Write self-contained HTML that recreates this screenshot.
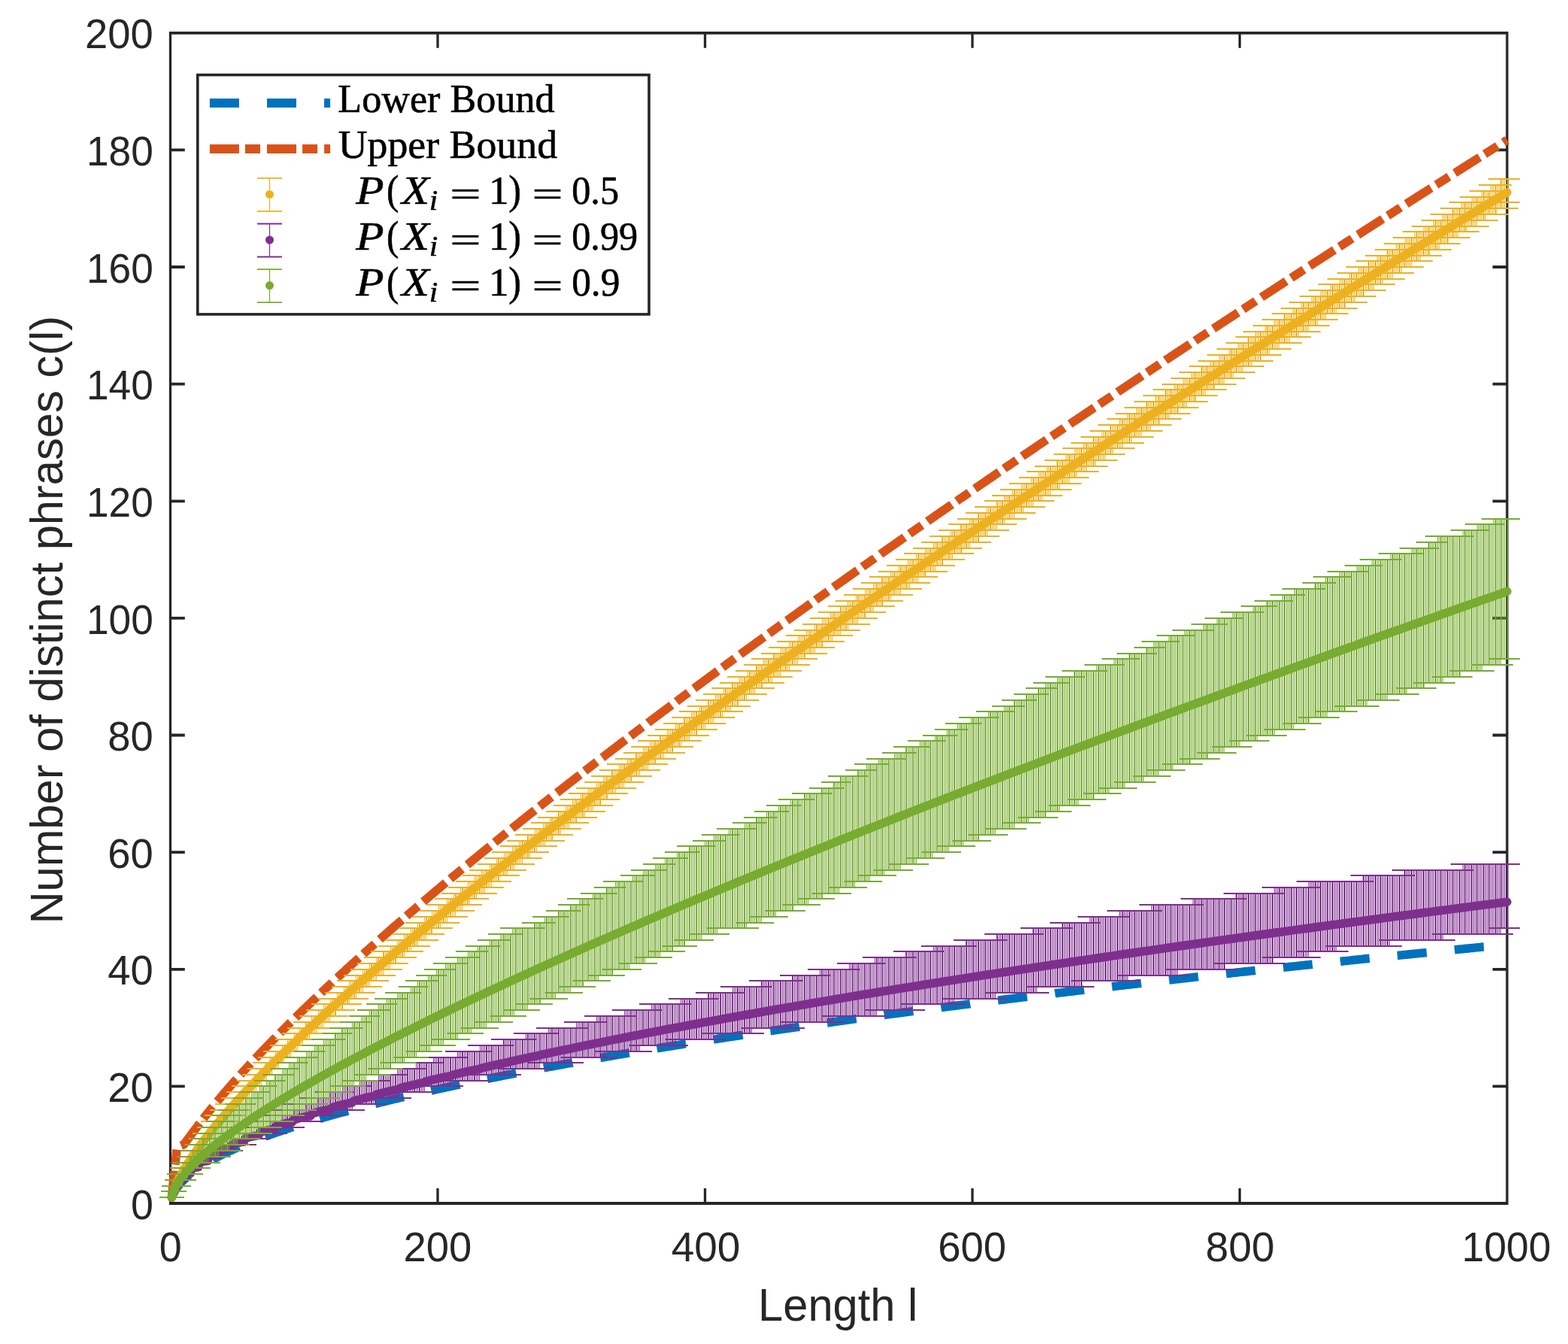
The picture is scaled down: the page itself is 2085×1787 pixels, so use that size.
<!DOCTYPE html><html><head><meta charset="utf-8"><title>Number of distinct phrases c(l) vs length l</title><style>html,body{margin:0;padding:0;background:#fff;overflow:hidden}svg{display:block}</style></head><body>
<svg width="2085" height="1787" viewBox="0 0 2085 1787">
<rect x="0" y="0" width="2085" height="1787" fill="#fff"/>
<path d="M582,1600V1580M582,43.8V63.8M937.5,1600V1580M937.5,43.8V63.8M1293,1600V1580M1293,43.8V63.8M1648.5,1600V1580M1648.5,43.8V63.8M226.5,41.9V1601.9M2004,41.9V1601.9" stroke="#262626" stroke-width="3.3" fill="none"/>
<path d="M226.5,1444.4H245.8M2004,1444.4H1984.7M226.5,1288.8H245.8M2004,1288.8H1984.7M226.5,1133.1H245.8M2004,1133.1H1984.7M226.5,977.5H245.8M2004,977.5H1984.7M226.5,821.9H245.8M2004,821.9H1984.7M226.5,666.3H245.8M2004,666.3H1984.7M226.5,510.7H245.8M2004,510.7H1984.7M226.5,355H245.8M2004,355H1984.7M226.5,199.4H245.8M2004,199.4H1984.7M226.5,43.8H2004M226.5,1600H2004" stroke="#262626" stroke-width="3.8" fill="none"/>
<text transform="translate(211.75,1676.9) scale(0.97,1)" font-family="Liberation Sans, Arial, Helvetica, sans-serif" font-size="55.5" fill="#262626">0</text>
<text transform="translate(536.39,1676.9) scale(0.98,1)" font-family="Liberation Sans, Arial, Helvetica, sans-serif" font-size="55.5" fill="#262626">200</text>
<text transform="translate(892.64,1676.9) scale(0.99,1)" font-family="Liberation Sans, Arial, Helvetica, sans-serif" font-size="55.5" fill="#262626">400</text>
<text transform="translate(1247.37,1676.9) scale(0.98,1)" font-family="Liberation Sans, Arial, Helvetica, sans-serif" font-size="55.5" fill="#262626">600</text>
<text transform="translate(1603.07,1676.9) scale(0.99,1)" font-family="Liberation Sans, Arial, Helvetica, sans-serif" font-size="55.5" fill="#262626">800</text>
<text transform="translate(1943.86,1676.9) scale(0.96,1)" font-family="Liberation Sans, Arial, Helvetica, sans-serif" font-size="55.5" fill="#262626">1000</text>
<text transform="translate(174.02,1620.6) scale(0.97,1)" font-family="Liberation Sans, Arial, Helvetica, sans-serif" font-size="55.5" fill="#262626">0</text>
<text transform="translate(143.33,1464.98) scale(0.98,1)" font-family="Liberation Sans, Arial, Helvetica, sans-serif" font-size="55.5" fill="#262626">20</text>
<text transform="translate(143.33,1309.36) scale(0.98,1)" font-family="Liberation Sans, Arial, Helvetica, sans-serif" font-size="55.5" fill="#262626">40</text>
<text transform="translate(143.33,1153.74) scale(0.98,1)" font-family="Liberation Sans, Arial, Helvetica, sans-serif" font-size="55.5" fill="#262626">60</text>
<text transform="translate(143.33,998.12) scale(0.98,1)" font-family="Liberation Sans, Arial, Helvetica, sans-serif" font-size="55.5" fill="#262626">80</text>
<text transform="translate(114.91,842.5) scale(0.96,1)" font-family="Liberation Sans, Arial, Helvetica, sans-serif" font-size="55.5" fill="#262626">100</text>
<text transform="translate(114.91,686.88) scale(0.96,1)" font-family="Liberation Sans, Arial, Helvetica, sans-serif" font-size="55.5" fill="#262626">120</text>
<text transform="translate(114.91,531.26) scale(0.96,1)" font-family="Liberation Sans, Arial, Helvetica, sans-serif" font-size="55.5" fill="#262626">140</text>
<text transform="translate(114.91,375.64) scale(0.96,1)" font-family="Liberation Sans, Arial, Helvetica, sans-serif" font-size="55.5" fill="#262626">160</text>
<text transform="translate(114.91,220.02) scale(0.96,1)" font-family="Liberation Sans, Arial, Helvetica, sans-serif" font-size="55.5" fill="#262626">180</text>
<text transform="translate(112.93,64.4) scale(0.98,1)" font-family="Liberation Sans, Arial, Helvetica, sans-serif" font-size="55.5" fill="#262626">200</text>
<text transform="translate(1008.09,1755.9) scale(0.97,1)" font-family="Liberation Sans, Arial, Helvetica, sans-serif" font-size="61.5" fill="#262626">Length l</text>
<text transform="translate(82.8,1228.61) rotate(-90) scale(0.97,1)" font-family="Liberation Sans, Arial, Helvetica, sans-serif" font-size="61.5" fill="#262626">Number of distinct phrases c(l)</text>
<polyline points="228.3,1592.2 230.1,1587.8 231.8,1584.4 233.6,1581.5 235.4,1579 237.2,1576.7 238.9,1574.5 240.7,1572.5 242.5,1570.7 244.3,1568.9 246.1,1567.2 247.8,1565.6 249.6,1564 251.4,1562.5 253.2,1561.1 254.9,1559.7 256.7,1558.4 258.5,1557 260.3,1555.8 262.1,1554.5 263.8,1553.3 265.6,1552.1 267.4,1551 269.2,1549.8 270.9,1548.7 272.7,1547.6 274.5,1546.6 276.3,1545.5 278,1544.5 279.8,1543.5 281.6,1542.5 283.4,1541.5 285.2,1540.6 286.9,1539.6 288.7,1538.7 290.5,1537.8 292.3,1536.8 294,1535.9 295.8,1535.1 297.6,1534.2 299.4,1533.3 301.2,1532.5 302.9,1531.6 304.7,1530.8 306.5,1530 308.3,1529.2 310,1528.4 311.8,1527.6 313.6,1526.8 315.4,1526 317.2,1525.2 318.9,1524.4 320.7,1523.7 322.5,1522.9 324.3,1522.2 326,1521.5 327.8,1520.7 329.6,1520 331.4,1519.3 333.1,1518.6 334.9,1517.9 336.7,1517.2 338.5,1516.5 340.3,1515.8 342,1515.1 343.8,1514.4 345.6,1513.7 347.4,1513.1 349.1,1512.4 350.9,1511.7 352.7,1511.1 354.5,1510.4 356.3,1509.8 358,1509.2 359.8,1508.5 361.6,1507.9 363.4,1507.3 365.1,1506.6 366.9,1506 368.7,1505.4 370.5,1504.8 372.3,1504.2 374,1503.6 375.8,1503 377.6,1502.4 379.4,1501.8 381.1,1501.2 382.9,1500.6 384.7,1500 386.5,1499.4 388.3,1498.8 390,1498.3 391.8,1497.7 393.6,1497.1 395.4,1496.6 397.1,1496 398.9,1495.4 400.7,1494.9 402.5,1494.3 404.2,1493.8 406,1493.2 407.8,1492.7 409.6,1492.1 411.4,1491.6 413.1,1491.1 414.9,1490.5 416.7,1490 418.5,1489.5 420.2,1488.9 422,1488.4 423.8,1487.9 425.6,1487.4 427.4,1486.9 429.1,1486.3 430.9,1485.8 432.7,1485.3 434.5,1484.8 436.2,1484.3 438,1483.8 439.8,1483.3 441.6,1482.8 443.4,1482.3 445.1,1481.8 446.9,1481.3 448.7,1480.8 450.5,1480.3 452.2,1479.8 454,1479.3 455.8,1478.8 457.6,1478.4 459.4,1477.9 461.1,1477.4 462.9,1476.9 464.7,1476.5 466.5,1476 468.2,1475.5 470,1475 471.8,1474.6 473.6,1474.1 475.4,1473.6 477.1,1473.2 478.9,1472.7 480.7,1472.2 482.5,1471.8 484.2,1471.3 486,1470.9 487.8,1470.4 489.6,1470 491.3,1469.5 493.1,1469.1 494.9,1468.6 496.7,1468.2 498.5,1467.7 500.2,1467.3 502,1466.8 503.8,1466.4 505.6,1466 507.3,1465.5 509.1,1465.1 510.9,1464.6 512.7,1464.2 514.5,1463.8 516.2,1463.3 518,1462.9 519.8,1462.5 521.6,1462.1 523.3,1461.6 525.1,1461.2 526.9,1460.8 528.7,1460.4 530.5,1459.9 532.2,1459.5 534,1459.1 535.8,1458.7 537.6,1458.3 539.3,1457.9 541.1,1457.4 542.9,1457 544.7,1456.6 546.5,1456.2 548.2,1455.8 550,1455.4 551.8,1455 553.6,1454.6 555.3,1454.2 557.1,1453.8 558.9,1453.4 560.7,1453 562.4,1452.6 564.2,1452.2 566,1451.8 567.8,1451.4 569.6,1451 571.3,1450.6 573.1,1450.2 574.9,1449.8 576.7,1449.4 578.4,1449 580.2,1448.6 582,1448.2 583.8,1447.8 585.6,1447.4 587.3,1447.1 589.1,1446.7 590.9,1446.3 592.7,1445.9 594.4,1445.5 596.2,1445.1 598,1444.8 599.8,1444.4 601.6,1444 603.3,1443.6 605.1,1443.2 606.9,1442.9 608.7,1442.5 610.4,1442.1 612.2,1441.7 614,1441.4 615.8,1441 617.5,1440.6 619.3,1440.3 621.1,1439.9 622.9,1439.5 624.7,1439.2 626.4,1438.8 628.2,1438.4 630,1438.1 631.8,1437.7 633.5,1437.3 635.3,1437 637.1,1436.6 638.9,1436.2 640.7,1435.9 642.4,1435.5 644.2,1435.2 646,1434.8 647.8,1434.4 649.5,1434.1 651.3,1433.7 653.1,1433.4 654.9,1433 656.7,1432.7 658.4,1432.3 660.2,1432 662,1431.6 663.8,1431.3 665.5,1430.9 667.3,1430.6 669.1,1430.2 670.9,1429.9 672.7,1429.5 674.4,1429.2 676.2,1428.8 678,1428.5 679.8,1428.1 681.5,1427.8 683.3,1427.4 685.1,1427.1 686.9,1426.8 688.7,1426.4 690.4,1426.1 692.2,1425.7 694,1425.4 695.8,1425.1 697.5,1424.7 699.3,1424.4 701.1,1424 702.9,1423.7 704.6,1423.4 706.4,1423 708.2,1422.7 710,1422.4 711.8,1422 713.5,1421.7 715.3,1421.4 717.1,1421 718.9,1420.7 720.6,1420.4 722.4,1420 724.2,1419.7 726,1419.4 727.8,1419.1 729.5,1418.7 731.3,1418.4 733.1,1418.1 734.9,1417.8 736.6,1417.4 738.4,1417.1 740.2,1416.8 742,1416.5 743.8,1416.1 745.5,1415.8 747.3,1415.5 749.1,1415.2 750.9,1414.9 752.6,1414.5 754.4,1414.2 756.2,1413.9 758,1413.6 759.8,1413.3 761.5,1412.9 763.3,1412.6 765.1,1412.3 766.9,1412 768.6,1411.7 770.4,1411.4 772.2,1411 774,1410.7 775.7,1410.4 777.5,1410.1 779.3,1409.8 781.1,1409.5 782.9,1409.2 784.6,1408.9 786.4,1408.6 788.2,1408.2 790,1407.9 791.7,1407.6 793.5,1407.3 795.3,1407 797.1,1406.7 798.9,1406.4 800.6,1406.1 802.4,1405.8 804.2,1405.5 806,1405.2 807.7,1404.9 809.5,1404.6 811.3,1404.3 813.1,1404 814.9,1403.7 816.6,1403.4 818.4,1403 820.2,1402.7 822,1402.4 823.7,1402.1 825.5,1401.8 827.3,1401.5 829.1,1401.2 830.9,1400.9 832.6,1400.7 834.4,1400.4 836.2,1400.1 838,1399.8 839.7,1399.5 841.5,1399.2 843.3,1398.9 845.1,1398.6 846.8,1398.3 848.6,1398 850.4,1397.7 852.2,1397.4 854,1397.1 855.7,1396.8 857.5,1396.5 859.3,1396.2 861.1,1395.9 862.8,1395.6 864.6,1395.4 866.4,1395.1 868.2,1394.8 870,1394.5 871.7,1394.2 873.5,1393.9 875.3,1393.6 877.1,1393.3 878.8,1393 880.6,1392.8 882.4,1392.5 884.2,1392.2 886,1391.9 887.7,1391.6 889.5,1391.3 891.3,1391 893.1,1390.8 894.8,1390.5 896.6,1390.2 898.4,1389.9 900.2,1389.6 902,1389.3 903.7,1389.1 905.5,1388.8 907.3,1388.5 909.1,1388.2 910.8,1387.9 912.6,1387.7 914.4,1387.4 916.2,1387.1 917.9,1386.8 919.7,1386.5 921.5,1386.3 923.3,1386 925.1,1385.7 926.8,1385.4 928.6,1385.2 930.4,1384.9 932.2,1384.6 933.9,1384.3 935.7,1384.1 937.5,1383.8 939.3,1383.5 941.1,1383.2 942.8,1383 944.6,1382.7 946.4,1382.4 948.2,1382.1 949.9,1381.9 951.7,1381.6 953.5,1381.3 955.3,1381 957.1,1380.8 958.8,1380.5 960.6,1380.2 962.4,1380 964.2,1379.7 965.9,1379.4 967.7,1379.1 969.5,1378.9 971.3,1378.6 973.1,1378.3 974.8,1378.1 976.6,1377.8 978.4,1377.5 980.2,1377.3 981.9,1377 983.7,1376.7 985.5,1376.5 987.3,1376.2 989,1375.9 990.8,1375.7 992.6,1375.4 994.4,1375.1 996.2,1374.9 997.9,1374.6 999.7,1374.4 1001.5,1374.1 1003.3,1373.8 1005,1373.6 1006.8,1373.3 1008.6,1373 1010.4,1372.8 1012.2,1372.5 1013.9,1372.3 1015.7,1372 1017.5,1371.7 1019.3,1371.5 1021,1371.2 1022.8,1370.9 1024.6,1370.7 1026.4,1370.4 1028.2,1370.2 1029.9,1369.9 1031.7,1369.7 1033.5,1369.4 1035.3,1369.1 1037,1368.9 1038.8,1368.6 1040.6,1368.4 1042.4,1368.1 1044.2,1367.8 1045.9,1367.6 1047.7,1367.3 1049.5,1367.1 1051.3,1366.8 1053,1366.6 1054.8,1366.3 1056.6,1366.1 1058.4,1365.8 1060.1,1365.6 1061.9,1365.3 1063.7,1365 1065.5,1364.8 1067.3,1364.5 1069,1364.3 1070.8,1364 1072.6,1363.8 1074.4,1363.5 1076.1,1363.3 1077.9,1363 1079.7,1362.8 1081.5,1362.5 1083.3,1362.3 1085,1362 1086.8,1361.8 1088.6,1361.5 1090.4,1361.3 1092.1,1361 1093.9,1360.8 1095.7,1360.5 1097.5,1360.3 1099.3,1360 1101,1359.8 1102.8,1359.5 1104.6,1359.3 1106.4,1359 1108.1,1358.8 1109.9,1358.5 1111.7,1358.3 1113.5,1358 1115.2,1357.8 1117,1357.6 1118.8,1357.3 1120.6,1357.1 1122.4,1356.8 1124.1,1356.6 1125.9,1356.3 1127.7,1356.1 1129.5,1355.8 1131.2,1355.6 1133,1355.4 1134.8,1355.1 1136.6,1354.9 1138.4,1354.6 1140.1,1354.4 1141.9,1354.1 1143.7,1353.9 1145.5,1353.7 1147.2,1353.4 1149,1353.2 1150.8,1352.9 1152.6,1352.7 1154.4,1352.4 1156.1,1352.2 1157.9,1352 1159.7,1351.7 1161.5,1351.5 1163.2,1351.2 1165,1351 1166.8,1350.8 1168.6,1350.5 1170.4,1350.3 1172.1,1350.1 1173.9,1349.8 1175.7,1349.6 1177.5,1349.3 1179.2,1349.1 1181,1348.9 1182.8,1348.6 1184.6,1348.4 1186.3,1348.2 1188.1,1347.9 1189.9,1347.7 1191.7,1347.4 1193.5,1347.2 1195.2,1347 1197,1346.7 1198.8,1346.5 1200.6,1346.3 1202.3,1346 1204.1,1345.8 1205.9,1345.6 1207.7,1345.3 1209.5,1345.1 1211.2,1344.9 1213,1344.6 1214.8,1344.4 1216.6,1344.2 1218.3,1343.9 1220.1,1343.7 1221.9,1343.5 1223.7,1343.2 1225.5,1343 1227.2,1342.8 1229,1342.5 1230.8,1342.3 1232.6,1342.1 1234.3,1341.8 1236.1,1341.6 1237.9,1341.4 1239.7,1341.1 1241.5,1340.9 1243.2,1340.7 1245,1340.5 1246.8,1340.2 1248.6,1340 1250.3,1339.8 1252.1,1339.5 1253.9,1339.3 1255.7,1339.1 1257.5,1338.9 1259.2,1338.6 1261,1338.4 1262.8,1338.2 1264.6,1337.9 1266.3,1337.7 1268.1,1337.5 1269.9,1337.3 1271.7,1337 1273.4,1336.8 1275.2,1336.6 1277,1336.3 1278.8,1336.1 1280.6,1335.9 1282.3,1335.7 1284.1,1335.4 1285.9,1335.2 1287.7,1335 1289.4,1334.8 1291.2,1334.5 1293,1334.3 1294.8,1334.1 1296.6,1333.9 1298.3,1333.6 1300.1,1333.4 1301.9,1333.2 1303.7,1333 1305.4,1332.8 1307.2,1332.5 1309,1332.3 1310.8,1332.1 1312.6,1331.9 1314.3,1331.6 1316.1,1331.4 1317.9,1331.2 1319.7,1331 1321.4,1330.8 1323.2,1330.5 1325,1330.3 1326.8,1330.1 1328.5,1329.9 1330.3,1329.6 1332.1,1329.4 1333.9,1329.2 1335.7,1329 1337.4,1328.8 1339.2,1328.5 1341,1328.3 1342.8,1328.1 1344.5,1327.9 1346.3,1327.7 1348.1,1327.4 1349.9,1327.2 1351.7,1327 1353.4,1326.8 1355.2,1326.6 1357,1326.4 1358.8,1326.1 1360.5,1325.9 1362.3,1325.7 1364.1,1325.5 1365.9,1325.3 1367.7,1325 1369.4,1324.8 1371.2,1324.6 1373,1324.4 1374.8,1324.2 1376.5,1324 1378.3,1323.7 1380.1,1323.5 1381.9,1323.3 1383.7,1323.1 1385.4,1322.9 1387.2,1322.7 1389,1322.5 1390.8,1322.2 1392.5,1322 1394.3,1321.8 1396.1,1321.6 1397.9,1321.4 1399.7,1321.2 1401.4,1321 1403.2,1320.7 1405,1320.5 1406.8,1320.3 1408.5,1320.1 1410.3,1319.9 1412.1,1319.7 1413.9,1319.5 1415.6,1319.2 1417.4,1319 1419.2,1318.8 1421,1318.6 1422.8,1318.4 1424.5,1318.2 1426.3,1318 1428.1,1317.8 1429.9,1317.5 1431.6,1317.3 1433.4,1317.1 1435.2,1316.9 1437,1316.7 1438.8,1316.5 1440.5,1316.3 1442.3,1316.1 1444.1,1315.9 1445.9,1315.7 1447.6,1315.4 1449.4,1315.2 1451.2,1315 1453,1314.8 1454.8,1314.6 1456.5,1314.4 1458.3,1314.2 1460.1,1314 1461.9,1313.8 1463.6,1313.6 1465.4,1313.4 1467.2,1313.1 1469,1312.9 1470.8,1312.7 1472.5,1312.5 1474.3,1312.3 1476.1,1312.1 1477.9,1311.9 1479.6,1311.7 1481.4,1311.5 1483.2,1311.3 1485,1311.1 1486.7,1310.9 1488.5,1310.7 1490.3,1310.4 1492.1,1310.2 1493.9,1310 1495.6,1309.8 1497.4,1309.6 1499.2,1309.4 1501,1309.2 1502.7,1309 1504.5,1308.8 1506.3,1308.6 1508.1,1308.4 1509.9,1308.2 1511.6,1308 1513.4,1307.8 1515.2,1307.6 1517,1307.4 1518.7,1307.2 1520.5,1307 1522.3,1306.8 1524.1,1306.6 1525.9,1306.3 1527.6,1306.1 1529.4,1305.9 1531.2,1305.7 1533,1305.5 1534.7,1305.3 1536.5,1305.1 1538.3,1304.9 1540.1,1304.7 1541.9,1304.5 1543.6,1304.3 1545.4,1304.1 1547.2,1303.9 1549,1303.7 1550.7,1303.5 1552.5,1303.3 1554.3,1303.1 1556.1,1302.9 1557.8,1302.7 1559.6,1302.5 1561.4,1302.3 1563.2,1302.1 1565,1301.9 1566.7,1301.7 1568.5,1301.5 1570.3,1301.3 1572.1,1301.1 1573.8,1300.9 1575.6,1300.7 1577.4,1300.5 1579.2,1300.3 1581,1300.1 1582.7,1299.9 1584.5,1299.7 1586.3,1299.5 1588.1,1299.3 1589.8,1299.1 1591.6,1298.9 1593.4,1298.7 1595.2,1298.5 1597,1298.3 1598.7,1298.1 1600.5,1297.9 1602.3,1297.7 1604.1,1297.5 1605.8,1297.3 1607.6,1297.1 1609.4,1296.9 1611.2,1296.7 1613,1296.5 1614.7,1296.3 1616.5,1296.1 1618.3,1296 1620.1,1295.8 1621.8,1295.6 1623.6,1295.4 1625.4,1295.2 1627.2,1295 1628.9,1294.8 1630.7,1294.6 1632.5,1294.4 1634.3,1294.2 1636.1,1294 1637.8,1293.8 1639.6,1293.6 1641.4,1293.4 1643.2,1293.2 1644.9,1293 1646.7,1292.8 1648.5,1292.6 1650.3,1292.4 1652.1,1292.2 1653.8,1292 1655.6,1291.8 1657.4,1291.7 1659.2,1291.5 1660.9,1291.3 1662.7,1291.1 1664.5,1290.9 1666.3,1290.7 1668.1,1290.5 1669.8,1290.3 1671.6,1290.1 1673.4,1289.9 1675.2,1289.7 1676.9,1289.5 1678.7,1289.3 1680.5,1289.1 1682.3,1289 1684,1288.8 1685.8,1288.6 1687.6,1288.4 1689.4,1288.2 1691.2,1288 1692.9,1287.8 1694.7,1287.6 1696.5,1287.4 1698.3,1287.2 1700,1287 1701.8,1286.8 1703.6,1286.7 1705.4,1286.5 1707.2,1286.3 1708.9,1286.1 1710.7,1285.9 1712.5,1285.7 1714.3,1285.5 1716,1285.3 1717.8,1285.1 1719.6,1284.9 1721.4,1284.8 1723.2,1284.6 1724.9,1284.4 1726.7,1284.2 1728.5,1284 1730.3,1283.8 1732,1283.6 1733.8,1283.4 1735.6,1283.2 1737.4,1283 1739.2,1282.9 1740.9,1282.7 1742.7,1282.5 1744.5,1282.3 1746.3,1282.1 1748,1281.9 1749.8,1281.7 1751.6,1281.5 1753.4,1281.4 1755.2,1281.2 1756.9,1281 1758.7,1280.8 1760.5,1280.6 1762.3,1280.4 1764,1280.2 1765.8,1280 1767.6,1279.9 1769.4,1279.7 1771.1,1279.5 1772.9,1279.3 1774.7,1279.1 1776.5,1278.9 1778.3,1278.7 1780,1278.6 1781.8,1278.4 1783.6,1278.2 1785.4,1278 1787.1,1277.8 1788.9,1277.6 1790.7,1277.4 1792.5,1277.3 1794.3,1277.1 1796,1276.9 1797.8,1276.7 1799.6,1276.5 1801.4,1276.3 1803.1,1276.1 1804.9,1276 1806.7,1275.8 1808.5,1275.6 1810.3,1275.4 1812,1275.2 1813.8,1275 1815.6,1274.8 1817.4,1274.7 1819.1,1274.5 1820.9,1274.3 1822.7,1274.1 1824.5,1273.9 1826.2,1273.7 1828,1273.6 1829.8,1273.4 1831.6,1273.2 1833.4,1273 1835.1,1272.8 1836.9,1272.6 1838.7,1272.5 1840.5,1272.3 1842.2,1272.1 1844,1271.9 1845.8,1271.7 1847.6,1271.6 1849.4,1271.4 1851.1,1271.2 1852.9,1271 1854.7,1270.8 1856.5,1270.6 1858.2,1270.5 1860,1270.3 1861.8,1270.1 1863.6,1269.9 1865.4,1269.7 1867.1,1269.6 1868.9,1269.4 1870.7,1269.2 1872.5,1269 1874.2,1268.8 1876,1268.7 1877.8,1268.5 1879.6,1268.3 1881.4,1268.1 1883.1,1267.9 1884.9,1267.8 1886.7,1267.6 1888.5,1267.4 1890.2,1267.2 1892,1267 1893.8,1266.9 1895.6,1266.7 1897.4,1266.5 1899.1,1266.3 1900.9,1266.1 1902.7,1266 1904.5,1265.8 1906.2,1265.6 1908,1265.4 1909.8,1265.2 1911.6,1265.1 1913.3,1264.9 1915.1,1264.7 1916.9,1264.5 1918.7,1264.3 1920.5,1264.2 1922.2,1264 1924,1263.8 1925.8,1263.6 1927.6,1263.5 1929.3,1263.3 1931.1,1263.1 1932.9,1262.9 1934.7,1262.7 1936.5,1262.6 1938.2,1262.4 1940,1262.2 1941.8,1262 1943.6,1261.9 1945.3,1261.7 1947.1,1261.5 1948.9,1261.3 1950.7,1261.2 1952.5,1261 1954.2,1260.8 1956,1260.6 1957.8,1260.4 1959.6,1260.3 1961.3,1260.1 1963.1,1259.9 1964.9,1259.7 1966.7,1259.6 1968.5,1259.4 1970.2,1259.2 1972,1259 1973.8,1258.9 1975.6,1258.7 1977.3,1258.5 1979.1,1258.3 1980.9,1258.2 1982.7,1258 1984.4,1257.8 1986.2,1257.6 1988,1257.5 1989.8,1257.3 1991.6,1257.1 1993.3,1256.9 1995.1,1256.8 1996.9,1256.6 1998.7,1256.4 2000.4,1256.2 2002.2,1256.1 2004,1255.9" fill="none" stroke="#0072BD" stroke-width="11.5" stroke-dasharray="39.1 37.27" stroke-dashoffset="0.58" stroke-linejoin="round"/>
<polyline points="228.3,1592.2 235.4,1525.3 244.3,1521.8 246.1,1519.8 247.8,1517.4 249.6,1514.9 251.4,1512.5 253.2,1510.1 254.9,1507.7 256.7,1505.3 258.5,1502.9 260.3,1500.5 262.1,1498.2 263.8,1495.8 265.6,1493.5 267.4,1491.2 269.2,1488.9 270.9,1486.6 272.7,1484.4 274.5,1482.1 276.3,1479.9 278,1477.7 279.8,1475.5 281.6,1473.3 283.4,1471.1 285.2,1468.9 286.9,1466.8 288.7,1464.6 290.5,1462.5 292.3,1460.4 294,1458.3 295.8,1456.2 297.6,1454.1 299.4,1452 301.2,1450 302.9,1447.9 304.7,1445.9 306.5,1443.8 308.3,1441.8 310,1439.8 311.8,1437.8 313.6,1435.8 315.4,1433.8 317.2,1431.8 318.9,1429.8 320.7,1427.8 322.5,1425.9 324.3,1423.9 326,1422 327.8,1420 329.6,1418.1 331.4,1416.2 333.1,1414.3 334.9,1412.4 336.7,1410.5 338.5,1408.6 340.3,1406.7 342,1404.8 343.8,1402.9 345.6,1401 347.4,1399.1 349.1,1397.3 350.9,1395.4 352.7,1393.6 354.5,1391.7 356.3,1389.9 358,1388.1 359.8,1386.2 361.6,1384.4 363.4,1382.6 365.1,1380.8 366.9,1378.9 368.7,1377.1 370.5,1375.3 372.3,1373.5 374,1371.8 375.8,1370 377.6,1368.2 379.4,1366.4 381.1,1364.6 382.9,1362.9 384.7,1361.1 386.5,1359.3 388.3,1357.6 390,1355.8 391.8,1354.1 393.6,1352.3 395.4,1350.6 397.1,1348.8 398.9,1347.1 400.7,1345.4 402.5,1343.6 404.2,1341.9 406,1340.2 407.8,1338.5 409.6,1336.8 411.4,1335.1 413.1,1333.4 414.9,1331.6 416.7,1329.9 418.5,1328.3 420.2,1326.6 422,1324.9 423.8,1323.2 425.6,1321.5 427.4,1319.8 429.1,1318.1 430.9,1316.5 432.7,1314.8 434.5,1313.1 436.2,1311.5 438,1309.8 439.8,1308.1 441.6,1306.5 443.4,1304.8 445.1,1303.2 446.9,1301.5 448.7,1299.9 450.5,1298.2 452.2,1296.6 454,1295 455.8,1293.3 457.6,1291.7 459.4,1290.1 461.1,1288.4 462.9,1286.8 464.7,1285.2 466.5,1283.6 468.2,1281.9 470,1280.3 471.8,1278.7 473.6,1277.1 475.4,1275.5 477.1,1273.9 478.9,1272.3 480.7,1270.7 482.5,1269.1 484.2,1267.5 486,1265.9 487.8,1264.3 489.6,1262.7 491.3,1261.1 493.1,1259.5 494.9,1257.9 496.7,1256.4 498.5,1254.8 500.2,1253.2 502,1251.6 503.8,1250.1 505.6,1248.5 507.3,1246.9 509.1,1245.3 510.9,1243.8 512.7,1242.2 514.5,1240.7 516.2,1239.1 518,1237.5 519.8,1236 521.6,1234.4 523.3,1232.9 525.1,1231.3 526.9,1229.8 528.7,1228.2 530.5,1226.7 532.2,1225.1 534,1223.6 535.8,1222.1 537.6,1220.5 539.3,1219 541.1,1217.5 542.9,1215.9 544.7,1214.4 546.5,1212.9 548.2,1211.3 550,1209.8 551.8,1208.3 553.6,1206.8 555.3,1205.2 557.1,1203.7 558.9,1202.2 560.7,1200.7 562.4,1199.2 564.2,1197.7 566,1196.1 567.8,1194.6 569.6,1193.1 571.3,1191.6 573.1,1190.1 574.9,1188.6 576.7,1187.1 578.4,1185.6 580.2,1184.1 582,1182.6 583.8,1181.1 585.6,1179.6 587.3,1178.1 589.1,1176.6 590.9,1175.2 592.7,1173.7 594.4,1172.2 596.2,1170.7 598,1169.2 599.8,1167.7 601.6,1166.2 603.3,1164.8 605.1,1163.3 606.9,1161.8 608.7,1160.3 610.4,1158.9 612.2,1157.4 614,1155.9 615.8,1154.4 617.5,1153 619.3,1151.5 621.1,1150 622.9,1148.6 624.7,1147.1 626.4,1145.6 628.2,1144.2 630,1142.7 631.8,1141.3 633.5,1139.8 635.3,1138.3 637.1,1136.9 638.9,1135.4 640.7,1134 642.4,1132.5 644.2,1131.1 646,1129.6 647.8,1128.2 649.5,1126.7 651.3,1125.3 653.1,1123.8 654.9,1122.4 656.7,1120.9 658.4,1119.5 660.2,1118.1 662,1116.6 663.8,1115.2 665.5,1113.7 667.3,1112.3 669.1,1110.9 670.9,1109.4 672.7,1108 674.4,1106.6 676.2,1105.1 678,1103.7 679.8,1102.3 681.5,1100.9 683.3,1099.4 685.1,1098 686.9,1096.6 688.7,1095.2 690.4,1093.7 692.2,1092.3 694,1090.9 695.8,1089.5 697.5,1088.1 699.3,1086.6 701.1,1085.2 702.9,1083.8 704.6,1082.4 706.4,1081 708.2,1079.6 710,1078.2 711.8,1076.8 713.5,1075.3 715.3,1073.9 717.1,1072.5 718.9,1071.1 720.6,1069.7 722.4,1068.3 724.2,1066.9 726,1065.5 727.8,1064.1 729.5,1062.7 731.3,1061.3 733.1,1059.9 734.9,1058.5 736.6,1057.1 738.4,1055.7 740.2,1054.3 742,1052.9 743.8,1051.5 745.5,1050.2 747.3,1048.8 749.1,1047.4 750.9,1046 752.6,1044.6 754.4,1043.2 756.2,1041.8 758,1040.4 759.8,1039.1 761.5,1037.7 763.3,1036.3 765.1,1034.9 766.9,1033.5 768.6,1032.1 770.4,1030.8 772.2,1029.4 774,1028 775.7,1026.6 777.5,1025.3 779.3,1023.9 781.1,1022.5 782.9,1021.1 784.6,1019.8 786.4,1018.4 788.2,1017 790,1015.6 791.7,1014.3 793.5,1012.9 795.3,1011.5 797.1,1010.2 798.9,1008.8 800.6,1007.4 802.4,1006.1 804.2,1004.7 806,1003.3 807.7,1002 809.5,1000.6 811.3,999.3 813.1,997.9 814.9,996.5 816.6,995.2 818.4,993.8 820.2,992.5 822,991.1 823.7,989.8 825.5,988.4 827.3,987 829.1,985.7 830.9,984.3 832.6,983 834.4,981.6 836.2,980.3 838,978.9 839.7,977.6 841.5,976.2 843.3,974.9 845.1,973.5 846.8,972.2 848.6,970.9 850.4,969.5 852.2,968.2 854,966.8 855.7,965.5 857.5,964.1 859.3,962.8 861.1,961.5 862.8,960.1 864.6,958.8 866.4,957.4 868.2,956.1 870,954.8 871.7,953.4 873.5,952.1 875.3,950.8 877.1,949.4 878.8,948.1 880.6,946.8 882.4,945.4 884.2,944.1 886,942.8 887.7,941.4 889.5,940.1 891.3,938.8 893.1,937.4 894.8,936.1 896.6,934.8 898.4,933.5 900.2,932.1 902,930.8 903.7,929.5 905.5,928.2 907.3,926.8 909.1,925.5 910.8,924.2 912.6,922.9 914.4,921.6 916.2,920.2 917.9,918.9 919.7,917.6 921.5,916.3 923.3,915 925.1,913.6 926.8,912.3 928.6,911 930.4,909.7 932.2,908.4 933.9,907.1 935.7,905.8 937.5,904.4 939.3,903.1 941.1,901.8 942.8,900.5 944.6,899.2 946.4,897.9 948.2,896.6 949.9,895.3 951.7,894 953.5,892.7 955.3,891.4 957.1,890 958.8,888.7 960.6,887.4 962.4,886.1 964.2,884.8 965.9,883.5 967.7,882.2 969.5,880.9 971.3,879.6 973.1,878.3 974.8,877 976.6,875.7 978.4,874.4 980.2,873.1 981.9,871.8 983.7,870.5 985.5,869.2 987.3,867.9 989,866.6 990.8,865.3 992.6,864 994.4,862.7 996.2,861.5 997.9,860.2 999.7,858.9 1001.5,857.6 1003.3,856.3 1005,855 1006.8,853.7 1008.6,852.4 1010.4,851.1 1012.2,849.8 1013.9,848.5 1015.7,847.3 1017.5,846 1019.3,844.7 1021,843.4 1022.8,842.1 1024.6,840.8 1026.4,839.5 1028.2,838.3 1029.9,837 1031.7,835.7 1033.5,834.4 1035.3,833.1 1037,831.8 1038.8,830.6 1040.6,829.3 1042.4,828 1044.2,826.7 1045.9,825.4 1047.7,824.2 1049.5,822.9 1051.3,821.6 1053,820.3 1054.8,819.1 1056.6,817.8 1058.4,816.5 1060.1,815.2 1061.9,814 1063.7,812.7 1065.5,811.4 1067.3,810.1 1069,808.9 1070.8,807.6 1072.6,806.3 1074.4,805 1076.1,803.8 1077.9,802.5 1079.7,801.2 1081.5,800 1083.3,798.7 1085,797.4 1086.8,796.2 1088.6,794.9 1090.4,793.6 1092.1,792.4 1093.9,791.1 1095.7,789.8 1097.5,788.6 1099.3,787.3 1101,786 1102.8,784.8 1104.6,783.5 1106.4,782.2 1108.1,781 1109.9,779.7 1111.7,778.4 1113.5,777.2 1115.2,775.9 1117,774.7 1118.8,773.4 1120.6,772.1 1122.4,770.9 1124.1,769.6 1125.9,768.4 1127.7,767.1 1129.5,765.9 1131.2,764.6 1133,763.3 1134.8,762.1 1136.6,760.8 1138.4,759.6 1140.1,758.3 1141.9,757.1 1143.7,755.8 1145.5,754.6 1147.2,753.3 1149,752.1 1150.8,750.8 1152.6,749.6 1154.4,748.3 1156.1,747.1 1157.9,745.8 1159.7,744.6 1161.5,743.3 1163.2,742.1 1165,740.8 1166.8,739.6 1168.6,738.3 1170.4,737.1 1172.1,735.8 1173.9,734.6 1175.7,733.3 1177.5,732.1 1179.2,730.8 1181,729.6 1182.8,728.3 1184.6,727.1 1186.3,725.9 1188.1,724.6 1189.9,723.4 1191.7,722.1 1193.5,720.9 1195.2,719.6 1197,718.4 1198.8,717.2 1200.6,715.9 1202.3,714.7 1204.1,713.4 1205.9,712.2 1207.7,711 1209.5,709.7 1211.2,708.5 1213,707.2 1214.8,706 1216.6,704.8 1218.3,703.5 1220.1,702.3 1221.9,701.1 1223.7,699.8 1225.5,698.6 1227.2,697.4 1229,696.1 1230.8,694.9 1232.6,693.7 1234.3,692.4 1236.1,691.2 1237.9,690 1239.7,688.7 1241.5,687.5 1243.2,686.3 1245,685 1246.8,683.8 1248.6,682.6 1250.3,681.3 1252.1,680.1 1253.9,678.9 1255.7,677.7 1257.5,676.4 1259.2,675.2 1261,674 1262.8,672.7 1264.6,671.5 1266.3,670.3 1268.1,669.1 1269.9,667.8 1271.7,666.6 1273.4,665.4 1275.2,664.2 1277,662.9 1278.8,661.7 1280.6,660.5 1282.3,659.3 1284.1,658.1 1285.9,656.8 1287.7,655.6 1289.4,654.4 1291.2,653.2 1293,651.9 1294.8,650.7 1296.6,649.5 1298.3,648.3 1300.1,647.1 1301.9,645.8 1303.7,644.6 1305.4,643.4 1307.2,642.2 1309,641 1310.8,639.8 1312.6,638.5 1314.3,637.3 1316.1,636.1 1317.9,634.9 1319.7,633.7 1321.4,632.5 1323.2,631.2 1325,630 1326.8,628.8 1328.5,627.6 1330.3,626.4 1332.1,625.2 1333.9,624 1335.7,622.7 1337.4,621.5 1339.2,620.3 1341,619.1 1342.8,617.9 1344.5,616.7 1346.3,615.5 1348.1,614.3 1349.9,613.1 1351.7,611.9 1353.4,610.6 1355.2,609.4 1357,608.2 1358.8,607 1360.5,605.8 1362.3,604.6 1364.1,603.4 1365.9,602.2 1367.7,601 1369.4,599.8 1371.2,598.6 1373,597.4 1374.8,596.2 1376.5,595 1378.3,593.7 1380.1,592.5 1381.9,591.3 1383.7,590.1 1385.4,588.9 1387.2,587.7 1389,586.5 1390.8,585.3 1392.5,584.1 1394.3,582.9 1396.1,581.7 1397.9,580.5 1399.7,579.3 1401.4,578.1 1403.2,576.9 1405,575.7 1406.8,574.5 1408.5,573.3 1410.3,572.1 1412.1,570.9 1413.9,569.7 1415.6,568.5 1417.4,567.3 1419.2,566.1 1421,564.9 1422.8,563.7 1424.5,562.5 1426.3,561.3 1428.1,560.1 1429.9,558.9 1431.6,557.8 1433.4,556.6 1435.2,555.4 1437,554.2 1438.8,553 1440.5,551.8 1442.3,550.6 1444.1,549.4 1445.9,548.2 1447.6,547 1449.4,545.8 1451.2,544.6 1453,543.4 1454.8,542.2 1456.5,541.1 1458.3,539.9 1460.1,538.7 1461.9,537.5 1463.6,536.3 1465.4,535.1 1467.2,533.9 1469,532.7 1470.8,531.5 1472.5,530.3 1474.3,529.2 1476.1,528 1477.9,526.8 1479.6,525.6 1481.4,524.4 1483.2,523.2 1485,522 1486.7,520.8 1488.5,519.7 1490.3,518.5 1492.1,517.3 1493.9,516.1 1495.6,514.9 1497.4,513.7 1499.2,512.6 1501,511.4 1502.7,510.2 1504.5,509 1506.3,507.8 1508.1,506.6 1509.9,505.5 1511.6,504.3 1513.4,503.1 1515.2,501.9 1517,500.7 1518.7,499.5 1520.5,498.4 1522.3,497.2 1524.1,496 1525.9,494.8 1527.6,493.6 1529.4,492.5 1531.2,491.3 1533,490.1 1534.7,488.9 1536.5,487.7 1538.3,486.6 1540.1,485.4 1541.9,484.2 1543.6,483 1545.4,481.9 1547.2,480.7 1549,479.5 1550.7,478.3 1552.5,477.2 1554.3,476 1556.1,474.8 1557.8,473.6 1559.6,472.5 1561.4,471.3 1563.2,470.1 1565,468.9 1566.7,467.8 1568.5,466.6 1570.3,465.4 1572.1,464.2 1573.8,463.1 1575.6,461.9 1577.4,460.7 1579.2,459.5 1581,458.4 1582.7,457.2 1584.5,456 1586.3,454.9 1588.1,453.7 1589.8,452.5 1591.6,451.4 1593.4,450.2 1595.2,449 1597,447.8 1598.7,446.7 1600.5,445.5 1602.3,444.3 1604.1,443.2 1605.8,442 1607.6,440.8 1609.4,439.7 1611.2,438.5 1613,437.3 1614.7,436.2 1616.5,435 1618.3,433.8 1620.1,432.7 1621.8,431.5 1623.6,430.3 1625.4,429.2 1627.2,428 1628.9,426.8 1630.7,425.7 1632.5,424.5 1634.3,423.3 1636.1,422.2 1637.8,421 1639.6,419.9 1641.4,418.7 1643.2,417.5 1644.9,416.4 1646.7,415.2 1648.5,414 1650.3,412.9 1652.1,411.7 1653.8,410.6 1655.6,409.4 1657.4,408.2 1659.2,407.1 1660.9,405.9 1662.7,404.8 1664.5,403.6 1666.3,402.4 1668.1,401.3 1669.8,400.1 1671.6,399 1673.4,397.8 1675.2,396.6 1676.9,395.5 1678.7,394.3 1680.5,393.2 1682.3,392 1684,390.9 1685.8,389.7 1687.6,388.5 1689.4,387.4 1691.2,386.2 1692.9,385.1 1694.7,383.9 1696.5,382.8 1698.3,381.6 1700,380.4 1701.8,379.3 1703.6,378.1 1705.4,377 1707.2,375.8 1708.9,374.7 1710.7,373.5 1712.5,372.4 1714.3,371.2 1716,370.1 1717.8,368.9 1719.6,367.8 1721.4,366.6 1723.2,365.5 1724.9,364.3 1726.7,363.1 1728.5,362 1730.3,360.8 1732,359.7 1733.8,358.5 1735.6,357.4 1737.4,356.2 1739.2,355.1 1740.9,353.9 1742.7,352.8 1744.5,351.6 1746.3,350.5 1748,349.3 1749.8,348.2 1751.6,347 1753.4,345.9 1755.2,344.8 1756.9,343.6 1758.7,342.5 1760.5,341.3 1762.3,340.2 1764,339 1765.8,337.9 1767.6,336.7 1769.4,335.6 1771.1,334.4 1772.9,333.3 1774.7,332.1 1776.5,331 1778.3,329.8 1780,328.7 1781.8,327.6 1783.6,326.4 1785.4,325.3 1787.1,324.1 1788.9,323 1790.7,321.8 1792.5,320.7 1794.3,319.6 1796,318.4 1797.8,317.3 1799.6,316.1 1801.4,315 1803.1,313.8 1804.9,312.7 1806.7,311.6 1808.5,310.4 1810.3,309.3 1812,308.1 1813.8,307 1815.6,305.8 1817.4,304.7 1819.1,303.6 1820.9,302.4 1822.7,301.3 1824.5,300.1 1826.2,299 1828,297.9 1829.8,296.7 1831.6,295.6 1833.4,294.5 1835.1,293.3 1836.9,292.2 1838.7,291 1840.5,289.9 1842.2,288.8 1844,287.6 1845.8,286.5 1847.6,285.4 1849.4,284.2 1851.1,283.1 1852.9,281.9 1854.7,280.8 1856.5,279.7 1858.2,278.5 1860,277.4 1861.8,276.3 1863.6,275.1 1865.4,274 1867.1,272.9 1868.9,271.7 1870.7,270.6 1872.5,269.5 1874.2,268.3 1876,267.2 1877.8,266.1 1879.6,264.9 1881.4,263.8 1883.1,262.7 1884.9,261.5 1886.7,260.4 1888.5,259.3 1890.2,258.1 1892,257 1893.8,255.9 1895.6,254.7 1897.4,253.6 1899.1,252.5 1900.9,251.3 1902.7,250.2 1904.5,249.1 1906.2,248 1908,246.8 1909.8,245.7 1911.6,244.6 1913.3,243.4 1915.1,242.3 1916.9,241.2 1918.7,240 1920.5,238.9 1922.2,237.8 1924,236.7 1925.8,235.5 1927.6,234.4 1929.3,233.3 1931.1,232.1 1932.9,231 1934.7,229.9 1936.5,228.8 1938.2,227.6 1940,226.5 1941.8,225.4 1943.6,224.3 1945.3,223.1 1947.1,222 1948.9,220.9 1950.7,219.8 1952.5,218.6 1954.2,217.5 1956,216.4 1957.8,215.3 1959.6,214.1 1961.3,213 1963.1,211.9 1964.9,210.8 1966.7,209.6 1968.5,208.5 1970.2,207.4 1972,206.3 1973.8,205.1 1975.6,204 1977.3,202.9 1979.1,201.8 1980.9,200.7 1982.7,199.5 1984.4,198.4 1986.2,197.3 1988,196.2 1989.8,195.1 1991.6,193.9 1993.3,192.8 1995.1,191.7 1996.9,190.6 1998.7,189.4 2000.4,188.3 2002.2,187.2 2004,186.1" fill="none" stroke="#D95319" stroke-width="11.5" stroke-dasharray="39.15 8.03 20.08 9.14" stroke-dashoffset="3.3" stroke-linejoin="round"/>
<path d="M228.3 1592.2V1592.2M230.1 1584.4V1584.4M231.8 1576.7V1584.4M233.6 1576.7V1576.7M235.4 1568.9V1576.7M237.2 1568.9V1576.7M238.9 1561.1V1568.9M240.7 1561.1V1568.9M242.5 1553.3V1568.9M244.3 1553.3V1568.9M246.1 1545.5V1561.1M247.8 1545.5V1561.1M249.6 1545.5V1553.3M251.4 1537.8V1553.3M253.2 1537.8V1553.3M254.9 1537.8V1545.5M256.7 1530V1545.5M258.5 1530V1545.5M260.3 1530V1537.8M262.1 1522.2V1537.8M263.8 1522.2V1537.8M265.6 1522.2V1530M267.4 1514.4V1530M269.2 1514.4V1530M270.9 1514.4V1530M272.7 1506.6V1522.2M274.5 1506.6V1522.2M276.3 1506.6V1522.2M278 1498.8V1514.4M279.8 1498.8V1514.4M281.6 1498.8V1514.4M283.4 1491.1V1514.4M285.2 1491.1V1506.6M286.9 1491.1V1506.6M288.7 1483.3V1506.6M290.5 1483.3V1498.8M292.3 1483.3V1498.8M294 1483.3V1498.8M295.8 1475.5V1498.8M297.6 1475.5V1491.1M299.4 1475.5V1491.1M301.2 1475.5V1491.1M302.9 1467.7V1491.1M304.7 1467.7V1483.3M306.5 1467.7V1483.3M308.3 1467.7V1483.3M310 1459.9V1483.3M311.8 1459.9V1475.5M313.6 1459.9V1475.5M315.4 1459.9V1475.5M317.2 1452.2V1475.5M318.9 1452.2V1467.7M320.7 1452.2V1467.7M322.5 1452.2V1467.7M324.3 1444.4V1467.7M326 1444.4V1459.9M327.8 1444.4V1459.9M329.6 1444.4V1459.9M331.4 1436.6V1459.9M333.1 1436.6V1452.2M334.9 1436.6V1452.2M336.7 1436.6V1452.2M338.5 1428.8V1452.2M340.3 1428.8V1452.2M342 1428.8V1444.4M343.8 1428.8V1444.4M345.6 1421V1444.4M347.4 1421V1444.4M349.1 1421V1436.6M350.9 1421V1436.6M352.7 1413.3V1436.6M354.5 1413.3V1436.6M356.3 1413.3V1428.8M358 1413.3V1428.8M359.8 1405.5V1428.8M361.6 1405.5V1428.8M363.4 1405.5V1421M365.1 1405.5V1421M366.9 1397.7V1421M368.7 1397.7V1421M370.5 1397.7V1421M372.3 1397.7V1413.3M374 1397.7V1413.3M375.8 1389.9V1413.3M377.6 1389.9V1413.3M379.4 1389.9V1405.5M381.1 1389.9V1405.5M382.9 1382.1V1405.5M384.7 1382.1V1405.5M386.5 1382.1V1405.5M388.3 1382.1V1397.7M390 1382.1V1397.7M391.8 1374.4V1397.7M393.6 1374.4V1397.7M395.4 1374.4V1397.7M397.1 1374.4V1389.9M398.9 1366.6V1389.9M400.7 1366.6V1389.9M402.5 1366.6V1389.9M404.2 1366.6V1382.1M406 1358.8V1382.1M407.8 1358.8V1382.1M409.6 1358.8V1382.1M411.4 1358.8V1382.1M413.1 1358.8V1374.4M414.9 1351V1374.4M416.7 1351V1374.4M418.5 1351V1374.4M420.2 1351V1374.4M422 1351V1366.6M423.8 1343.2V1366.6M425.6 1343.2V1366.6M427.4 1343.2V1366.6M429.1 1343.2V1366.6M430.9 1335.4V1358.8M432.7 1335.4V1358.8M434.5 1335.4V1358.8M436.2 1335.4V1358.8M438 1335.4V1358.8M439.8 1327.7V1351M441.6 1327.7V1351M443.4 1327.7V1351M445.1 1327.7V1351M446.9 1327.7V1351M448.7 1319.9V1343.2M450.5 1319.9V1343.2M452.2 1319.9V1343.2M454 1319.9V1343.2M455.8 1319.9V1343.2M457.6 1312.1V1335.4M459.4 1312.1V1335.4M461.1 1312.1V1335.4M462.9 1312.1V1335.4M464.7 1304.3V1335.4M466.5 1304.3V1327.7M468.2 1304.3V1327.7M470 1304.3V1327.7M471.8 1304.3V1327.7M473.6 1296.5V1327.7M475.4 1296.5V1319.9M477.1 1296.5V1319.9M478.9 1296.5V1319.9M480.7 1296.5V1319.9M482.5 1288.8V1319.9M484.2 1288.8V1312.1M486 1288.8V1312.1M487.8 1288.8V1312.1M489.6 1288.8V1312.1M491.3 1281V1312.1M493.1 1281V1304.3M494.9 1281V1304.3M496.7 1281V1304.3M498.5 1281V1304.3M500.2 1273.2V1304.3M502 1273.2V1296.5M503.8 1273.2V1296.5M505.6 1273.2V1296.5M507.3 1273.2V1296.5M509.1 1265.4V1296.5M510.9 1265.4V1288.8M512.7 1265.4V1288.8M514.5 1265.4V1288.8M516.2 1265.4V1288.8M518 1265.4V1288.8M519.8 1257.6V1281M521.6 1257.6V1281M523.3 1257.6V1281M525.1 1257.6V1281M526.9 1257.6V1281M528.7 1249.9V1273.2M530.5 1249.9V1273.2M532.2 1249.9V1273.2M534 1249.9V1273.2M535.8 1249.9V1273.2M537.6 1242.1V1273.2M539.3 1242.1V1265.4M541.1 1242.1V1265.4M542.9 1242.1V1265.4M544.7 1242.1V1265.4M546.5 1234.3V1265.4M548.2 1234.3V1257.6M550 1234.3V1257.6M551.8 1234.3V1257.6M553.6 1234.3V1257.6M555.3 1226.5V1257.6M557.1 1226.5V1249.9M558.9 1226.5V1249.9M560.7 1226.5V1249.9M562.4 1226.5V1249.9M564.2 1218.7V1249.9M566 1218.7V1249.9M567.8 1218.7V1242.1M569.6 1218.7V1242.1M571.3 1218.7V1242.1M573.1 1218.7V1242.1M574.9 1211V1242.1M576.7 1211V1234.3M578.4 1211V1234.3M580.2 1211V1234.3M582 1211V1234.3M583.8 1203.2V1234.3M585.6 1203.2V1234.3M587.3 1203.2V1226.5M589.1 1203.2V1226.5M590.9 1203.2V1226.5M592.7 1203.2V1226.5M594.4 1195.4V1226.5M596.2 1195.4V1218.7M598 1195.4V1218.7M599.8 1195.4V1218.7M601.6 1195.4V1218.7M603.3 1187.6V1218.7M605.1 1187.6V1218.7M606.9 1187.6V1211M608.7 1187.6V1211M610.4 1187.6V1211M612.2 1179.8V1211M614 1179.8V1211M615.8 1179.8V1203.2M617.5 1179.8V1203.2M619.3 1179.8V1203.2M621.1 1179.8V1203.2M622.9 1172V1203.2M624.7 1172V1203.2M626.4 1172V1195.4M628.2 1172V1195.4M630 1172V1195.4M631.8 1164.3V1195.4M633.5 1164.3V1195.4M635.3 1164.3V1187.6M637.1 1164.3V1187.6M638.9 1164.3V1187.6M640.7 1156.5V1187.6M642.4 1156.5V1187.6M644.2 1156.5V1187.6M646 1156.5V1179.8M647.8 1156.5V1179.8M649.5 1156.5V1179.8M651.3 1148.7V1179.8M653.1 1148.7V1179.8M654.9 1148.7V1172M656.7 1148.7V1172M658.4 1148.7V1172M660.2 1140.9V1172M662 1140.9V1172M663.8 1140.9V1172M665.5 1140.9V1164.3M667.3 1140.9V1164.3M669.1 1140.9V1164.3M670.9 1133.1V1164.3M672.7 1133.1V1164.3M674.4 1133.1V1164.3M676.2 1133.1V1156.5M678 1133.1V1156.5M679.8 1133.1V1156.5M681.5 1125.4V1156.5M683.3 1125.4V1156.5M685.1 1125.4V1148.7M686.9 1125.4V1148.7M688.7 1125.4V1148.7M690.4 1117.6V1148.7M692.2 1117.6V1148.7M694 1117.6V1148.7M695.8 1117.6V1140.9M697.5 1117.6V1140.9M699.3 1117.6V1140.9M701.1 1109.8V1140.9M702.9 1109.8V1140.9M704.6 1109.8V1140.9M706.4 1109.8V1133.1M708.2 1109.8V1133.1M710 1109.8V1133.1M711.8 1102V1133.1M713.5 1102V1133.1M715.3 1102V1125.4M717.1 1102V1125.4M718.9 1102V1125.4M720.6 1102V1125.4M722.4 1094.2V1125.4M724.2 1094.2V1125.4M726 1094.2V1117.6M727.8 1094.2V1117.6M729.5 1094.2V1117.6M731.3 1086.5V1117.6M733.1 1086.5V1117.6M734.9 1086.5V1117.6M736.6 1086.5V1109.8M738.4 1086.5V1109.8M740.2 1086.5V1109.8M742 1078.7V1109.8M743.8 1078.7V1109.8M745.5 1078.7V1109.8M747.3 1078.7V1102M749.1 1078.7V1102M750.9 1078.7V1102M752.6 1070.9V1102M754.4 1070.9V1102M756.2 1070.9V1102M758 1070.9V1094.2M759.8 1070.9V1094.2M761.5 1063.1V1094.2M763.3 1063.1V1094.2M765.1 1063.1V1094.2M766.9 1063.1V1094.2M768.6 1063.1V1086.5M770.4 1063.1V1086.5M772.2 1055.3V1086.5M774 1055.3V1086.5M775.7 1055.3V1086.5M777.5 1055.3V1086.5M779.3 1055.3V1078.7M781.1 1055.3V1078.7M782.9 1047.5V1078.7M784.6 1047.5V1078.7M786.4 1047.5V1078.7M788.2 1047.5V1078.7M790 1047.5V1070.9M791.7 1047.5V1070.9M793.5 1039.8V1070.9M795.3 1039.8V1070.9M797.1 1039.8V1070.9M798.9 1039.8V1070.9M800.6 1039.8V1063.1M802.4 1032V1063.1M804.2 1032V1063.1M806 1032V1063.1M807.7 1032V1063.1M809.5 1032V1055.3M811.3 1032V1055.3M813.1 1024.2V1055.3M814.9 1024.2V1055.3M816.6 1024.2V1055.3M818.4 1024.2V1055.3M820.2 1024.2V1047.5M822 1024.2V1047.5M823.7 1016.4V1047.5M825.5 1016.4V1047.5M827.3 1016.4V1047.5M829.1 1016.4V1047.5M830.9 1016.4V1039.8M832.6 1016.4V1039.8M834.4 1008.6V1039.8M836.2 1008.6V1039.8M838 1008.6V1039.8M839.7 1008.6V1039.8M841.5 1008.6V1032M843.3 1008.6V1032M845.1 1000.9V1032M846.8 1000.9V1032M848.6 1000.9V1032M850.4 1000.9V1032M852.2 1000.9V1024.2M854 1000.9V1024.2M855.7 993.1V1024.2M857.5 993.1V1024.2M859.3 993.1V1024.2M861.1 993.1V1024.2M862.8 993.1V1016.4M864.6 985.3V1016.4M866.4 985.3V1016.4M868.2 985.3V1016.4M870 985.3V1016.4M871.7 985.3V1016.4M873.5 985.3V1008.6M875.3 985.3V1008.6M877.1 977.5V1008.6M878.8 977.5V1008.6M880.6 977.5V1008.6M882.4 977.5V1008.6M884.2 977.5V1000.9M886 977.5V1000.9M887.7 969.7V1000.9M889.5 969.7V1000.9M891.3 969.7V1000.9M893.1 969.7V1000.9M894.8 969.7V1000.9M896.6 969.7V993.1M898.4 962V993.1M900.2 962V993.1M902 962V993.1M903.7 962V993.1M905.5 962V993.1M907.3 962V985.3M909.1 954.2V985.3M910.8 954.2V985.3M912.6 954.2V985.3M914.4 954.2V985.3M916.2 954.2V985.3M917.9 954.2V977.5M919.7 946.4V977.5M921.5 946.4V977.5M923.3 946.4V977.5M925.1 946.4V977.5M926.8 946.4V977.5M928.6 946.4V969.7M930.4 938.6V969.7M932.2 938.6V969.7M933.9 938.6V969.7M935.7 938.6V969.7M937.5 938.6V969.7M939.3 938.6V962M941.1 930.8V962M942.8 930.8V962M944.6 930.8V962M946.4 930.8V962M948.2 930.8V962M949.9 930.8V954.2M951.7 923.1V954.2M953.5 923.1V954.2M955.3 923.1V954.2M957.1 923.1V954.2M958.8 923.1V954.2M960.6 923.1V954.2M962.4 915.3V946.4M964.2 915.3V946.4M965.9 915.3V946.4M967.7 915.3V946.4M969.5 915.3V946.4M971.3 915.3V946.4M973.1 907.5V938.6M974.8 907.5V938.6M976.6 907.5V938.6M978.4 907.5V938.6M980.2 907.5V938.6M981.9 907.5V938.6M983.7 899.7V930.8M985.5 899.7V930.8M987.3 899.7V930.8M989 899.7V930.8M990.8 899.7V930.8M992.6 899.7V930.8M994.4 891.9V923.1M996.2 891.9V923.1M997.9 891.9V923.1M999.7 891.9V923.1M1001.5 891.9V923.1M1003.3 891.9V923.1M1005 884.1V915.3M1006.8 884.1V915.3M1008.6 884.1V915.3M1010.4 884.1V915.3M1012.2 884.1V915.3M1013.9 884.1V915.3M1015.7 876.4V907.5M1017.5 876.4V907.5M1019.3 876.4V907.5M1021 876.4V907.5M1022.8 876.4V907.5M1024.6 876.4V907.5M1026.4 876.4V907.5M1028.2 868.6V899.7M1029.9 868.6V899.7M1031.7 868.6V899.7M1033.5 868.6V899.7M1035.3 868.6V899.7M1037 868.6V899.7M1038.8 860.8V891.9M1040.6 860.8V891.9M1042.4 860.8V891.9M1044.2 860.8V891.9M1045.9 860.8V891.9M1047.7 860.8V891.9M1049.5 853V891.9M1051.3 853V884.1M1053 853V884.1M1054.8 853V884.1M1056.6 853V884.1M1058.4 853V884.1M1060.1 853V884.1M1061.9 845.2V876.4M1063.7 845.2V876.4M1065.5 845.2V876.4M1067.3 845.2V876.4M1069 845.2V876.4M1070.8 845.2V876.4M1072.6 837.5V868.6M1074.4 837.5V868.6M1076.1 837.5V868.6M1077.9 837.5V868.6M1079.7 837.5V868.6M1081.5 837.5V868.6M1083.3 829.7V868.6M1085 829.7V860.8M1086.8 829.7V860.8M1088.6 829.7V860.8M1090.4 829.7V860.8M1092.1 829.7V860.8M1093.9 821.9V860.8M1095.7 821.9V853M1097.5 821.9V853M1099.3 821.9V853M1101 821.9V853M1102.8 821.9V853M1104.6 814.1V853M1106.4 814.1V853M1108.1 814.1V845.2M1109.9 814.1V845.2M1111.7 814.1V845.2M1113.5 814.1V845.2M1115.2 814.1V845.2M1117 806.3V845.2M1118.8 806.3V837.5M1120.6 806.3V837.5M1122.4 806.3V837.5M1124.1 806.3V837.5M1125.9 806.3V837.5M1127.7 798.6V837.5M1129.5 798.6V829.7M1131.2 798.6V829.7M1133 798.6V829.7M1134.8 798.6V829.7M1136.6 798.6V829.7M1138.4 790.8V829.7M1140.1 790.8V829.7M1141.9 790.8V821.9M1143.7 790.8V821.9M1145.5 790.8V821.9M1147.2 790.8V821.9M1149 790.8V821.9M1150.8 783V821.9M1152.6 783V814.1M1154.4 783V814.1M1156.1 783V814.1M1157.9 783V814.1M1159.7 783V814.1M1161.5 775.2V814.1M1163.2 775.2V806.3M1165 775.2V806.3M1166.8 775.2V806.3M1168.6 775.2V806.3M1170.4 775.2V806.3M1172.1 767.4V806.3M1173.9 767.4V806.3M1175.7 767.4V798.6M1177.5 767.4V798.6M1179.2 767.4V798.6M1181 767.4V798.6M1182.8 767.4V798.6M1184.6 759.7V798.6M1186.3 759.7V790.8M1188.1 759.7V790.8M1189.9 759.7V790.8M1191.7 759.7V790.8M1193.5 759.7V790.8M1195.2 751.9V790.8M1197 751.9V790.8M1198.8 751.9V783M1200.6 751.9V783M1202.3 751.9V783M1204.1 751.9V783M1205.9 751.9V783M1207.7 744.1V783M1209.5 744.1V783M1211.2 744.1V775.2M1213 744.1V775.2M1214.8 744.1V775.2M1216.6 744.1V775.2M1218.3 736.3V775.2M1220.1 736.3V775.2M1221.9 736.3V767.4M1223.7 736.3V767.4M1225.5 736.3V767.4M1227.2 736.3V767.4M1229 736.3V767.4M1230.8 728.5V767.4M1232.6 728.5V759.7M1234.3 728.5V759.7M1236.1 728.5V759.7M1237.9 728.5V759.7M1239.7 728.5V759.7M1241.5 720.7V759.7M1243.2 720.7V759.7M1245 720.7V751.9M1246.8 720.7V751.9M1248.6 720.7V751.9M1250.3 720.7V751.9M1252.1 713V751.9M1253.9 713V751.9M1255.7 713V744.1M1257.5 713V744.1M1259.2 713V744.1M1261 713V744.1M1262.8 713V744.1M1264.6 705.2V744.1M1266.3 705.2V744.1M1268.1 705.2V736.3M1269.9 705.2V736.3M1271.7 705.2V736.3M1273.4 705.2V736.3M1275.2 705.2V736.3M1277 697.4V736.3M1278.8 697.4V736.3M1280.6 697.4V728.5M1282.3 697.4V728.5M1284.1 697.4V728.5M1285.9 697.4V728.5M1287.7 697.4V728.5M1289.4 689.6V728.5M1291.2 689.6V720.7M1293 689.6V720.7M1294.8 689.6V720.7M1296.6 689.6V720.7M1298.3 689.6V720.7M1300.1 681.8V720.7M1301.9 681.8V720.7M1303.7 681.8V713M1305.4 681.8V713M1307.2 681.8V713M1309 681.8V713M1310.8 681.8V713M1312.6 674.1V713M1314.3 674.1V705.2M1316.1 674.1V705.2M1317.9 674.1V705.2M1319.7 674.1V705.2M1321.4 674.1V705.2M1323.2 674.1V705.2M1325 666.3V705.2M1326.8 666.3V697.4M1328.5 666.3V697.4M1330.3 666.3V697.4M1332.1 666.3V697.4M1333.9 666.3V697.4M1335.7 658.5V697.4M1337.4 658.5V689.6M1339.2 658.5V689.6M1341 658.5V689.6M1342.8 658.5V689.6M1344.5 658.5V689.6M1346.3 650.7V689.6M1348.1 650.7V689.6M1349.9 650.7V681.8M1351.7 650.7V681.8M1353.4 650.7V681.8M1355.2 650.7V681.8M1357 650.7V681.8M1358.8 642.9V681.8M1360.5 642.9V681.8M1362.3 642.9V674.1M1364.1 642.9V674.1M1365.9 642.9V674.1M1367.7 642.9V674.1M1369.4 642.9V674.1M1371.2 635.2V674.1M1373 635.2V674.1M1374.8 635.2V666.3M1376.5 635.2V666.3M1378.3 635.2V666.3M1380.1 635.2V666.3M1381.9 627.4V666.3M1383.7 627.4V666.3M1385.4 627.4V666.3M1387.2 627.4V658.5M1389 627.4V658.5M1390.8 627.4V658.5M1392.5 619.6V658.5M1394.3 619.6V658.5M1396.1 619.6V658.5M1397.9 619.6V650.7M1399.7 619.6V650.7M1401.4 619.6V650.7M1403.2 619.6V650.7M1405 611.8V650.7M1406.8 611.8V650.7M1408.5 611.8V650.7M1410.3 611.8V642.9M1412.1 611.8V642.9M1413.9 611.8V642.9M1415.6 611.8V642.9M1417.4 604V642.9M1419.2 604V642.9M1421 604V642.9M1422.8 604V635.2M1424.5 604V635.2M1426.3 604V635.2M1428.1 604V635.2M1429.9 596.3V635.2M1431.6 596.3V635.2M1433.4 596.3V627.4M1435.2 596.3V627.4M1437 596.3V627.4M1438.8 596.3V627.4M1440.5 588.5V627.4M1442.3 588.5V627.4M1444.1 588.5V627.4M1445.9 588.5V619.6M1447.6 588.5V619.6M1449.4 588.5V619.6M1451.2 588.5V619.6M1453 580.7V619.6M1454.8 580.7V619.6M1456.5 580.7V619.6M1458.3 580.7V611.8M1460.1 580.7V611.8M1461.9 580.7V611.8M1463.6 580.7V611.8M1465.4 572.9V611.8M1467.2 572.9V611.8M1469 572.9V611.8M1470.8 572.9V604M1472.5 572.9V604M1474.3 572.9V604M1476.1 565.1V604M1477.9 565.1V604M1479.6 565.1V604M1481.4 565.1V596.3M1483.2 565.1V596.3M1485 565.1V596.3M1486.7 565.1V596.3M1488.5 557.3V596.3M1490.3 557.3V596.3M1492.1 557.3V596.3M1493.9 557.3V588.5M1495.6 557.3V588.5M1497.4 557.3V588.5M1499.2 549.6V588.5M1501 549.6V588.5M1502.7 549.6V588.5M1504.5 549.6V588.5M1506.3 549.6V580.7M1508.1 549.6V580.7M1509.9 549.6V580.7M1511.6 541.8V580.7M1513.4 541.8V580.7M1515.2 541.8V580.7M1517 541.8V580.7M1518.7 541.8V572.9M1520.5 541.8V572.9M1522.3 541.8V572.9M1524.1 534V572.9M1525.9 534V572.9M1527.6 534V572.9M1529.4 534V572.9M1531.2 534V565.1M1533 534V565.1M1534.7 534V565.1M1536.5 526.2V565.1M1538.3 526.2V565.1M1540.1 526.2V565.1M1541.9 526.2V565.1M1543.6 526.2V557.3M1545.4 526.2V557.3M1547.2 526.2V557.3M1549 518.4V557.3M1550.7 518.4V557.3M1552.5 518.4V557.3M1554.3 518.4V557.3M1556.1 518.4V549.6M1557.8 518.4V549.6M1559.6 518.4V549.6M1561.4 510.7V549.6M1563.2 510.7V549.6M1565 510.7V549.6M1566.7 510.7V549.6M1568.5 510.7V541.8M1570.3 510.7V541.8M1572.1 510.7V541.8M1573.8 502.9V541.8M1575.6 502.9V541.8M1577.4 502.9V541.8M1579.2 502.9V534M1581 502.9V534M1582.7 502.9V534M1584.5 495.1V534M1586.3 495.1V534M1588.1 495.1V534M1589.8 495.1V534M1591.6 495.1V526.2M1593.4 495.1V526.2M1595.2 495.1V526.2M1597 487.3V526.2M1598.7 487.3V526.2M1600.5 487.3V526.2M1602.3 487.3V526.2M1604.1 487.3V518.4M1605.8 487.3V518.4M1607.6 487.3V518.4M1609.4 479.5V518.4M1611.2 479.5V518.4M1613 479.5V518.4M1614.7 479.5V518.4M1616.5 479.5V510.7M1618.3 479.5V510.7M1620.1 479.5V510.7M1621.8 471.8V510.7M1623.6 471.8V510.7M1625.4 471.8V510.7M1627.2 471.8V510.7M1628.9 471.8V502.9M1630.7 471.8V502.9M1632.5 471.8V502.9M1634.3 464V502.9M1636.1 464V502.9M1637.8 464V502.9M1639.6 464V502.9M1641.4 464V495.1M1643.2 464V495.1M1644.9 464V495.1M1646.7 456.2V495.1M1648.5 456.2V495.1M1650.3 456.2V495.1M1652.1 456.2V495.1M1653.8 456.2V487.3M1655.6 456.2V487.3M1657.4 456.2V487.3M1659.2 448.4V487.3M1660.9 448.4V487.3M1662.7 448.4V487.3M1664.5 448.4V487.3M1666.3 448.4V479.5M1668.1 448.4V479.5M1669.8 440.6V479.5M1671.6 440.6V479.5M1673.4 440.6V479.5M1675.2 440.6V479.5M1676.9 440.6V479.5M1678.7 440.6V471.8M1680.5 440.6V471.8M1682.3 432.9V471.8M1684 432.9V471.8M1685.8 432.9V471.8M1687.6 432.9V471.8M1689.4 432.9V464M1691.2 432.9V464M1692.9 432.9V464M1694.7 425.1V464M1696.5 425.1V464M1698.3 425.1V464M1700 425.1V464M1701.8 425.1V456.2M1703.6 425.1V456.2M1705.4 425.1V456.2M1707.2 417.3V456.2M1708.9 417.3V456.2M1710.7 417.3V456.2M1712.5 417.3V456.2M1714.3 417.3V456.2M1716 417.3V448.4M1717.8 417.3V448.4M1719.6 409.5V448.4M1721.4 409.5V448.4M1723.2 409.5V448.4M1724.9 409.5V448.4M1726.7 409.5V448.4M1728.5 409.5V440.6M1730.3 401.7V440.6M1732 401.7V440.6M1733.8 401.7V440.6M1735.6 401.7V440.6M1737.4 401.7V440.6M1739.2 401.7V440.6M1740.9 401.7V432.9M1742.7 401.7V432.9M1744.5 393.9V432.9M1746.3 393.9V432.9M1748 393.9V432.9M1749.8 393.9V432.9M1751.6 393.9V432.9M1753.4 393.9V425.1M1755.2 393.9V425.1M1756.9 386.2V425.1M1758.7 386.2V425.1M1760.5 386.2V425.1M1762.3 386.2V425.1M1764 386.2V417.3M1765.8 386.2V417.3M1767.6 386.2V417.3M1769.4 378.4V417.3M1771.1 378.4V417.3M1772.9 378.4V417.3M1774.7 378.4V417.3M1776.5 378.4V417.3M1778.3 378.4V409.5M1780 378.4V409.5M1781.8 370.6V409.5M1783.6 370.6V409.5M1785.4 370.6V409.5M1787.1 370.6V409.5M1788.9 370.6V409.5M1790.7 370.6V401.7M1792.5 370.6V401.7M1794.3 362.8V401.7M1796 362.8V401.7M1797.8 362.8V401.7M1799.6 362.8V401.7M1801.4 362.8V401.7M1803.1 362.8V393.9M1804.9 362.8V393.9M1806.7 355V393.9M1808.5 355V393.9M1810.3 355V393.9M1812 355V393.9M1813.8 355V393.9M1815.6 355V386.2M1817.4 355V386.2M1819.1 347.3V386.2M1820.9 347.3V386.2M1822.7 347.3V386.2M1824.5 347.3V386.2M1826.2 347.3V386.2M1828 347.3V378.4M1829.8 347.3V378.4M1831.6 339.5V378.4M1833.4 339.5V378.4M1835.1 339.5V378.4M1836.9 339.5V378.4M1838.7 339.5V378.4M1840.5 339.5V370.6M1842.2 339.5V370.6M1844 331.7V370.6M1845.8 331.7V370.6M1847.6 331.7V370.6M1849.4 331.7V370.6M1851.1 331.7V370.6M1852.9 331.7V362.8M1854.7 331.7V362.8M1856.5 323.9V362.8M1858.2 323.9V362.8M1860 323.9V362.8M1861.8 323.9V362.8M1863.6 323.9V362.8M1865.4 323.9V355M1867.1 323.9V355M1868.9 316.1V355M1870.7 316.1V355M1872.5 316.1V355M1874.2 316.1V355M1876 316.1V355M1877.8 316.1V347.3M1879.6 316.1V347.3M1881.4 308.4V347.3M1883.1 308.4V347.3M1884.9 308.4V347.3M1886.7 308.4V347.3M1888.5 308.4V347.3M1890.2 308.4V339.5M1892 308.4V339.5M1893.8 300.6V339.5M1895.6 300.6V339.5M1897.4 300.6V339.5M1899.1 300.6V339.5M1900.9 300.6V339.5M1902.7 300.6V331.7M1904.5 300.6V331.7M1906.2 292.8V331.7M1908 292.8V331.7M1909.8 292.8V331.7M1911.6 292.8V331.7M1913.3 292.8V331.7M1915.1 292.8V323.9M1916.9 292.8V323.9M1918.7 285V323.9M1920.5 285V323.9M1922.2 285V323.9M1924 285V323.9M1925.8 285V323.9M1927.6 285V316.1M1929.3 285V316.1M1931.1 277.2V316.1M1932.9 277.2V316.1M1934.7 277.2V316.1M1936.5 277.2V316.1M1938.2 277.2V316.1M1940 277.2V308.4M1941.8 277.2V308.4M1943.6 269.4V308.4M1945.3 269.4V308.4M1947.1 269.4V308.4M1948.9 269.4V308.4M1950.7 269.4V308.4M1952.5 269.4V300.6M1954.2 269.4V300.6M1956 269.4V300.6M1957.8 261.7V300.6M1959.6 261.7V300.6M1961.3 261.7V300.6M1963.1 261.7V300.6M1964.9 261.7V292.8M1966.7 261.7V292.8M1968.5 261.7V292.8M1970.2 253.9V292.8M1972 253.9V292.8M1973.8 253.9V292.8M1975.6 253.9V292.8M1977.3 253.9V285M1979.1 253.9V285M1980.9 253.9V285M1982.7 246.1V285M1984.4 246.1V285M1986.2 246.1V285M1988 246.1V285M1989.8 246.1V285M1991.6 246.1V277.2M1993.3 246.1V277.2M1995.1 238.3V277.2M1996.9 238.3V277.2M1998.7 238.3V277.2M2000.4 238.3V277.2M2002.2 238.3V277.2M2004 238.3V269.4" stroke="#EDB120" stroke-width="1" fill="none" shape-rendering="crispEdges"/><path d="M211.8 1592.2H244.8M213.6 1584.4H248.3M217.1 1576.7H253.7M222.4 1568.9H260.8M229.6 1561.1H264.3M233.1 1553.3H269.7M238.4 1545.5H275M243.8 1537.8H280.3M249.1 1530H287.4M256.2 1522.2H292.8M261.5 1514.4H299.9M268.7 1506.6H305.2M274 1498.8H312.3M281.1 1491.1H319.4M288.2 1483.3H326.5M295.3 1475.5H333.7M302.4 1467.7H340.8M309.5 1459.9H347.9M316.6 1452.2H356.8M325.5 1444.4H363.9M332.6 1436.6H371M339.8 1428.8H378.1M346.9 1421H387M355.8 1413.3H394.1M362.9 1405.5H403M371.8 1397.7H411.9M380.6 1389.9H419M387.8 1382.1H427.9M396.6 1374.4H436.7M405.5 1366.6H445.6M414.4 1358.8H454.5M423.3 1351H463.4M432.2 1343.2H472.3M441.1 1335.4H481.2M450 1327.7H490.1M458.9 1319.9H499M467.7 1312.1H507.8M476.6 1304.3H516.7M485.5 1296.5H525.6M494.4 1288.8H534.5M503.3 1281H543.4M512.2 1273.2H554.1M522.8 1265.4H563M531.7 1257.6H571.8M540.6 1249.9H582.5M551.3 1242.1H591.4M560.2 1234.3H602.1M570.8 1226.5H610.9M579.7 1218.7H621.6M590.4 1211H630.5M599.3 1203.2H641.2M609.9 1195.4H650M618.8 1187.6H660.7M629.5 1179.8H669.6M638.4 1172H680.3M649 1164.3H690.9M659.7 1156.5H699.8M668.6 1148.7H710.5M679.3 1140.9H721.1M689.9 1133.1H730M698.8 1125.4H740.7M709.5 1117.6H751.4M720.1 1109.8H762M730.8 1102H772.7M741.5 1094.2H783.4M752.1 1086.5H794M762.8 1078.7H804.7M773.5 1070.9H815.4M784.1 1063.1H824.2M793 1055.3H834.9M803.7 1047.5H845.6M814.4 1039.8H856.2M825 1032H866.9M835.7 1024.2H877.6M846.3 1016.4H888.2M857 1008.6H898.9M867.7 1000.9H911.3M880.1 993.1H922M890.8 985.3H932.7M901.4 977.5H943.3M912.1 969.7H954M922.8 962H964.7M933.4 954.2H977.1M945.9 946.4H987.8M956.6 938.6H998.4M967.2 930.8H1009.1M977.9 923.1H1019.8M988.5 915.3H1030.4M999.2 907.5H1042.9M1011.7 899.7H1053.5M1022.3 891.9H1066M1034.8 884.1H1076.6M1045.4 876.4H1087.3M1056.1 868.6H1099.8M1068.5 860.8H1110.4M1079.2 853H1122.9M1091.6 845.2H1133.5M1102.3 837.5H1144.2M1113 829.7H1156.6M1125.4 821.9H1167.3M1136.1 814.1H1178M1146.7 806.3H1190.4M1159.2 798.6H1201.1M1169.8 790.8H1213.5M1182.3 783H1226M1194.7 775.2H1236.6M1205.4 767.4H1247.3M1216.1 759.7H1259.7M1228.5 751.9H1270.4M1239.2 744.1H1282.8M1251.6 736.3H1295.3M1264.1 728.5H1305.9M1274.7 720.7H1318.4M1287.2 713H1329.1M1297.8 705.2H1341.5M1310.3 697.4H1352.2M1320.9 689.6H1364.6M1333.4 681.8H1377M1345.8 674.1H1389.5M1358.3 666.3H1401.9M1370.7 658.5H1412.6M1381.4 650.7H1425M1393.8 642.9H1437.5M1406.3 635.2H1448.1M1416.9 627.4H1460.6M1429.4 619.6H1473M1441.8 611.8H1485.5M1454.2 604H1496.1M1464.9 596.3H1508.6M1477.4 588.5H1521M1489.8 580.7H1533.5M1502.2 572.9H1545.9M1514.7 565.1H1558.4M1527.1 557.3H1570.8M1539.6 549.6H1583.2M1552 541.8H1593.9M1562.7 534H1606.3M1575.1 526.2H1618.8M1587.6 518.4H1631.2M1600 510.7H1643.7M1612.4 502.9H1656.1M1624.9 495.1H1668.6M1637.3 487.3H1681M1649.8 479.5H1693.4M1662.2 471.8H1704.1M1672.9 464H1716.5M1685.3 456.2H1730.8M1699.5 448.4H1743.2M1712 440.6H1755.7M1724.4 432.9H1768.1M1736.9 425.1H1778.8M1747.5 417.3H1793M1761.8 409.5H1805.4M1774.2 401.7H1817.9M1786.6 393.9H1830.3M1799.1 386.2H1842.8M1811.5 378.4H1855.2M1824 370.6H1867.6M1836.4 362.8H1880.1M1848.9 355H1892.5M1861.3 347.3H1905M1873.7 339.5H1917.4M1886.2 331.7H1929.8M1898.6 323.9H1942.3M1911.1 316.1H1954.7M1923.5 308.4H1967.2M1936 300.6H1979.6M1948.4 292.8H1992.1M1960.8 285H2006.3M1975.1 277.2H2018.7M1987.5 269.4H2020.5M211.8 1592.2H244.8M213.6 1584.4H246.6M215.3 1576.7H250.1M218.9 1568.9H253.7M222.4 1561.1H257.2M226 1553.3H260.8M229.6 1545.5H266.1M234.9 1537.8H271.4M240.2 1530H276.8M245.6 1522.2H282.1M250.9 1514.4H287.4M256.2 1506.6H292.8M261.5 1498.8H298.1M266.9 1491.1H303.4M272.2 1483.3H310.5M279.3 1475.5H317.7M286.4 1467.7H324.8M293.5 1459.9H331.9M300.7 1452.2H339M307.8 1444.4H346.1M314.9 1436.6H353.2M322 1428.8H360.3M329.1 1421H367.4M336.2 1413.3H374.5M343.3 1405.5H381.6M350.4 1397.7H390.5M359.3 1389.9H397.6M366.4 1382.1H406.5M375.3 1374.4H413.6M382.4 1366.6H420.8M389.5 1358.8H429.6M398.4 1351H438.5M407.3 1343.2H445.6M414.4 1335.4H454.5M423.3 1327.7H463.4M432.2 1319.9H472.3M441.1 1312.1H479.4M448.2 1304.3H488.3M457.1 1296.5H497.2M466 1288.8H506.1M474.8 1281H515M483.7 1273.2H523.8M492.6 1265.4H534.5M503.3 1257.6H543.4M512.2 1249.9H552.3M521.1 1242.1H561.2M530 1234.3H570.1M538.8 1226.5H578.9M547.7 1218.7H589.6M558.4 1211H598.5M567.3 1203.2H609.2M577.9 1195.4H618.1M586.8 1187.6H626.9M595.7 1179.8H637.6M606.4 1172H646.5M615.3 1164.3H655.4M624.2 1156.5H666M634.8 1148.7H674.9M643.7 1140.9H685.6M654.4 1133.1H696.3M665 1125.4H705.2M673.9 1117.6H715.8M684.6 1109.8H726.5M695.3 1102H737.1M705.9 1094.2H746M714.8 1086.5H756.7M725.5 1078.7H767.4M736.1 1070.9H776.2M745 1063.1H786.9M755.7 1055.3H797.6M766.4 1047.5H808.2M777 1039.8H817.1M785.9 1032H827.8M796.6 1024.2H838.5M807.2 1016.4H849.1M817.9 1008.6H859.8M828.6 1000.9H870.5M839.2 993.1H879.3M848.1 985.3H891.8M860.6 977.5H902.5M871.2 969.7H913.1M881.9 962H923.8M892.6 954.2H934.4M903.2 946.4H945.1M913.9 938.6H955.8M924.6 930.8H966.4M935.2 923.1H977.1M945.9 915.3H987.8M956.6 907.5H998.4M967.2 899.7H1009.1M977.9 891.9H1019.8M988.5 884.1H1030.4M999.2 876.4H1042.9M1011.7 868.6H1053.5M1022.3 860.8H1064.2M1033 853H1076.6M1045.4 845.2H1087.3M1056.1 837.5H1098M1066.8 829.7H1108.6M1077.4 821.9H1119.3M1088.1 814.1H1131.8M1100.5 806.3H1142.4M1111.2 798.6H1153.1M1121.9 790.8H1165.5M1134.3 783H1176.2M1145 775.2H1186.9M1155.6 767.4H1199.3M1168.1 759.7H1210M1178.7 751.9H1222.4M1191.2 744.1H1233.1M1201.8 736.3H1245.5M1214.3 728.5H1256.2M1225 720.7H1266.8M1235.6 713H1279.3M1248.1 705.2H1291.7M1260.5 697.4H1304.2M1272.9 689.6H1314.8M1283.6 681.8H1327.3M1296.1 674.1H1339.7M1308.5 666.3H1350.4M1319.2 658.5H1361M1329.8 650.7H1373.5M1342.3 642.9H1385.9M1354.7 635.2H1396.6M1365.4 627.4H1407.3M1376 619.6H1419.7M1388.5 611.8H1432.1M1400.9 604H1444.6M1413.4 596.3H1455.3M1424 588.5H1467.7M1436.5 580.7H1480.1M1448.9 572.9H1490.8M1459.6 565.1H1503.2M1472 557.3H1513.9M1482.7 549.6H1526.4M1495.1 541.8H1538.8M1507.6 534H1551.2M1520 526.2H1563.7M1532.5 518.4H1576.1M1544.9 510.7H1588.6M1557.3 502.9H1599.2M1568 495.1H1611.7M1580.5 487.3H1624.1M1592.9 479.5H1636.6M1605.3 471.8H1649M1617.8 464H1661.4M1630.2 456.2H1673.9M1642.7 448.4H1684.6M1653.3 440.6H1697M1665.8 432.9H1709.4M1678.2 425.1H1721.9M1690.7 417.3H1734.3M1703.1 409.5H1745M1713.8 401.7H1759.2M1728 393.9H1771.7M1740.4 386.2H1784.1M1752.9 378.4H1796.5M1765.3 370.6H1809M1777.8 362.8H1821.4M1790.2 355H1833.9M1802.6 347.3H1846.3M1815.1 339.5H1858.7M1827.5 331.7H1871.2M1840 323.9H1883.6M1852.4 316.1H1896.1M1864.9 308.4H1908.5M1877.3 300.6H1921M1889.7 292.8H1933.4M1902.2 285H1945.8M1914.6 277.2H1958.3M1927.1 269.4H1972.5M1941.3 261.7H1985M1953.7 253.9H1997.4M1966.2 246.1H2009.8M1978.6 238.3H2020.5" stroke="#EDB120" stroke-width="2" fill="none" shape-rendering="crispEdges"/><polyline points="228.3,1592.2 230.1,1584.4 231.8,1580.6 233.6,1576.7 235.4,1570.9 237.2,1569.9 238.9,1564 240.7,1562.1 242.5,1558.9 244.3,1554.5 246.1,1553.6 247.8,1548.9 249.6,1546.8 251.4,1544.4 253.2,1540.7 254.9,1539.1 256.7,1535.8 258.5,1533.3 260.3,1531.1 262.1,1528.4 263.8,1525.8 265.6,1523.6 267.4,1521.4 269.2,1518.3 270.9,1516.6 272.7,1514.4 274.5,1511.4 276.3,1509.4 278,1507.7 279.8,1505.1 281.6,1502.4 283.4,1500.8 285.2,1498.7 286.9,1496 288.7,1494 290.5,1492.3 292.3,1490 294,1487.5 295.8,1485.7 297.6,1483.9 299.4,1481.5 301.2,1479.4 302.9,1477.6 304.7,1475.7 306.5,1473.4 308.3,1471.3 310,1469.6 311.8,1467.7 313.6,1465.5 315.4,1463.4 317.2,1461.7 318.9,1459.8 320.7,1457.8 322.5,1455.7 324.3,1454 326,1452.1 327.8,1450 329.6,1448.1 331.4,1446.4 333.1,1444.6 334.9,1442.6 336.7,1440.6 338.5,1438.9 340.3,1437.1 342,1435.2 343.8,1433.3 345.6,1431.5 347.4,1429.8 349.1,1427.9 350.9,1425.9 352.7,1424.2 354.5,1422.6 356.3,1420.7 358,1418.8 359.8,1417 361.6,1415.4 363.4,1413.6 365.1,1411.8 366.9,1409.9 368.7,1408.3 370.5,1406.5 372.3,1404.7 374,1402.9 375.8,1401.3 377.6,1399.6 379.4,1397.8 381.1,1396 382.9,1394.3 384.7,1392.7 386.5,1391 388.3,1389.2 390,1387.5 391.8,1385.8 393.6,1384.2 395.4,1382.5 397.1,1380.7 398.9,1379 400.7,1377.4 402.5,1375.8 404.2,1374.1 406,1372.3 407.8,1370.7 409.6,1369.1 411.4,1367.5 413.1,1365.8 414.9,1364 416.7,1362.5 418.5,1360.9 420.2,1359.2 422,1357.5 423.8,1355.9 425.6,1354.3 427.4,1352.7 429.1,1351 430.9,1349.3 432.7,1347.7 434.5,1346.2 436.2,1344.6 438,1342.9 439.8,1341.3 441.6,1339.7 443.4,1338.1 445.1,1336.5 446.9,1334.9 448.7,1333.2 450.5,1331.7 452.2,1330.1 454,1328.5 455.8,1326.9 457.6,1325.3 459.4,1323.8 461.1,1322.2 462.9,1320.6 464.7,1319 466.5,1317.4 468.2,1315.9 470,1314.4 471.8,1312.8 473.6,1311.2 475.4,1309.6 477.1,1308.1 478.9,1306.6 480.7,1305 482.5,1303.4 484.2,1301.9 486,1300.4 487.8,1298.8 489.6,1297.3 491.3,1295.8 493.1,1294.2 494.9,1292.7 496.7,1291.2 498.5,1289.6 500.2,1288.1 502,1286.6 503.8,1285.1 505.6,1283.5 507.3,1282 509.1,1280.5 510.9,1279 512.7,1277.5 514.5,1276 516.2,1274.4 518,1273 519.8,1271.5 521.6,1269.9 523.3,1268.4 525.1,1266.9 526.9,1265.4 528.7,1263.9 530.5,1262.4 532.2,1261 534,1259.5 535.8,1258 537.6,1256.5 539.3,1255 541.1,1253.5 542.9,1252 544.7,1250.6 546.5,1249.1 548.2,1247.6 550,1246.1 551.8,1244.7 553.6,1243.2 555.3,1241.7 557.1,1240.3 558.9,1238.8 560.7,1237.4 562.4,1235.9 564.2,1234.4 566,1233 567.8,1231.5 569.6,1230.1 571.3,1228.6 573.1,1227.1 574.9,1225.7 576.7,1224.2 578.4,1222.8 580.2,1221.4 582,1219.9 583.8,1218.5 585.6,1217.1 587.3,1215.6 589.1,1214.1 590.9,1212.7 592.7,1211.3 594.4,1209.8 596.2,1208.4 598,1206.9 599.8,1205.6 601.6,1204.1 603.3,1202.7 605.1,1201.2 606.9,1199.8 608.7,1198.4 610.4,1197 612.2,1195.6 614,1194.1 615.8,1192.7 617.5,1191.3 619.3,1189.9 621.1,1188.5 622.9,1187 624.7,1185.6 626.4,1184.1 628.2,1182.8 630,1181.4 631.8,1180 633.5,1178.6 635.3,1177.2 637.1,1175.7 638.9,1174.3 640.7,1172.9 642.4,1171.5 644.2,1170.2 646,1168.7 647.8,1167.3 649.5,1165.9 651.3,1164.5 653.1,1163.2 654.9,1161.7 656.7,1160.3 658.4,1158.9 660.2,1157.5 662,1156.2 663.8,1154.8 665.5,1153.4 667.3,1152 669.1,1150.6 670.9,1149.2 672.7,1147.9 674.4,1146.5 676.2,1145.1 678,1143.7 679.8,1142.3 681.5,1141 683.3,1139.6 685.1,1138.2 686.9,1136.8 688.7,1135.4 690.4,1134 692.2,1132.7 694,1131.3 695.8,1130 697.5,1128.6 699.3,1127.2 701.1,1125.8 702.9,1124.5 704.6,1123.1 706.4,1121.8 708.2,1120.4 710,1119 711.8,1117.6 713.5,1116.3 715.3,1115 717.1,1113.6 718.9,1112.2 720.6,1110.9 722.4,1109.5 724.2,1108.1 726,1106.8 727.8,1105.4 729.5,1104.1 731.3,1102.7 733.1,1101.3 734.9,1100 736.6,1098.7 738.4,1097.3 740.2,1096 742,1094.6 743.8,1093.3 745.5,1092 747.3,1090.6 749.1,1089.2 750.9,1087.9 752.6,1086.6 754.4,1085.3 756.2,1083.9 758,1082.6 759.8,1081.2 761.5,1079.9 763.3,1078.6 765.1,1077.3 766.9,1075.9 768.6,1074.6 770.4,1073.2 772.2,1071.9 774,1070.6 775.7,1069.3 777.5,1067.9 779.3,1066.6 781.1,1065.3 782.9,1063.9 784.6,1062.6 786.4,1061.3 788.2,1059.9 790,1058.6 791.7,1057.3 793.5,1056 795.3,1054.7 797.1,1053.3 798.9,1052 800.6,1050.7 802.4,1049.4 804.2,1048.1 806,1046.7 807.7,1045.4 809.5,1044.1 811.3,1042.8 813.1,1041.5 814.9,1040.2 816.6,1038.8 818.4,1037.6 820.2,1036.2 822,1035 823.7,1033.7 825.5,1032.3 827.3,1031 829.1,1029.7 830.9,1028.4 832.6,1027.1 834.4,1025.8 836.2,1024.5 838,1023.2 839.7,1021.9 841.5,1020.5 843.3,1019.3 845.1,1018 846.8,1016.7 848.6,1015.4 850.4,1014.1 852.2,1012.8 854,1011.4 855.7,1010.2 857.5,1008.9 859.3,1007.6 861.1,1006.3 862.8,1005 864.6,1003.7 866.4,1002.4 868.2,1001.1 870,999.9 871.7,998.5 873.5,997.2 875.3,995.9 877.1,994.7 878.8,993.4 880.6,992.1 882.4,990.8 884.2,989.5 886,988.2 887.7,986.9 889.5,985.7 891.3,984.4 893.1,983.1 894.8,981.8 896.6,980.5 898.4,979.2 900.2,978 902,976.7 903.7,975.4 905.5,974.1 907.3,972.8 909.1,971.5 910.8,970.3 912.6,969 914.4,967.7 916.2,966.4 917.9,965.2 919.7,963.9 921.5,962.6 923.3,961.3 925.1,960.1 926.8,958.8 928.6,957.5 930.4,956.3 932.2,955 933.9,953.7 935.7,952.4 937.5,951.2 939.3,949.9 941.1,948.6 942.8,947.4 944.6,946.1 946.4,944.9 948.2,943.6 949.9,942.3 951.7,941.1 953.5,939.8 955.3,938.6 957.1,937.3 958.8,936 960.6,934.7 962.4,933.5 964.2,932.2 965.9,931 967.7,929.7 969.5,928.4 971.3,927.2 973.1,926 974.8,924.7 976.6,923.4 978.4,922.2 980.2,920.9 981.9,919.6 983.7,918.4 985.5,917.1 987.3,915.9 989,914.7 990.8,913.4 992.6,912.1 994.4,910.9 996.2,909.6 997.9,908.4 999.7,907.1 1001.5,905.9 1003.3,904.6 1005,903.4 1006.8,902.1 1008.6,900.9 1010.4,899.6 1012.2,898.4 1013.9,897.1 1015.7,895.8 1017.5,894.7 1019.3,893.4 1021,892.2 1022.8,890.9 1024.6,889.6 1026.4,888.4 1028.2,887.2 1029.9,886 1031.7,884.8 1033.5,883.5 1035.3,882.2 1037,880.9 1038.8,879.7 1040.6,878.5 1042.4,877.3 1044.2,876.1 1045.9,874.8 1047.7,873.5 1049.5,872.3 1051.3,871.1 1053,869.8 1054.8,868.6 1056.6,867.4 1058.4,866.1 1060.1,864.9 1061.9,863.6 1063.7,862.4 1065.5,861.3 1067.3,860 1069,858.7 1070.8,857.5 1072.6,856.3 1074.4,855.1 1076.1,853.9 1077.9,852.6 1079.7,851.4 1081.5,850.1 1083.3,848.9 1085,847.7 1086.8,846.5 1088.6,845.3 1090.4,844 1092.1,842.8 1093.9,841.5 1095.7,840.3 1097.5,839.1 1099.3,837.9 1101,836.7 1102.8,835.4 1104.6,834.2 1106.4,833 1108.1,831.8 1109.9,830.6 1111.7,829.3 1113.5,828.1 1115.2,826.9 1117,825.7 1118.8,824.5 1120.6,823.3 1122.4,822 1124.1,820.8 1125.9,819.6 1127.7,818.3 1129.5,817.2 1131.2,815.9 1133,814.7 1134.8,813.5 1136.6,812.3 1138.4,811 1140.1,809.9 1141.9,808.6 1143.7,807.4 1145.5,806.2 1147.2,805 1149,803.8 1150.8,802.6 1152.6,801.3 1154.4,800.1 1156.1,798.9 1157.9,797.7 1159.7,796.5 1161.5,795.3 1163.2,794.1 1165,792.9 1166.8,791.7 1168.6,790.5 1170.4,789.3 1172.1,788.1 1173.9,786.8 1175.7,785.6 1177.5,784.5 1179.2,783.3 1181,782 1182.8,780.9 1184.6,779.7 1186.3,778.4 1188.1,777.2 1189.9,776 1191.7,774.8 1193.5,773.7 1195.2,772.4 1197,771.2 1198.8,770 1200.6,768.8 1202.3,767.6 1204.1,766.4 1205.9,765.2 1207.7,764.1 1209.5,762.9 1211.2,761.6 1213,760.4 1214.8,759.2 1216.6,758 1218.3,756.9 1220.1,755.7 1221.9,754.5 1223.7,753.2 1225.5,752 1227.2,750.9 1229,749.7 1230.8,748.5 1232.6,747.3 1234.3,746.1 1236.1,744.9 1237.9,743.7 1239.7,742.5 1241.5,741.3 1243.2,740.2 1245,738.9 1246.8,737.8 1248.6,736.6 1250.3,735.4 1252.1,734.2 1253.9,733 1255.7,731.8 1257.5,730.6 1259.2,729.4 1261,728.3 1262.8,727.1 1264.6,725.9 1266.3,724.7 1268.1,723.5 1269.9,722.3 1271.7,721.1 1273.4,719.9 1275.2,718.8 1277,717.6 1278.8,716.4 1280.6,715.2 1282.3,714 1284.1,712.9 1285.9,711.7 1287.7,710.5 1289.4,709.3 1291.2,708.1 1293,706.9 1294.8,705.8 1296.6,704.6 1298.3,703.4 1300.1,702.2 1301.9,701 1303.7,699.8 1305.4,698.7 1307.2,697.5 1309,696.3 1310.8,695.1 1312.6,694 1314.3,692.8 1316.1,691.6 1317.9,690.4 1319.7,689.3 1321.4,688.1 1323.2,686.9 1325,685.7 1326.8,684.6 1328.5,683.4 1330.3,682.2 1332.1,681.1 1333.9,679.8 1335.7,678.7 1337.4,677.5 1339.2,676.3 1341,675.2 1342.8,674 1344.5,672.8 1346.3,671.7 1348.1,670.5 1349.9,669.3 1351.7,668.1 1353.4,667 1355.2,665.8 1357,664.6 1358.8,663.5 1360.5,662.3 1362.3,661.2 1364.1,660 1365.9,658.8 1367.7,657.6 1369.4,656.4 1371.2,655.3 1373,654.2 1374.8,652.9 1376.5,651.8 1378.3,650.6 1380.1,649.5 1381.9,648.3 1383.7,647.1 1385.4,646 1387.2,644.8 1389,643.6 1390.8,642.5 1392.5,641.3 1394.3,640.2 1396.1,639 1397.9,637.8 1399.7,636.7 1401.4,635.5 1403.2,634.4 1405,633.2 1406.8,632 1408.5,630.8 1410.3,629.6 1412.1,628.5 1413.9,627.4 1415.6,626.2 1417.4,625.1 1419.2,623.9 1421,622.7 1422.8,621.6 1424.5,620.4 1426.3,619.3 1428.1,618.1 1429.9,616.9 1431.6,615.7 1433.4,614.6 1435.2,613.4 1437,612.3 1438.8,611.1 1440.5,610 1442.3,608.8 1444.1,607.6 1445.9,606.5 1447.6,605.4 1449.4,604.2 1451.2,603 1453,601.9 1454.8,600.7 1456.5,599.6 1458.3,598.4 1460.1,597.3 1461.9,596.1 1463.6,595 1465.4,593.8 1467.2,592.6 1469,591.5 1470.8,590.3 1472.5,589.2 1474.3,588.1 1476.1,586.9 1477.9,585.7 1479.6,584.6 1481.4,583.4 1483.2,582.3 1485,581.2 1486.7,580 1488.5,578.9 1490.3,577.7 1492.1,576.5 1493.9,575.4 1495.6,574.3 1497.4,573.1 1499.2,572 1501,570.8 1502.7,569.6 1504.5,568.5 1506.3,567.4 1508.1,566.3 1509.9,565.1 1511.6,564 1513.4,562.8 1515.2,561.7 1517,560.5 1518.7,559.4 1520.5,558.3 1522.3,557.1 1524.1,556 1525.9,554.8 1527.6,553.6 1529.4,552.5 1531.2,551.4 1533,550.3 1534.7,549.1 1536.5,548 1538.3,546.8 1540.1,545.7 1541.9,544.5 1543.6,543.4 1545.4,542.3 1547.2,541.1 1549,540 1550.7,538.8 1552.5,537.7 1554.3,536.6 1556.1,535.4 1557.8,534.3 1559.6,533.2 1561.4,532 1563.2,530.9 1565,529.7 1566.7,528.6 1568.5,527.5 1570.3,526.3 1572.1,525.2 1573.8,524 1575.6,522.9 1577.4,521.8 1579.2,520.7 1581,519.6 1582.7,518.4 1584.5,517.3 1586.3,516.1 1588.1,514.9 1589.8,513.8 1591.6,512.7 1593.4,511.6 1595.2,510.4 1597,509.3 1598.7,508.2 1600.5,507 1602.3,505.9 1604.1,504.8 1605.8,503.7 1607.6,502.5 1609.4,501.4 1611.2,500.2 1613,499.1 1614.7,498 1616.5,496.9 1618.3,495.7 1620.1,494.6 1621.8,493.5 1623.6,492.3 1625.4,491.2 1627.2,490.1 1628.9,489 1630.7,487.9 1632.5,486.7 1634.3,485.6 1636.1,484.5 1637.8,483.3 1639.6,482.2 1641.4,481.1 1643.2,479.9 1644.9,478.8 1646.7,477.7 1648.5,476.6 1650.3,475.5 1652.1,474.3 1653.8,473.2 1655.6,472.1 1657.4,471 1659.2,469.8 1660.9,468.8 1662.7,467.6 1664.5,466.5 1666.3,465.3 1668.1,464.2 1669.8,463.1 1671.6,462 1673.4,460.8 1675.2,459.7 1676.9,458.6 1678.7,457.5 1680.5,456.4 1682.3,455.2 1684,454.1 1685.8,453 1687.6,451.9 1689.4,450.8 1691.2,449.6 1692.9,448.5 1694.7,447.4 1696.5,446.3 1698.3,445.2 1700,444 1701.8,442.9 1703.6,441.8 1705.4,440.7 1707.2,439.5 1708.9,438.4 1710.7,437.3 1712.5,436.2 1714.3,435.1 1716,434 1717.8,432.8 1719.6,431.7 1721.4,430.6 1723.2,429.5 1724.9,428.4 1726.7,427.3 1728.5,426.2 1730.3,425 1732,423.9 1733.8,422.8 1735.6,421.7 1737.4,420.6 1739.2,419.5 1740.9,418.4 1742.7,417.2 1744.5,416.1 1746.3,415 1748,413.9 1749.8,412.8 1751.6,411.7 1753.4,410.6 1755.2,409.4 1756.9,408.3 1758.7,407.3 1760.5,406.1 1762.3,405 1764,403.9 1765.8,402.8 1767.6,401.7 1769.4,400.5 1771.1,399.4 1772.9,398.3 1774.7,397.3 1776.5,396.1 1778.3,395 1780,393.9 1781.8,392.8 1783.6,391.7 1785.4,390.6 1787.1,389.5 1788.9,388.4 1790.7,387.2 1792.5,386.1 1794.3,385 1796,383.9 1797.8,382.8 1799.6,381.7 1801.4,380.6 1803.1,379.5 1804.9,378.4 1806.7,377.3 1808.5,376.2 1810.3,375.1 1812,374 1813.8,372.9 1815.6,371.8 1817.4,370.7 1819.1,369.6 1820.9,368.5 1822.7,367.3 1824.5,366.2 1826.2,365.2 1828,364 1829.8,362.9 1831.6,361.9 1833.4,360.7 1835.1,359.6 1836.9,358.5 1838.7,357.4 1840.5,356.3 1842.2,355.2 1844,354.1 1845.8,353 1847.6,351.9 1849.4,350.8 1851.1,349.7 1852.9,348.6 1854.7,347.5 1856.5,346.4 1858.2,345.3 1860,344.2 1861.8,343.1 1863.6,342 1865.4,340.9 1867.1,339.8 1868.9,338.7 1870.7,337.6 1872.5,336.5 1874.2,335.4 1876,334.3 1877.8,333.2 1879.6,332.1 1881.4,331 1883.1,329.9 1884.9,328.8 1886.7,327.7 1888.5,326.6 1890.2,325.5 1892,324.4 1893.8,323.4 1895.6,322.2 1897.4,321.1 1899.1,320.1 1900.9,319 1902.7,317.8 1904.5,316.8 1906.2,315.7 1908,314.6 1909.8,313.5 1911.6,312.4 1913.3,311.3 1915.1,310.2 1916.9,309.1 1918.7,308 1920.5,306.9 1922.2,305.9 1924,304.7 1925.8,303.7 1927.6,302.6 1929.3,301.5 1931.1,300.4 1932.9,299.3 1934.7,298.2 1936.5,297.1 1938.2,296 1940,294.9 1941.8,293.8 1943.6,292.7 1945.3,291.6 1947.1,290.6 1948.9,289.5 1950.7,288.4 1952.5,287.3 1954.2,286.1 1956,285.1 1957.8,284 1959.6,282.9 1961.3,281.9 1963.1,280.7 1964.9,279.6 1966.7,278.6 1968.5,277.5 1970.2,276.4 1972,275.3 1973.8,274.2 1975.6,273.1 1977.3,272 1979.1,270.9 1980.9,269.9 1982.7,268.8 1984.4,267.7 1986.2,266.6 1988,265.5 1989.8,264.4 1991.6,263.3 1993.3,262.3 1995.1,261.2 1996.9,260.1 1998.7,259 2000.4,257.9 2002.2,256.9 2004,255.8" fill="none" stroke="#EDB120" stroke-width="11.5" stroke-linecap="round" stroke-linejoin="round"/>
<path d="M228.3 1592.2V1592.2M230.1 1584.4V1584.4M231.8 1576.7V1584.4M233.6 1576.7V1576.7M235.4 1568.9V1576.7M237.2 1568.9V1576.7M238.9 1568.9V1568.9M240.7 1561.1V1568.9M242.5 1561.1V1568.9M244.3 1561.1V1568.9M246.1 1561.1V1561.1M247.8 1553.3V1561.1M249.6 1553.3V1561.1M251.4 1553.3V1561.1M253.2 1545.5V1561.1M254.9 1545.5V1553.3M256.7 1545.5V1553.3M258.5 1545.5V1553.3M260.3 1537.8V1553.3M262.1 1537.8V1553.3M263.8 1537.8V1553.3M265.6 1537.8V1545.5M267.4 1537.8V1545.5M269.2 1537.8V1545.5M270.9 1530V1545.5M272.7 1530V1545.5M274.5 1530V1545.5M276.3 1530V1545.5M278 1530V1537.8M279.8 1530V1537.8M281.6 1530V1537.8M283.4 1522.2V1537.8M285.2 1522.2V1537.8M286.9 1522.2V1537.8M288.7 1522.2V1537.8M290.5 1522.2V1537.8M292.3 1522.2V1530M294 1522.2V1530M295.8 1514.4V1530M297.6 1514.4V1530M299.4 1514.4V1530M301.2 1514.4V1530M302.9 1514.4V1530M304.7 1514.4V1530M306.5 1514.4V1530M308.3 1506.6V1522.2M310 1506.6V1522.2M311.8 1506.6V1522.2M313.6 1506.6V1522.2M315.4 1506.6V1522.2M317.2 1506.6V1522.2M318.9 1506.6V1522.2M320.7 1506.6V1522.2M322.5 1498.8V1522.2M324.3 1498.8V1522.2M326 1498.8V1514.4M327.8 1498.8V1514.4M329.6 1498.8V1514.4M331.4 1498.8V1514.4M333.1 1498.8V1514.4M334.9 1498.8V1514.4M336.7 1498.8V1514.4M338.5 1491.1V1514.4M340.3 1491.1V1514.4M342 1491.1V1514.4M343.8 1491.1V1514.4M345.6 1491.1V1506.6M347.4 1491.1V1506.6M349.1 1491.1V1506.6M350.9 1491.1V1506.6M352.7 1491.1V1506.6M354.5 1491.1V1506.6M356.3 1483.3V1506.6M358 1483.3V1506.6M359.8 1483.3V1506.6M361.6 1483.3V1506.6M363.4 1483.3V1506.6M365.1 1483.3V1506.6M366.9 1483.3V1498.8M368.7 1483.3V1498.8M370.5 1483.3V1498.8M372.3 1483.3V1498.8M374 1475.5V1498.8M375.8 1475.5V1498.8M377.6 1475.5V1498.8M379.4 1475.5V1498.8M381.1 1475.5V1498.8M382.9 1475.5V1498.8M384.7 1475.5V1498.8M386.5 1475.5V1498.8M388.3 1475.5V1498.8M390 1475.5V1491.1M391.8 1467.7V1491.1M393.6 1467.7V1491.1M395.4 1467.7V1491.1M397.1 1467.7V1491.1M398.9 1467.7V1491.1M400.7 1467.7V1491.1M402.5 1467.7V1491.1M404.2 1467.7V1491.1M406 1467.7V1491.1M407.8 1467.7V1491.1M409.6 1467.7V1491.1M411.4 1467.7V1491.1M413.1 1459.9V1491.1M414.9 1459.9V1483.3M416.7 1459.9V1483.3M418.5 1459.9V1483.3M420.2 1459.9V1483.3M422 1459.9V1483.3M423.8 1459.9V1483.3M425.6 1459.9V1483.3M427.4 1459.9V1483.3M429.1 1459.9V1483.3M430.9 1459.9V1483.3M432.7 1459.9V1483.3M434.5 1452.2V1483.3M436.2 1452.2V1483.3M438 1452.2V1483.3M439.8 1452.2V1483.3M441.6 1452.2V1475.5M443.4 1452.2V1475.5M445.1 1452.2V1475.5M446.9 1452.2V1475.5M448.7 1452.2V1475.5M450.5 1452.2V1475.5M452.2 1452.2V1475.5M454 1452.2V1475.5M455.8 1444.4V1475.5M457.6 1444.4V1475.5M459.4 1444.4V1475.5M461.1 1444.4V1475.5M462.9 1444.4V1475.5M464.7 1444.4V1475.5M466.5 1444.4V1475.5M468.2 1444.4V1475.5M470 1444.4V1467.7M471.8 1444.4V1467.7M473.6 1444.4V1467.7M475.4 1444.4V1467.7M477.1 1444.4V1467.7M478.9 1436.6V1467.7M480.7 1436.6V1467.7M482.5 1436.6V1467.7M484.2 1436.6V1467.7M486 1436.6V1467.7M487.8 1436.6V1467.7M489.6 1436.6V1467.7M491.3 1436.6V1467.7M493.1 1436.6V1467.7M494.9 1436.6V1467.7M496.7 1436.6V1467.7M498.5 1436.6V1467.7M500.2 1436.6V1459.9M502 1436.6V1459.9M503.8 1428.8V1459.9M505.6 1428.8V1459.9M507.3 1428.8V1459.9M509.1 1428.8V1459.9M510.9 1428.8V1459.9M512.7 1428.8V1459.9M514.5 1428.8V1459.9M516.2 1428.8V1459.9M518 1428.8V1459.9M519.8 1428.8V1459.9M521.6 1428.8V1459.9M523.3 1428.8V1459.9M525.1 1428.8V1459.9M526.9 1428.8V1459.9M528.7 1421V1459.9M530.5 1421V1459.9M532.2 1421V1452.2M534 1421V1452.2M535.8 1421V1452.2M537.6 1421V1452.2M539.3 1421V1452.2M541.1 1421V1452.2M542.9 1421V1452.2M544.7 1421V1452.2M546.5 1421V1452.2M548.2 1421V1452.2M550 1421V1452.2M551.8 1421V1452.2M553.6 1413.3V1452.2M555.3 1413.3V1452.2M557.1 1413.3V1452.2M558.9 1413.3V1452.2M560.7 1413.3V1452.2M562.4 1413.3V1452.2M564.2 1413.3V1452.2M566 1413.3V1444.4M567.8 1413.3V1444.4M569.6 1413.3V1444.4M571.3 1413.3V1444.4M573.1 1413.3V1444.4M574.9 1413.3V1444.4M576.7 1405.5V1444.4M578.4 1405.5V1444.4M580.2 1405.5V1444.4M582 1405.5V1444.4M583.8 1405.5V1444.4M585.6 1405.5V1444.4M587.3 1405.5V1444.4M589.1 1405.5V1444.4M590.9 1405.5V1444.4M592.7 1405.5V1444.4M594.4 1405.5V1444.4M596.2 1405.5V1444.4M598 1405.5V1444.4M599.8 1405.5V1444.4M601.6 1405.5V1436.6M603.3 1405.5V1436.6M605.1 1405.5V1436.6M606.9 1405.5V1436.6M608.7 1397.7V1436.6M610.4 1397.7V1436.6M612.2 1397.7V1436.6M614 1397.7V1436.6M615.8 1397.7V1436.6M617.5 1397.7V1436.6M619.3 1397.7V1436.6M621.1 1397.7V1436.6M622.9 1397.7V1436.6M624.7 1397.7V1436.6M626.4 1397.7V1436.6M628.2 1397.7V1436.6M630 1397.7V1436.6M631.8 1397.7V1436.6M633.5 1397.7V1436.6M635.3 1397.7V1436.6M637.1 1397.7V1436.6M638.9 1389.9V1428.8M640.7 1389.9V1428.8M642.4 1389.9V1428.8M644.2 1389.9V1428.8M646 1389.9V1428.8M647.8 1389.9V1428.8M649.5 1389.9V1428.8M651.3 1389.9V1428.8M653.1 1389.9V1428.8M654.9 1389.9V1428.8M656.7 1389.9V1428.8M658.4 1389.9V1428.8M660.2 1389.9V1428.8M662 1389.9V1428.8M663.8 1389.9V1428.8M665.5 1389.9V1428.8M667.3 1389.9V1428.8M669.1 1382.1V1428.8M670.9 1382.1V1428.8M672.7 1382.1V1428.8M674.4 1382.1V1428.8M676.2 1382.1V1428.8M678 1382.1V1421M679.8 1382.1V1421M681.5 1382.1V1421M683.3 1382.1V1421M685.1 1382.1V1421M686.9 1382.1V1421M688.7 1382.1V1421M690.4 1382.1V1421M692.2 1382.1V1421M694 1382.1V1421M695.8 1382.1V1421M697.5 1382.1V1421M699.3 1374.4V1421M701.1 1374.4V1421M702.9 1374.4V1421M704.6 1374.4V1421M706.4 1374.4V1421M708.2 1374.4V1421M710 1374.4V1421M711.8 1374.4V1421M713.5 1374.4V1421M715.3 1374.4V1421M717.1 1374.4V1421M718.9 1374.4V1413.3M720.6 1374.4V1413.3M722.4 1374.4V1413.3M724.2 1374.4V1413.3M726 1374.4V1413.3M727.8 1374.4V1413.3M729.5 1366.6V1413.3M731.3 1366.6V1413.3M733.1 1366.6V1413.3M734.9 1366.6V1413.3M736.6 1366.6V1413.3M738.4 1366.6V1413.3M740.2 1366.6V1413.3M742 1366.6V1413.3M743.8 1366.6V1413.3M745.5 1366.6V1413.3M747.3 1366.6V1413.3M749.1 1366.6V1413.3M750.9 1366.6V1413.3M752.6 1366.6V1413.3M754.4 1366.6V1413.3M756.2 1366.6V1413.3M758 1366.6V1413.3M759.8 1366.6V1413.3M761.5 1366.6V1405.5M763.3 1366.6V1405.5M765.1 1366.6V1405.5M766.9 1358.8V1405.5M768.6 1358.8V1405.5M770.4 1358.8V1405.5M772.2 1358.8V1405.5M774 1358.8V1405.5M775.7 1358.8V1405.5M777.5 1358.8V1405.5M779.3 1358.8V1405.5M781.1 1358.8V1405.5M782.9 1358.8V1405.5M784.6 1358.8V1405.5M786.4 1358.8V1405.5M788.2 1358.8V1405.5M790 1358.8V1405.5M791.7 1358.8V1405.5M793.5 1351V1405.5M795.3 1351V1405.5M797.1 1351V1405.5M798.9 1351V1405.5M800.6 1351V1405.5M802.4 1351V1405.5M804.2 1351V1405.5M806 1351V1397.7M807.7 1351V1397.7M809.5 1351V1397.7M811.3 1351V1397.7M813.1 1351V1397.7M814.9 1351V1397.7M816.6 1351V1397.7M818.4 1351V1397.7M820.2 1351V1397.7M822 1351V1397.7M823.7 1351V1397.7M825.5 1351V1397.7M827.3 1351V1397.7M829.1 1351V1397.7M830.9 1343.2V1397.7M832.6 1343.2V1397.7M834.4 1343.2V1397.7M836.2 1343.2V1397.7M838 1343.2V1397.7M839.7 1343.2V1397.7M841.5 1343.2V1397.7M843.3 1343.2V1397.7M845.1 1343.2V1397.7M846.8 1343.2V1397.7M848.6 1343.2V1397.7M850.4 1343.2V1397.7M852.2 1343.2V1389.9M854 1343.2V1389.9M855.7 1343.2V1389.9M857.5 1343.2V1389.9M859.3 1343.2V1389.9M861.1 1343.2V1389.9M862.8 1343.2V1389.9M864.6 1343.2V1389.9M866.4 1335.4V1389.9M868.2 1335.4V1389.9M870 1335.4V1389.9M871.7 1335.4V1389.9M873.5 1335.4V1389.9M875.3 1335.4V1389.9M877.1 1335.4V1389.9M878.8 1335.4V1389.9M880.6 1335.4V1389.9M882.4 1335.4V1389.9M884.2 1335.4V1389.9M886 1335.4V1389.9M887.7 1335.4V1389.9M889.5 1335.4V1389.9M891.3 1335.4V1389.9M893.1 1335.4V1389.9M894.8 1335.4V1389.9M896.6 1335.4V1389.9M898.4 1335.4V1389.9M900.2 1335.4V1382.1M902 1335.4V1382.1M903.7 1335.4V1382.1M905.5 1327.7V1382.1M907.3 1327.7V1382.1M909.1 1327.7V1382.1M910.8 1327.7V1382.1M912.6 1327.7V1382.1M914.4 1327.7V1382.1M916.2 1327.7V1382.1M917.9 1327.7V1382.1M919.7 1327.7V1382.1M921.5 1327.7V1382.1M923.3 1327.7V1382.1M925.1 1327.7V1382.1M926.8 1327.7V1382.1M928.6 1327.7V1382.1M930.4 1327.7V1382.1M932.2 1327.7V1382.1M933.9 1327.7V1382.1M935.7 1327.7V1382.1M937.5 1327.7V1382.1M939.3 1327.7V1382.1M941.1 1319.9V1382.1M942.8 1319.9V1382.1M944.6 1319.9V1382.1M946.4 1319.9V1382.1M948.2 1319.9V1382.1M949.9 1319.9V1374.4M951.7 1319.9V1374.4M953.5 1319.9V1374.4M955.3 1319.9V1374.4M957.1 1319.9V1374.4M958.8 1319.9V1374.4M960.6 1319.9V1374.4M962.4 1319.9V1374.4M964.2 1319.9V1374.4M965.9 1319.9V1374.4M967.7 1319.9V1374.4M969.5 1319.9V1374.4M971.3 1319.9V1374.4M973.1 1319.9V1374.4M974.8 1312.1V1374.4M976.6 1312.1V1374.4M978.4 1312.1V1374.4M980.2 1312.1V1374.4M981.9 1312.1V1374.4M983.7 1312.1V1374.4M985.5 1312.1V1374.4M987.3 1312.1V1374.4M989 1312.1V1374.4M990.8 1312.1V1374.4M992.6 1312.1V1374.4M994.4 1312.1V1374.4M996.2 1312.1V1374.4M997.9 1312.1V1374.4M999.7 1312.1V1374.4M1001.5 1312.1V1366.6M1003.3 1312.1V1366.6M1005 1312.1V1366.6M1006.8 1312.1V1366.6M1008.6 1312.1V1366.6M1010.4 1312.1V1366.6M1012.2 1304.3V1366.6M1013.9 1304.3V1366.6M1015.7 1304.3V1366.6M1017.5 1304.3V1366.6M1019.3 1304.3V1366.6M1021 1304.3V1366.6M1022.8 1304.3V1366.6M1024.6 1304.3V1366.6M1026.4 1304.3V1366.6M1028.2 1304.3V1366.6M1029.9 1304.3V1366.6M1031.7 1304.3V1366.6M1033.5 1304.3V1366.6M1035.3 1304.3V1366.6M1037 1304.3V1366.6M1038.8 1304.3V1366.6M1040.6 1304.3V1366.6M1042.4 1304.3V1366.6M1044.2 1304.3V1366.6M1045.9 1304.3V1366.6M1047.7 1304.3V1366.6M1049.5 1304.3V1366.6M1051.3 1304.3V1366.6M1053 1296.5V1366.6M1054.8 1296.5V1358.8M1056.6 1296.5V1358.8M1058.4 1296.5V1358.8M1060.1 1296.5V1358.8M1061.9 1296.5V1358.8M1063.7 1296.5V1358.8M1065.5 1296.5V1358.8M1067.3 1296.5V1358.8M1069 1296.5V1358.8M1070.8 1296.5V1358.8M1072.6 1296.5V1358.8M1074.4 1296.5V1358.8M1076.1 1296.5V1358.8M1077.9 1296.5V1358.8M1079.7 1296.5V1358.8M1081.5 1296.5V1358.8M1083.3 1296.5V1358.8M1085 1296.5V1358.8M1086.8 1296.5V1358.8M1088.6 1296.5V1358.8M1090.4 1288.8V1358.8M1092.1 1288.8V1358.8M1093.9 1288.8V1358.8M1095.7 1288.8V1358.8M1097.5 1288.8V1358.8M1099.3 1288.8V1358.8M1101 1288.8V1358.8M1102.8 1288.8V1358.8M1104.6 1288.8V1358.8M1106.4 1288.8V1358.8M1108.1 1288.8V1358.8M1109.9 1288.8V1351M1111.7 1288.8V1351M1113.5 1288.8V1351M1115.2 1288.8V1351M1117 1288.8V1351M1118.8 1288.8V1351M1120.6 1288.8V1351M1122.4 1288.8V1351M1124.1 1288.8V1351M1125.9 1288.8V1351M1127.7 1288.8V1351M1129.5 1281V1351M1131.2 1281V1351M1133 1281V1351M1134.8 1281V1351M1136.6 1281V1351M1138.4 1281V1351M1140.1 1281V1351M1141.9 1281V1351M1143.7 1281V1351M1145.5 1281V1351M1147.2 1281V1351M1149 1281V1351M1150.8 1281V1351M1152.6 1281V1351M1154.4 1281V1351M1156.1 1281V1351M1157.9 1281V1351M1159.7 1281V1351M1161.5 1281V1351M1163.2 1273.2V1351M1165 1273.2V1351M1166.8 1273.2V1343.2M1168.6 1273.2V1343.2M1170.4 1273.2V1343.2M1172.1 1273.2V1343.2M1173.9 1273.2V1343.2M1175.7 1273.2V1343.2M1177.5 1273.2V1343.2M1179.2 1273.2V1343.2M1181 1273.2V1343.2M1182.8 1273.2V1343.2M1184.6 1273.2V1343.2M1186.3 1273.2V1343.2M1188.1 1273.2V1343.2M1189.9 1273.2V1343.2M1191.7 1273.2V1343.2M1193.5 1273.2V1343.2M1195.2 1273.2V1343.2M1197 1273.2V1343.2M1198.8 1273.2V1343.2M1200.6 1273.2V1343.2M1202.3 1273.2V1343.2M1204.1 1265.4V1343.2M1205.9 1265.4V1343.2M1207.7 1265.4V1343.2M1209.5 1265.4V1343.2M1211.2 1265.4V1343.2M1213 1265.4V1343.2M1214.8 1265.4V1335.4M1216.6 1265.4V1335.4M1218.3 1265.4V1335.4M1220.1 1265.4V1335.4M1221.9 1265.4V1335.4M1223.7 1265.4V1335.4M1225.5 1265.4V1335.4M1227.2 1265.4V1335.4M1229 1265.4V1335.4M1230.8 1265.4V1335.4M1232.6 1265.4V1335.4M1234.3 1265.4V1335.4M1236.1 1265.4V1335.4M1237.9 1265.4V1335.4M1239.7 1265.4V1335.4M1241.5 1257.6V1335.4M1243.2 1257.6V1335.4M1245 1257.6V1335.4M1246.8 1257.6V1335.4M1248.6 1257.6V1335.4M1250.3 1257.6V1335.4M1252.1 1257.6V1335.4M1253.9 1257.6V1335.4M1255.7 1257.6V1335.4M1257.5 1257.6V1335.4M1259.2 1257.6V1335.4M1261 1257.6V1335.4M1262.8 1257.6V1335.4M1264.6 1257.6V1335.4M1266.3 1257.6V1335.4M1268.1 1257.6V1335.4M1269.9 1257.6V1327.7M1271.7 1257.6V1327.7M1273.4 1257.6V1327.7M1275.2 1257.6V1327.7M1277 1257.6V1327.7M1278.8 1257.6V1327.7M1280.6 1257.6V1327.7M1282.3 1257.6V1327.7M1284.1 1249.9V1327.7M1285.9 1249.9V1327.7M1287.7 1249.9V1327.7M1289.4 1249.9V1327.7M1291.2 1249.9V1327.7M1293 1249.9V1327.7M1294.8 1249.9V1327.7M1296.6 1249.9V1327.7M1298.3 1249.9V1327.7M1300.1 1249.9V1327.7M1301.9 1249.9V1327.7M1303.7 1249.9V1327.7M1305.4 1249.9V1327.7M1307.2 1249.9V1327.7M1309 1249.9V1327.7M1310.8 1249.9V1327.7M1312.6 1249.9V1327.7M1314.3 1249.9V1327.7M1316.1 1249.9V1327.7M1317.9 1249.9V1327.7M1319.7 1249.9V1327.7M1321.4 1249.9V1327.7M1323.2 1249.9V1327.7M1325 1242.1V1319.9M1326.8 1242.1V1319.9M1328.5 1242.1V1319.9M1330.3 1242.1V1319.9M1332.1 1242.1V1319.9M1333.9 1242.1V1319.9M1335.7 1242.1V1319.9M1337.4 1242.1V1319.9M1339.2 1242.1V1319.9M1341 1242.1V1319.9M1342.8 1242.1V1319.9M1344.5 1242.1V1319.9M1346.3 1242.1V1319.9M1348.1 1242.1V1319.9M1349.9 1242.1V1319.9M1351.7 1242.1V1319.9M1353.4 1242.1V1319.9M1355.2 1242.1V1319.9M1357 1242.1V1319.9M1358.8 1242.1V1319.9M1360.5 1242.1V1319.9M1362.3 1242.1V1319.9M1364.1 1242.1V1319.9M1365.9 1242.1V1319.9M1367.7 1242.1V1319.9M1369.4 1242.1V1319.9M1371.2 1242.1V1319.9M1373 1234.3V1319.9M1374.8 1234.3V1319.9M1376.5 1234.3V1319.9M1378.3 1234.3V1319.9M1380.1 1234.3V1312.1M1381.9 1234.3V1312.1M1383.7 1234.3V1312.1M1385.4 1234.3V1312.1M1387.2 1234.3V1312.1M1389 1234.3V1312.1M1390.8 1234.3V1312.1M1392.5 1234.3V1312.1M1394.3 1234.3V1312.1M1396.1 1234.3V1312.1M1397.9 1234.3V1312.1M1399.7 1234.3V1312.1M1401.4 1234.3V1312.1M1403.2 1234.3V1312.1M1405 1234.3V1312.1M1406.8 1234.3V1312.1M1408.5 1234.3V1312.1M1410.3 1234.3V1312.1M1412.1 1226.5V1312.1M1413.9 1226.5V1312.1M1415.6 1226.5V1312.1M1417.4 1226.5V1312.1M1419.2 1226.5V1312.1M1421 1226.5V1312.1M1422.8 1226.5V1312.1M1424.5 1226.5V1312.1M1426.3 1226.5V1312.1M1428.1 1226.5V1312.1M1429.9 1226.5V1312.1M1431.6 1226.5V1312.1M1433.4 1226.5V1312.1M1435.2 1226.5V1312.1M1437 1226.5V1312.1M1438.8 1226.5V1312.1M1440.5 1226.5V1304.3M1442.3 1226.5V1304.3M1444.1 1226.5V1304.3M1445.9 1226.5V1304.3M1447.6 1226.5V1304.3M1449.4 1218.7V1304.3M1451.2 1218.7V1304.3M1453 1218.7V1304.3M1454.8 1218.7V1304.3M1456.5 1218.7V1304.3M1458.3 1218.7V1304.3M1460.1 1218.7V1304.3M1461.9 1218.7V1304.3M1463.6 1218.7V1304.3M1465.4 1218.7V1304.3M1467.2 1218.7V1304.3M1469 1218.7V1304.3M1470.8 1218.7V1304.3M1472.5 1218.7V1304.3M1474.3 1218.7V1304.3M1476.1 1218.7V1304.3M1477.9 1218.7V1304.3M1479.6 1218.7V1304.3M1481.4 1218.7V1304.3M1483.2 1218.7V1304.3M1485 1218.7V1304.3M1486.7 1218.7V1304.3M1488.5 1211V1304.3M1490.3 1211V1304.3M1492.1 1211V1304.3M1493.9 1211V1304.3M1495.6 1211V1304.3M1497.4 1211V1304.3M1499.2 1211V1304.3M1501 1211V1296.5M1502.7 1211V1296.5M1504.5 1211V1296.5M1506.3 1211V1296.5M1508.1 1211V1296.5M1509.9 1211V1296.5M1511.6 1211V1296.5M1513.4 1211V1296.5M1515.2 1211V1296.5M1517 1211V1296.5M1518.7 1211V1296.5M1520.5 1211V1296.5M1522.3 1211V1296.5M1524.1 1211V1296.5M1525.9 1211V1296.5M1527.6 1211V1296.5M1529.4 1211V1296.5M1531.2 1203.2V1296.5M1533 1203.2V1296.5M1534.7 1203.2V1296.5M1536.5 1203.2V1296.5M1538.3 1203.2V1296.5M1540.1 1203.2V1296.5M1541.9 1203.2V1296.5M1543.6 1203.2V1296.5M1545.4 1203.2V1296.5M1547.2 1203.2V1296.5M1549 1203.2V1296.5M1550.7 1203.2V1296.5M1552.5 1203.2V1296.5M1554.3 1203.2V1296.5M1556.1 1203.2V1296.5M1557.8 1203.2V1296.5M1559.6 1203.2V1296.5M1561.4 1203.2V1296.5M1563.2 1203.2V1296.5M1565 1203.2V1296.5M1566.7 1203.2V1288.8M1568.5 1203.2V1288.8M1570.3 1203.2V1288.8M1572.1 1203.2V1288.8M1573.8 1203.2V1288.8M1575.6 1203.2V1288.8M1577.4 1203.2V1288.8M1579.2 1203.2V1288.8M1581 1203.2V1288.8M1582.7 1203.2V1288.8M1584.5 1203.2V1288.8M1586.3 1195.4V1288.8M1588.1 1195.4V1288.8M1589.8 1195.4V1288.8M1591.6 1195.4V1288.8M1593.4 1195.4V1288.8M1595.2 1195.4V1288.8M1597 1195.4V1288.8M1598.7 1195.4V1288.8M1600.5 1195.4V1288.8M1602.3 1195.4V1288.8M1604.1 1195.4V1288.8M1605.8 1195.4V1288.8M1607.6 1195.4V1288.8M1609.4 1195.4V1288.8M1611.2 1195.4V1288.8M1613 1195.4V1288.8M1614.7 1195.4V1288.8M1616.5 1195.4V1288.8M1618.3 1195.4V1288.8M1620.1 1195.4V1288.8M1621.8 1195.4V1288.8M1623.6 1195.4V1288.8M1625.4 1195.4V1288.8M1627.2 1195.4V1288.8M1628.9 1195.4V1288.8M1630.7 1195.4V1281M1632.5 1195.4V1281M1634.3 1195.4V1281M1636.1 1195.4V1281M1637.8 1195.4V1281M1639.6 1195.4V1281M1641.4 1195.4V1281M1643.2 1187.6V1281M1644.9 1187.6V1281M1646.7 1187.6V1281M1648.5 1187.6V1281M1650.3 1187.6V1281M1652.1 1187.6V1281M1653.8 1187.6V1281M1655.6 1187.6V1281M1657.4 1187.6V1281M1659.2 1187.6V1281M1660.9 1187.6V1281M1662.7 1187.6V1281M1664.5 1187.6V1281M1666.3 1187.6V1281M1668.1 1187.6V1281M1669.8 1187.6V1281M1671.6 1187.6V1281M1673.4 1187.6V1281M1675.2 1187.6V1281M1676.9 1187.6V1281M1678.7 1187.6V1281M1680.5 1187.6V1281M1682.3 1187.6V1281M1684 1187.6V1281M1685.8 1187.6V1281M1687.6 1187.6V1281M1689.4 1187.6V1281M1691.2 1187.6V1281M1692.9 1187.6V1281M1694.7 1179.8V1273.2M1696.5 1179.8V1273.2M1698.3 1179.8V1273.2M1700 1179.8V1273.2M1701.8 1179.8V1273.2M1703.6 1179.8V1273.2M1705.4 1179.8V1273.2M1707.2 1179.8V1273.2M1708.9 1179.8V1273.2M1710.7 1179.8V1273.2M1712.5 1179.8V1273.2M1714.3 1179.8V1273.2M1716 1179.8V1273.2M1717.8 1179.8V1273.2M1719.6 1179.8V1273.2M1721.4 1179.8V1273.2M1723.2 1179.8V1273.2M1724.9 1179.8V1273.2M1726.7 1179.8V1273.2M1728.5 1179.8V1273.2M1730.3 1179.8V1273.2M1732 1179.8V1273.2M1733.8 1179.8V1273.2M1735.6 1179.8V1273.2M1737.4 1179.8V1273.2M1739.2 1179.8V1273.2M1740.9 1172V1265.4M1742.7 1172V1265.4M1744.5 1172V1265.4M1746.3 1172V1265.4M1748 1172V1265.4M1749.8 1172V1265.4M1751.6 1172V1265.4M1753.4 1172V1265.4M1755.2 1172V1265.4M1756.9 1172V1265.4M1758.7 1172V1265.4M1760.5 1172V1265.4M1762.3 1172V1265.4M1764 1172V1265.4M1765.8 1172V1265.4M1767.6 1172V1265.4M1769.4 1172V1265.4M1771.1 1172V1265.4M1772.9 1172V1265.4M1774.7 1172V1265.4M1776.5 1172V1265.4M1778.3 1172V1257.6M1780 1172V1257.6M1781.8 1172V1257.6M1783.6 1172V1257.6M1785.4 1172V1257.6M1787.1 1172V1257.6M1788.9 1172V1257.6M1790.7 1172V1257.6M1792.5 1172V1257.6M1794.3 1172V1257.6M1796 1172V1257.6M1797.8 1172V1257.6M1799.6 1172V1257.6M1801.4 1172V1257.6M1803.1 1172V1257.6M1804.9 1172V1257.6M1806.7 1172V1257.6M1808.5 1172V1257.6M1810.3 1172V1257.6M1812 1164.3V1257.6M1813.8 1164.3V1257.6M1815.6 1164.3V1257.6M1817.4 1164.3V1257.6M1819.1 1164.3V1257.6M1820.9 1164.3V1257.6M1822.7 1164.3V1257.6M1824.5 1164.3V1257.6M1826.2 1164.3V1257.6M1828 1164.3V1257.6M1829.8 1164.3V1257.6M1831.6 1164.3V1257.6M1833.4 1164.3V1257.6M1835.1 1164.3V1257.6M1836.9 1164.3V1257.6M1838.7 1164.3V1257.6M1840.5 1164.3V1257.6M1842.2 1164.3V1257.6M1844 1164.3V1257.6M1845.8 1164.3V1257.6M1847.6 1164.3V1257.6M1849.4 1164.3V1249.9M1851.1 1164.3V1249.9M1852.9 1164.3V1249.9M1854.7 1164.3V1249.9M1856.5 1164.3V1249.9M1858.2 1164.3V1249.9M1860 1164.3V1249.9M1861.8 1164.3V1249.9M1863.6 1164.3V1249.9M1865.4 1164.3V1249.9M1867.1 1156.5V1249.9M1868.9 1156.5V1249.9M1870.7 1156.5V1249.9M1872.5 1156.5V1249.9M1874.2 1156.5V1249.9M1876 1156.5V1249.9M1877.8 1156.5V1249.9M1879.6 1156.5V1249.9M1881.4 1156.5V1249.9M1883.1 1156.5V1249.9M1884.9 1156.5V1249.9M1886.7 1156.5V1249.9M1888.5 1156.5V1249.9M1890.2 1156.5V1249.9M1892 1156.5V1249.9M1893.8 1156.5V1249.9M1895.6 1156.5V1249.9M1897.4 1156.5V1249.9M1899.1 1156.5V1249.9M1900.9 1156.5V1249.9M1902.7 1156.5V1249.9M1904.5 1156.5V1249.9M1906.2 1156.5V1249.9M1908 1156.5V1249.9M1909.8 1156.5V1249.9M1911.6 1156.5V1249.9M1913.3 1156.5V1249.9M1915.1 1156.5V1249.9M1916.9 1156.5V1249.9M1918.7 1156.5V1249.9M1920.5 1156.5V1242.1M1922.2 1156.5V1242.1M1924 1156.5V1242.1M1925.8 1156.5V1242.1M1927.6 1156.5V1242.1M1929.3 1156.5V1242.1M1931.1 1156.5V1242.1M1932.9 1156.5V1242.1M1934.7 1156.5V1242.1M1936.5 1156.5V1242.1M1938.2 1156.5V1242.1M1940 1156.5V1242.1M1941.8 1156.5V1242.1M1943.6 1156.5V1242.1M1945.3 1148.7V1242.1M1947.1 1148.7V1242.1M1948.9 1148.7V1242.1M1950.7 1148.7V1242.1M1952.5 1148.7V1242.1M1954.2 1148.7V1242.1M1956 1148.7V1242.1M1957.8 1148.7V1242.1M1959.6 1148.7V1242.1M1961.3 1148.7V1242.1M1963.1 1148.7V1242.1M1964.9 1148.7V1242.1M1966.7 1148.7V1242.1M1968.5 1148.7V1242.1M1970.2 1148.7V1242.1M1972 1148.7V1242.1M1973.8 1148.7V1242.1M1975.6 1148.7V1242.1M1977.3 1148.7V1242.1M1979.1 1148.7V1242.1M1980.9 1148.7V1242.1M1982.7 1148.7V1242.1M1984.4 1148.7V1242.1M1986.2 1148.7V1242.1M1988 1148.7V1242.1M1989.8 1148.7V1242.1M1991.6 1148.7V1242.1M1993.3 1148.7V1242.1M1995.1 1148.7V1242.1M1996.9 1148.7V1234.3M1998.7 1148.7V1234.3M2000.4 1148.7V1234.3M2002.2 1148.7V1234.3M2004 1148.7V1234.3" stroke="#7E2F8E" stroke-width="1" fill="none" shape-rendering="crispEdges"/><path d="M211.8 1592.2H244.8M213.6 1584.4H248.3M217.1 1576.7H253.7M222.4 1568.9H260.8M229.6 1561.1H269.7M238.4 1553.3H280.3M249.1 1545.5H292.8M261.5 1537.8H307M275.8 1530H323M291.8 1522.2H340.8M309.5 1514.4H360.3M329.1 1506.6H381.6M350.4 1498.8H404.8M373.5 1491.1H429.6M398.4 1483.3H456.3M425.1 1475.5H484.7M453.5 1467.7H515M483.7 1459.9H547M515.7 1452.2H580.7M549.5 1444.4H616.3M585.1 1436.6H653.6M622.4 1428.8H692.7M661.5 1421H733.6M702.4 1413.3H776.2M745 1405.5H820.7M789.5 1397.7H866.9M835.7 1389.9H914.9M883.7 1382.1H964.7M933.4 1374.4H1016.2M985 1366.6H1069.5M1038.3 1358.8H1124.6M1093.4 1351H1181.5M1150.3 1343.2H1229.5M1198.3 1335.4H1284.6M1253.4 1327.7H1339.7M1308.5 1319.9H1394.8M1363.6 1312.1H1455.3M1424 1304.3H1515.7M1484.5 1296.5H1581.5M1550.2 1288.8H1645.4M1614.2 1281H1709.4M1678.2 1273.2H1755.7M1724.4 1265.4H1793M1761.8 1257.6H1864.1M1832.9 1249.9H1935.2M1904 1242.1H2011.6M1980.4 1234.3H2020.5M211.8 1592.2H244.8M213.6 1584.4H246.6M215.3 1576.7H250.1M218.9 1568.9H255.4M224.2 1561.1H262.6M231.3 1553.3H267.9M236.7 1545.5H275M243.8 1537.8H285.7M254.4 1530H298.1M266.9 1522.2H310.5M279.3 1514.4H323M291.8 1506.6H337.2M306 1498.8H353.2M322 1491.1H371M339.8 1483.3H388.8M357.5 1475.5H406.5M375.3 1467.7H427.9M396.6 1459.9H449.2M418 1452.2H470.5M439.3 1444.4H493.6M462.4 1436.6H518.5M487.3 1428.8H543.4M512.2 1421H568.3M537.1 1413.3H591.4M560.2 1405.5H623.4M592.2 1397.7H653.6M622.4 1389.9H683.8M652.6 1382.1H714M682.8 1374.4H744.3M713 1366.6H781.6M750.4 1358.8H808.2M777 1351H845.6M814.4 1343.2H881.1M849.9 1335.4H920.2M889 1327.7H955.8M924.6 1319.9H989.6M958.3 1312.1H1026.9M995.7 1304.3H1067.8M1036.5 1296.5H1105.1M1073.9 1288.8H1144.2M1113 1281H1178M1146.7 1273.2H1218.8M1187.6 1265.4H1256.2M1225 1257.6H1298.8M1267.6 1249.9H1339.7M1308.5 1242.1H1387.7M1356.5 1234.3H1426.8M1395.6 1226.5H1464.1M1432.9 1218.7H1503.2M1472 1211H1545.9M1514.7 1203.2H1601M1569.8 1195.4H1657.9M1626.7 1187.6H1709.4M1678.2 1179.8H1755.7M1724.4 1172H1826.8M1795.5 1164.3H1881.9M1850.6 1156.5H1960.1M1928.8 1148.7H2020.5" stroke="#7E2F8E" stroke-width="2" fill="none" shape-rendering="crispEdges"/><polyline points="228.3,1592.2 230.1,1584.4 231.8,1584.3 233.6,1576.7 235.4,1576.5 237.2,1576.3 238.9,1568.9 240.7,1568.6 242.5,1568.4 244.3,1568.2 246.1,1561.1 247.8,1560.7 249.6,1560.4 251.4,1560.2 253.2,1560 254.9,1553.2 256.7,1552.8 258.5,1552.5 260.3,1552.2 262.1,1552 263.8,1551.8 265.6,1545.4 267.4,1544.9 269.2,1544.6 270.9,1544.2 272.7,1543.9 274.5,1543.7 276.3,1543.5 278,1537.5 279.8,1537 281.6,1536.6 283.4,1536.2 285.2,1535.9 286.9,1535.5 288.7,1535.3 290.5,1535.2 292.3,1529.6 294,1529.1 295.8,1528.6 297.6,1528.2 299.4,1527.8 301.2,1527.4 302.9,1527.1 304.7,1526.9 306.5,1526.7 308.3,1521.6 310,1521.1 311.8,1520.6 313.6,1520.1 315.4,1519.7 317.2,1519.3 318.9,1519 320.7,1518.7 322.5,1518.4 324.3,1518.2 326,1513.6 327.8,1513 329.6,1512.6 331.4,1512 333.1,1511.6 334.9,1511.2 336.7,1510.8 338.5,1510.5 340.3,1510.2 342,1509.9 343.8,1509.7 345.6,1505.5 347.4,1505 349.1,1504.5 350.9,1503.9 352.7,1503.5 354.5,1503 356.3,1502.6 358,1502.2 359.8,1501.9 361.6,1501.6 363.4,1501.3 365.1,1501.1 366.9,1497.4 368.7,1496.8 370.5,1496.3 372.3,1495.7 374,1495.3 375.8,1494.8 377.6,1494.3 379.4,1493.9 381.1,1493.5 382.9,1493.2 384.7,1492.9 386.5,1492.6 388.3,1492.4 390,1489.2 391.8,1488.6 393.6,1488.1 395.4,1487.5 397.1,1487.1 398.9,1486.5 400.7,1486.1 402.5,1485.7 404.2,1485.3 406,1484.8 407.8,1484.5 409.6,1484.2 411.4,1483.9 413.1,1483.7 414.9,1480.9 416.7,1480.3 418.5,1479.8 420.2,1479.2 422,1478.8 423.8,1478.3 425.6,1477.8 427.4,1477.3 429.1,1476.9 430.9,1476.5 432.7,1476.2 434.5,1475.8 436.2,1475.5 438,1475.2 439.8,1475 441.6,1472.5 443.4,1471.9 445.1,1471.4 446.9,1470.9 448.7,1470.4 450.5,1469.9 452.2,1469.5 454,1469 455.8,1468.6 457.6,1468.1 459.4,1467.8 461.1,1467.4 462.9,1467 464.7,1466.7 466.5,1466.4 468.2,1466.2 470,1464 471.8,1463.4 473.6,1463 475.4,1462.4 477.1,1461.9 478.9,1461.5 480.7,1461 482.5,1460.5 484.2,1460.1 486,1459.7 487.8,1459.3 489.6,1458.9 491.3,1458.5 493.1,1458.2 494.9,1457.9 496.7,1457.6 498.5,1457.3 500.2,1455.4 502,1454.9 503.8,1454.4 505.6,1453.9 507.3,1453.5 509.1,1453 510.9,1452.5 512.7,1452.1 514.5,1451.7 516.2,1451.2 518,1450.8 519.8,1450.4 521.6,1450 523.3,1449.7 525.1,1449.3 526.9,1449 528.7,1448.7 530.5,1448.4 532.2,1446.7 534,1446.3 535.8,1445.8 537.6,1445.3 539.3,1444.9 541.1,1444.4 542.9,1444 544.7,1443.6 546.5,1443.2 548.2,1442.7 550,1442.3 551.8,1441.9 553.6,1441.5 555.3,1441.1 557.1,1440.7 558.9,1440.4 560.7,1440.1 562.4,1439.7 564.2,1439.4 566,1438.1 567.8,1437.6 569.6,1437.2 571.3,1436.7 573.1,1436.3 574.9,1435.8 576.7,1435.4 578.4,1435 580.2,1434.6 582,1434.1 583.8,1433.7 585.6,1433.3 587.3,1432.9 589.1,1432.5 590.9,1432.2 592.7,1431.8 594.4,1431.4 596.2,1431.1 598,1430.8 599.8,1430.5 601.6,1429.3 603.3,1428.9 605.1,1428.5 606.9,1428 608.7,1427.6 610.4,1427.2 612.2,1426.7 614,1426.3 615.8,1425.9 617.5,1425.5 619.3,1425.1 621.1,1424.7 622.9,1424.3 624.7,1423.9 626.4,1423.5 628.2,1423.1 630,1422.8 631.8,1422.4 633.5,1422.1 635.3,1421.8 637.1,1421.5 638.9,1420.5 640.7,1420.1 642.4,1419.7 644.2,1419.2 646,1418.8 647.8,1418.4 649.5,1418 651.3,1417.6 653.1,1417.2 654.9,1416.8 656.7,1416.4 658.4,1416 660.2,1415.6 662,1415.2 663.8,1414.8 665.5,1414.4 667.3,1414.1 669.1,1413.7 670.9,1413.4 672.7,1413 674.4,1412.7 676.2,1412.4 678,1411.6 679.8,1411.1 681.5,1410.8 683.3,1410.4 685.1,1410 686.9,1409.6 688.7,1409.2 690.4,1408.8 692.2,1408.4 694,1408 695.8,1407.6 697.5,1407.2 699.3,1406.9 701.1,1406.5 702.9,1406.1 704.6,1405.7 706.4,1405.3 708.2,1405 710,1404.6 711.8,1404.3 713.5,1404 715.3,1403.7 717.1,1403.4 718.9,1402.6 720.6,1402.2 722.4,1401.9 724.2,1401.4 726,1401.1 727.8,1400.7 729.5,1400.3 731.3,1399.9 733.1,1399.5 734.9,1399.1 736.6,1398.8 738.4,1398.4 740.2,1398 742,1397.6 743.8,1397.3 745.5,1396.9 747.3,1396.5 749.1,1396.2 750.9,1395.8 752.6,1395.5 754.4,1395.2 756.2,1394.8 758,1394.5 759.8,1394.2 761.5,1393.6 763.3,1393.2 765.1,1392.8 766.9,1392.4 768.6,1392.1 770.4,1391.7 772.2,1391.3 774,1391 775.7,1390.6 777.5,1390.2 779.3,1389.9 781.1,1389.5 782.9,1389.2 784.6,1388.8 786.4,1388.4 788.2,1388.1 790,1387.7 791.7,1387.4 793.5,1387 795.3,1386.6 797.1,1386.3 798.9,1386 800.6,1385.6 802.4,1385.3 804.2,1385 806,1384.5 807.7,1384.1 809.5,1383.7 811.3,1383.3 813.1,1383 814.9,1382.6 816.6,1382.3 818.4,1381.9 820.2,1381.6 822,1381.3 823.7,1380.9 825.5,1380.5 827.3,1380.2 829.1,1379.8 830.9,1379.5 832.6,1379.1 834.4,1378.8 836.2,1378.4 838,1378 839.7,1377.7 841.5,1377.4 843.3,1377 845.1,1376.7 846.8,1376.4 848.6,1376.1 850.4,1375.8 852.2,1375.3 854,1374.9 855.7,1374.6 857.5,1374.3 859.3,1373.9 861.1,1373.6 862.8,1373.2 864.6,1372.9 866.4,1372.6 868.2,1372.2 870,1371.9 871.7,1371.5 873.5,1371.2 875.3,1370.9 877.1,1370.5 878.8,1370.1 880.6,1369.8 882.4,1369.4 884.2,1369.1 886,1368.7 887.7,1368.4 889.5,1368.1 891.3,1367.7 893.1,1367.5 894.8,1367.2 896.6,1366.8 898.4,1366.5 900.2,1366.1 902,1365.8 903.7,1365.5 905.5,1365.1 907.3,1364.8 909.1,1364.5 910.8,1364.1 912.6,1363.8 914.4,1363.5 916.2,1363.1 917.9,1362.8 919.7,1362.4 921.5,1362.1 923.3,1361.8 925.1,1361.4 926.8,1361.1 928.6,1360.8 930.4,1360.4 932.2,1360.1 933.9,1359.7 935.7,1359.4 937.5,1359.1 939.3,1358.8 941.1,1358.5 942.8,1358.2 944.6,1357.8 946.4,1357.6 948.2,1357.3 949.9,1356.9 951.7,1356.6 953.5,1356.3 955.3,1355.9 957.1,1355.6 958.8,1355.3 960.6,1354.9 962.4,1354.6 964.2,1354.3 965.9,1353.9 967.7,1353.6 969.5,1353.3 971.3,1352.9 973.1,1352.6 974.8,1352.3 976.6,1352 978.4,1351.7 980.2,1351.3 981.9,1351 983.7,1350.7 985.5,1350.4 987.3,1350.1 989,1349.7 990.8,1349.4 992.6,1349.1 994.4,1348.8 996.2,1348.5 997.9,1348.3 999.7,1348 1001.5,1347.6 1003.3,1347.3 1005,1347 1006.8,1346.7 1008.6,1346.3 1010.4,1346 1012.2,1345.7 1013.9,1345.4 1015.7,1345 1017.5,1344.7 1019.3,1344.4 1021,1344.1 1022.8,1343.8 1024.6,1343.5 1026.4,1343.1 1028.2,1342.8 1029.9,1342.5 1031.7,1342.2 1033.5,1341.9 1035.3,1341.6 1037,1341.3 1038.8,1341 1040.6,1340.7 1042.4,1340.4 1044.2,1340 1045.9,1339.8 1047.7,1339.5 1049.5,1339.2 1051.3,1338.9 1053,1338.6 1054.8,1338.3 1056.6,1337.9 1058.4,1337.6 1060.1,1337.3 1061.9,1337 1063.7,1336.7 1065.5,1336.4 1067.3,1336.1 1069,1335.8 1070.8,1335.5 1072.6,1335.2 1074.4,1334.9 1076.1,1334.6 1077.9,1334.2 1079.7,1333.9 1081.5,1333.6 1083.3,1333.3 1085,1333 1086.8,1332.7 1088.6,1332.4 1090.4,1332.1 1092.1,1331.8 1093.9,1331.5 1095.7,1331.2 1097.5,1330.9 1099.3,1330.6 1101,1330.3 1102.8,1330 1104.6,1329.7 1106.4,1329.5 1108.1,1329.2 1109.9,1328.8 1111.7,1328.5 1113.5,1328.2 1115.2,1327.9 1117,1327.6 1118.8,1327.3 1120.6,1327 1122.4,1326.7 1124.1,1326.4 1125.9,1326.1 1127.7,1325.8 1129.5,1325.5 1131.2,1325.2 1133,1324.9 1134.8,1324.6 1136.6,1324.3 1138.4,1324 1140.1,1323.7 1141.9,1323.4 1143.7,1323.1 1145.5,1322.8 1147.2,1322.5 1149,1322.2 1150.8,1321.9 1152.6,1321.7 1154.4,1321.4 1156.1,1321.1 1157.9,1320.8 1159.7,1320.5 1161.5,1320.2 1163.2,1319.9 1165,1319.6 1166.8,1319.3 1168.6,1319 1170.4,1318.8 1172.1,1318.5 1173.9,1318.2 1175.7,1317.9 1177.5,1317.6 1179.2,1317.3 1181,1317 1182.8,1316.7 1184.6,1316.4 1186.3,1316.1 1188.1,1315.8 1189.9,1315.5 1191.7,1315.2 1193.5,1314.9 1195.2,1314.6 1197,1314.4 1198.8,1314.1 1200.6,1313.8 1202.3,1313.5 1204.1,1313.2 1205.9,1312.9 1207.7,1312.7 1209.5,1312.4 1211.2,1312.1 1213,1311.8 1214.8,1311.5 1216.6,1311.2 1218.3,1311 1220.1,1310.7 1221.9,1310.4 1223.7,1310.1 1225.5,1309.8 1227.2,1309.5 1229,1309.2 1230.8,1309 1232.6,1308.7 1234.3,1308.4 1236.1,1308.1 1237.9,1307.8 1239.7,1307.5 1241.5,1307.2 1243.2,1307 1245,1306.7 1246.8,1306.4 1248.6,1306.1 1250.3,1305.8 1252.1,1305.5 1253.9,1305.2 1255.7,1305 1257.5,1304.7 1259.2,1304.4 1261,1304.1 1262.8,1303.8 1264.6,1303.6 1266.3,1303.3 1268.1,1303 1269.9,1302.7 1271.7,1302.5 1273.4,1302.2 1275.2,1301.9 1277,1301.6 1278.8,1301.4 1280.6,1301.1 1282.3,1300.8 1284.1,1300.5 1285.9,1300.2 1287.7,1300 1289.4,1299.7 1291.2,1299.4 1293,1299.1 1294.8,1298.8 1296.6,1298.5 1298.3,1298.3 1300.1,1298 1301.9,1297.7 1303.7,1297.4 1305.4,1297.1 1307.2,1296.8 1309,1296.6 1310.8,1296.3 1312.6,1296 1314.3,1295.7 1316.1,1295.5 1317.9,1295.2 1319.7,1294.9 1321.4,1294.7 1323.2,1294.4 1325,1294.1 1326.8,1293.8 1328.5,1293.6 1330.3,1293.3 1332.1,1293 1333.9,1292.8 1335.7,1292.5 1337.4,1292.2 1339.2,1292 1341,1291.7 1342.8,1291.4 1344.5,1291.2 1346.3,1290.9 1348.1,1290.6 1349.9,1290.4 1351.7,1290.1 1353.4,1289.8 1355.2,1289.5 1357,1289.3 1358.8,1289 1360.5,1288.7 1362.3,1288.4 1364.1,1288.1 1365.9,1287.9 1367.7,1287.6 1369.4,1287.3 1371.2,1287.1 1373,1286.8 1374.8,1286.5 1376.5,1286.2 1378.3,1286 1380.1,1285.7 1381.9,1285.4 1383.7,1285.2 1385.4,1284.9 1387.2,1284.6 1389,1284.4 1390.8,1284.1 1392.5,1283.8 1394.3,1283.6 1396.1,1283.3 1397.9,1283 1399.7,1282.8 1401.4,1282.5 1403.2,1282.2 1405,1282 1406.8,1281.7 1408.5,1281.5 1410.3,1281.2 1412.1,1280.9 1413.9,1280.7 1415.6,1280.4 1417.4,1280.1 1419.2,1279.9 1421,1279.6 1422.8,1279.3 1424.5,1279 1426.3,1278.7 1428.1,1278.5 1429.9,1278.2 1431.6,1278 1433.4,1277.7 1435.2,1277.4 1437,1277.2 1438.8,1276.9 1440.5,1276.7 1442.3,1276.4 1444.1,1276.2 1445.9,1275.9 1447.6,1275.6 1449.4,1275.4 1451.2,1275.1 1453,1274.8 1454.8,1274.6 1456.5,1274.3 1458.3,1274 1460.1,1273.8 1461.9,1273.5 1463.6,1273.3 1465.4,1273 1467.2,1272.7 1469,1272.5 1470.8,1272.2 1472.5,1272 1474.3,1271.7 1476.1,1271.4 1477.9,1271.1 1479.6,1270.9 1481.4,1270.6 1483.2,1270.3 1485,1270.1 1486.7,1269.8 1488.5,1269.5 1490.3,1269.3 1492.1,1269 1493.9,1268.8 1495.6,1268.5 1497.4,1268.3 1499.2,1268 1501,1267.7 1502.7,1267.5 1504.5,1267.2 1506.3,1267 1508.1,1266.8 1509.9,1266.5 1511.6,1266.2 1513.4,1266 1515.2,1265.7 1517,1265.5 1518.7,1265.2 1520.5,1264.9 1522.3,1264.7 1524.1,1264.4 1525.9,1264.2 1527.6,1263.9 1529.4,1263.7 1531.2,1263.4 1533,1263.2 1534.7,1262.9 1536.5,1262.7 1538.3,1262.4 1540.1,1262.1 1541.9,1261.9 1543.6,1261.6 1545.4,1261.3 1547.2,1261.1 1549,1260.8 1550.7,1260.5 1552.5,1260.3 1554.3,1260 1556.1,1259.8 1557.8,1259.5 1559.6,1259.3 1561.4,1259 1563.2,1258.8 1565,1258.5 1566.7,1258.3 1568.5,1258 1570.3,1257.8 1572.1,1257.5 1573.8,1257.3 1575.6,1257 1577.4,1256.7 1579.2,1256.5 1581,1256.3 1582.7,1256 1584.5,1255.7 1586.3,1255.5 1588.1,1255.2 1589.8,1255 1591.6,1254.7 1593.4,1254.5 1595.2,1254.2 1597,1254 1598.7,1253.7 1600.5,1253.5 1602.3,1253.2 1604.1,1252.9 1605.8,1252.7 1607.6,1252.4 1609.4,1252.2 1611.2,1251.9 1613,1251.7 1614.7,1251.4 1616.5,1251.2 1618.3,1250.9 1620.1,1250.7 1621.8,1250.4 1623.6,1250.2 1625.4,1249.9 1627.2,1249.7 1628.9,1249.4 1630.7,1249.2 1632.5,1248.9 1634.3,1248.7 1636.1,1248.5 1637.8,1248.2 1639.6,1248 1641.4,1247.7 1643.2,1247.5 1644.9,1247.2 1646.7,1246.9 1648.5,1246.7 1650.3,1246.5 1652.1,1246.2 1653.8,1246 1655.6,1245.7 1657.4,1245.5 1659.2,1245.2 1660.9,1245 1662.7,1244.7 1664.5,1244.5 1666.3,1244.2 1668.1,1244 1669.8,1243.8 1671.6,1243.5 1673.4,1243.2 1675.2,1243 1676.9,1242.7 1678.7,1242.5 1680.5,1242.2 1682.3,1242 1684,1241.7 1685.8,1241.5 1687.6,1241.3 1689.4,1241 1691.2,1240.8 1692.9,1240.5 1694.7,1240.3 1696.5,1240 1698.3,1239.8 1700,1239.6 1701.8,1239.3 1703.6,1239.1 1705.4,1238.8 1707.2,1238.6 1708.9,1238.4 1710.7,1238.1 1712.5,1237.9 1714.3,1237.6 1716,1237.4 1717.8,1237.1 1719.6,1236.9 1721.4,1236.6 1723.2,1236.4 1724.9,1236.1 1726.7,1235.9 1728.5,1235.6 1730.3,1235.4 1732,1235.2 1733.8,1234.9 1735.6,1234.7 1737.4,1234.5 1739.2,1234.2 1740.9,1234 1742.7,1233.7 1744.5,1233.5 1746.3,1233.2 1748,1233 1749.8,1232.7 1751.6,1232.5 1753.4,1232.2 1755.2,1232 1756.9,1231.8 1758.7,1231.6 1760.5,1231.3 1762.3,1231.1 1764,1230.8 1765.8,1230.6 1767.6,1230.3 1769.4,1230.1 1771.1,1229.8 1772.9,1229.6 1774.7,1229.4 1776.5,1229.2 1778.3,1228.9 1780,1228.7 1781.8,1228.4 1783.6,1228.2 1785.4,1228 1787.1,1227.7 1788.9,1227.4 1790.7,1227.2 1792.5,1227 1794.3,1226.7 1796,1226.5 1797.8,1226.3 1799.6,1226 1801.4,1225.8 1803.1,1225.6 1804.9,1225.4 1806.7,1225.1 1808.5,1224.9 1810.3,1224.7 1812,1224.4 1813.8,1224.2 1815.6,1223.9 1817.4,1223.7 1819.1,1223.4 1820.9,1223.2 1822.7,1222.9 1824.5,1222.7 1826.2,1222.5 1828,1222.3 1829.8,1222 1831.6,1221.8 1833.4,1221.6 1835.1,1221.3 1836.9,1221 1838.7,1220.8 1840.5,1220.6 1842.2,1220.3 1844,1220.1 1845.8,1219.9 1847.6,1219.6 1849.4,1219.4 1851.1,1219.1 1852.9,1218.9 1854.7,1218.7 1856.5,1218.4 1858.2,1218.2 1860,1218 1861.8,1217.7 1863.6,1217.5 1865.4,1217.2 1867.1,1217 1868.9,1216.8 1870.7,1216.6 1872.5,1216.3 1874.2,1216.1 1876,1215.9 1877.8,1215.7 1879.6,1215.5 1881.4,1215.2 1883.1,1215 1884.9,1214.7 1886.7,1214.5 1888.5,1214.3 1890.2,1214 1892,1213.8 1893.8,1213.5 1895.6,1213.3 1897.4,1213.1 1899.1,1212.9 1900.9,1212.6 1902.7,1212.4 1904.5,1212.1 1906.2,1211.9 1908,1211.7 1909.8,1211.4 1911.6,1211.2 1913.3,1211 1915.1,1210.7 1916.9,1210.5 1918.7,1210.3 1920.5,1210.1 1922.2,1209.8 1924,1209.6 1925.8,1209.4 1927.6,1209.1 1929.3,1208.9 1931.1,1208.6 1932.9,1208.4 1934.7,1208.2 1936.5,1207.9 1938.2,1207.7 1940,1207.5 1941.8,1207.2 1943.6,1207 1945.3,1206.8 1947.1,1206.6 1948.9,1206.3 1950.7,1206.1 1952.5,1205.9 1954.2,1205.6 1956,1205.4 1957.8,1205.2 1959.6,1204.9 1961.3,1204.7 1963.1,1204.5 1964.9,1204.3 1966.7,1204 1968.5,1203.8 1970.2,1203.6 1972,1203.3 1973.8,1203.1 1975.6,1202.9 1977.3,1202.7 1979.1,1202.5 1980.9,1202.2 1982.7,1202 1984.4,1201.8 1986.2,1201.6 1988,1201.3 1989.8,1201.1 1991.6,1200.8 1993.3,1200.6 1995.1,1200.4 1996.9,1200.2 1998.7,1199.9 2000.4,1199.7 2002.2,1199.5 2004,1199.2" fill="none" stroke="#7E2F8E" stroke-width="11.5" stroke-linecap="round" stroke-linejoin="round"/>
<path d="M228.3 1592.2V1592.2M230.1 1584.4V1584.4M231.8 1576.7V1584.4M233.6 1576.7V1576.7M235.4 1568.9V1576.7M237.2 1568.9V1576.7M238.9 1561.1V1568.9M240.7 1561.1V1568.9M242.5 1553.3V1568.9M244.3 1553.3V1568.9M246.1 1553.3V1561.1M247.8 1545.5V1561.1M249.6 1545.5V1561.1M251.4 1537.8V1561.1M253.2 1537.8V1561.1M254.9 1537.8V1553.3M256.7 1530V1553.3M258.5 1530V1553.3M260.3 1530V1553.3M262.1 1530V1553.3M263.8 1522.2V1553.3M265.6 1522.2V1545.5M267.4 1522.2V1545.5M269.2 1514.4V1545.5M270.9 1514.4V1545.5M272.7 1514.4V1545.5M274.5 1514.4V1545.5M276.3 1506.6V1545.5M278 1506.6V1537.8M279.8 1506.6V1537.8M281.6 1506.6V1537.8M283.4 1498.8V1537.8M285.2 1498.8V1537.8M286.9 1498.8V1537.8M288.7 1498.8V1537.8M290.5 1491.1V1537.8M292.3 1491.1V1530M294 1491.1V1530M295.8 1491.1V1530M297.6 1483.3V1530M299.4 1483.3V1530M301.2 1483.3V1530M302.9 1483.3V1530M304.7 1483.3V1530M306.5 1475.5V1522.2M308.3 1475.5V1522.2M310 1475.5V1522.2M311.8 1475.5V1522.2M313.6 1475.5V1522.2M315.4 1467.7V1522.2M317.2 1467.7V1514.4M318.9 1467.7V1514.4M320.7 1467.7V1514.4M322.5 1467.7V1514.4M324.3 1467.7V1514.4M326 1459.9V1514.4M327.8 1459.9V1514.4M329.6 1459.9V1514.4M331.4 1459.9V1506.6M333.1 1459.9V1506.6M334.9 1452.2V1506.6M336.7 1452.2V1506.6M338.5 1452.2V1506.6M340.3 1452.2V1506.6M342 1452.2V1506.6M343.8 1452.2V1506.6M345.6 1444.4V1506.6M347.4 1444.4V1498.8M349.1 1444.4V1498.8M350.9 1444.4V1498.8M352.7 1444.4V1498.8M354.5 1436.6V1498.8M356.3 1436.6V1498.8M358 1436.6V1498.8M359.8 1436.6V1491.1M361.6 1436.6V1491.1M363.4 1436.6V1491.1M365.1 1428.8V1491.1M366.9 1428.8V1491.1M368.7 1428.8V1491.1M370.5 1428.8V1491.1M372.3 1428.8V1491.1M374 1428.8V1491.1M375.8 1421V1483.3M377.6 1421V1483.3M379.4 1421V1483.3M381.1 1421V1483.3M382.9 1421V1483.3M384.7 1413.3V1483.3M386.5 1413.3V1483.3M388.3 1413.3V1483.3M390 1413.3V1475.5M391.8 1413.3V1475.5M393.6 1413.3V1475.5M395.4 1405.5V1475.5M397.1 1405.5V1475.5M398.9 1405.5V1475.5M400.7 1405.5V1475.5M402.5 1405.5V1475.5M404.2 1405.5V1475.5M406 1405.5V1467.7M407.8 1397.7V1467.7M409.6 1397.7V1467.7M411.4 1397.7V1467.7M413.1 1397.7V1467.7M414.9 1397.7V1467.7M416.7 1397.7V1467.7M418.5 1389.9V1467.7M420.2 1389.9V1467.7M422 1389.9V1459.9M423.8 1389.9V1459.9M425.6 1389.9V1459.9M427.4 1389.9V1459.9M429.1 1389.9V1459.9M430.9 1382.1V1459.9M432.7 1382.1V1459.9M434.5 1382.1V1459.9M436.2 1382.1V1459.9M438 1382.1V1452.2M439.8 1382.1V1452.2M441.6 1382.1V1452.2M443.4 1382.1V1452.2M445.1 1374.4V1452.2M446.9 1374.4V1452.2M448.7 1374.4V1452.2M450.5 1374.4V1452.2M452.2 1374.4V1452.2M454 1366.6V1444.4M455.8 1366.6V1444.4M457.6 1366.6V1444.4M459.4 1366.6V1444.4M461.1 1366.6V1444.4M462.9 1366.6V1444.4M464.7 1366.6V1444.4M466.5 1366.6V1444.4M468.2 1358.8V1444.4M470 1358.8V1444.4M471.8 1358.8V1436.6M473.6 1358.8V1436.6M475.4 1358.8V1436.6M477.1 1358.8V1436.6M478.9 1358.8V1436.6M480.7 1351V1436.6M482.5 1351V1436.6M484.2 1351V1436.6M486 1351V1436.6M487.8 1351V1428.8M489.6 1351V1428.8M491.3 1343.2V1428.8M493.1 1343.2V1428.8M494.9 1343.2V1428.8M496.7 1343.2V1428.8M498.5 1343.2V1428.8M500.2 1343.2V1428.8M502 1343.2V1428.8M503.8 1335.4V1428.8M505.6 1335.4V1421M507.3 1335.4V1421M509.1 1335.4V1421M510.9 1335.4V1421M512.7 1335.4V1421M514.5 1327.7V1421M516.2 1327.7V1421M518 1327.7V1421M519.8 1327.7V1421M521.6 1327.7V1413.3M523.3 1327.7V1413.3M525.1 1327.7V1413.3M526.9 1327.7V1413.3M528.7 1319.9V1413.3M530.5 1319.9V1413.3M532.2 1319.9V1413.3M534 1319.9V1413.3M535.8 1319.9V1413.3M537.6 1319.9V1413.3M539.3 1319.9V1405.5M541.1 1319.9V1405.5M542.9 1319.9V1405.5M544.7 1319.9V1405.5M546.5 1312.1V1405.5M548.2 1312.1V1405.5M550 1312.1V1405.5M551.8 1312.1V1405.5M553.6 1312.1V1405.5M555.3 1304.3V1397.7M557.1 1304.3V1397.7M558.9 1304.3V1397.7M560.7 1304.3V1397.7M562.4 1304.3V1397.7M564.2 1304.3V1397.7M566 1304.3V1397.7M567.8 1304.3V1397.7M569.6 1296.5V1397.7M571.3 1296.5V1397.7M573.1 1296.5V1389.9M574.9 1296.5V1389.9M576.7 1296.5V1389.9M578.4 1296.5V1389.9M580.2 1288.8V1389.9M582 1288.8V1389.9M583.8 1288.8V1389.9M585.6 1288.8V1389.9M587.3 1288.8V1389.9M589.1 1288.8V1389.9M590.9 1288.8V1382.1M592.7 1281V1382.1M594.4 1281V1382.1M596.2 1281V1382.1M598 1281V1382.1M599.8 1281V1382.1M601.6 1281V1382.1M603.3 1281V1382.1M605.1 1281V1382.1M606.9 1281V1382.1M608.7 1273.2V1382.1M610.4 1273.2V1374.4M612.2 1273.2V1374.4M614 1273.2V1374.4M615.8 1273.2V1374.4M617.5 1273.2V1374.4M619.3 1273.2V1374.4M621.1 1273.2V1374.4M622.9 1265.4V1374.4M624.7 1265.4V1374.4M626.4 1265.4V1374.4M628.2 1265.4V1366.6M630 1265.4V1366.6M631.8 1265.4V1366.6M633.5 1265.4V1366.6M635.3 1257.6V1366.6M637.1 1257.6V1366.6M638.9 1257.6V1366.6M640.7 1257.6V1366.6M642.4 1257.6V1366.6M644.2 1257.6V1366.6M646 1257.6V1366.6M647.8 1257.6V1358.8M649.5 1257.6V1358.8M651.3 1249.9V1358.8M653.1 1249.9V1358.8M654.9 1249.9V1358.8M656.7 1249.9V1358.8M658.4 1249.9V1358.8M660.2 1249.9V1358.8M662 1249.9V1358.8M663.8 1249.9V1358.8M665.5 1242.1V1358.8M667.3 1242.1V1351M669.1 1242.1V1351M670.9 1242.1V1351M672.7 1242.1V1351M674.4 1242.1V1351M676.2 1242.1V1351M678 1242.1V1351M679.8 1242.1V1351M681.5 1234.3V1351M683.3 1234.3V1351M685.1 1234.3V1343.2M686.9 1234.3V1343.2M688.7 1234.3V1343.2M690.4 1234.3V1343.2M692.2 1234.3V1343.2M694 1234.3V1343.2M695.8 1234.3V1343.2M697.5 1234.3V1343.2M699.3 1234.3V1343.2M701.1 1234.3V1343.2M702.9 1234.3V1335.4M704.6 1234.3V1335.4M706.4 1234.3V1335.4M708.2 1234.3V1335.4M710 1226.5V1335.4M711.8 1226.5V1335.4M713.5 1226.5V1335.4M715.3 1226.5V1335.4M717.1 1226.5V1335.4M718.9 1226.5V1335.4M720.6 1226.5V1327.7M722.4 1226.5V1327.7M724.2 1218.7V1327.7M726 1218.7V1327.7M727.8 1218.7V1327.7M729.5 1218.7V1327.7M731.3 1218.7V1327.7M733.1 1218.7V1327.7M734.9 1218.7V1327.7M736.6 1218.7V1327.7M738.4 1218.7V1327.7M740.2 1218.7V1319.9M742 1211V1319.9M743.8 1211V1319.9M745.5 1211V1319.9M747.3 1211V1319.9M749.1 1211V1319.9M750.9 1211V1319.9M752.6 1211V1319.9M754.4 1211V1319.9M756.2 1211V1319.9M758 1203.2V1319.9M759.8 1203.2V1312.1M761.5 1203.2V1312.1M763.3 1203.2V1312.1M765.1 1203.2V1312.1M766.9 1203.2V1312.1M768.6 1203.2V1312.1M770.4 1195.4V1312.1M772.2 1195.4V1312.1M774 1195.4V1312.1M775.7 1195.4V1312.1M777.5 1195.4V1304.3M779.3 1195.4V1304.3M781.1 1195.4V1304.3M782.9 1195.4V1304.3M784.6 1195.4V1304.3M786.4 1195.4V1304.3M788.2 1187.6V1304.3M790 1187.6V1304.3M791.7 1187.6V1304.3M793.5 1187.6V1304.3M795.3 1187.6V1304.3M797.1 1187.6V1296.5M798.9 1187.6V1296.5M800.6 1187.6V1296.5M802.4 1187.6V1296.5M804.2 1187.6V1296.5M806 1179.8V1296.5M807.7 1179.8V1296.5M809.5 1179.8V1296.5M811.3 1179.8V1296.5M813.1 1179.8V1296.5M814.9 1179.8V1296.5M816.6 1179.8V1288.8M818.4 1172V1288.8M820.2 1172V1288.8M822 1172V1288.8M823.7 1172V1288.8M825.5 1172V1288.8M827.3 1172V1288.8M829.1 1172V1288.8M830.9 1172V1288.8M832.6 1172V1288.8M834.4 1172V1288.8M836.2 1172V1288.8M838 1172V1281M839.7 1172V1281M841.5 1164.3V1281M843.3 1164.3V1281M845.1 1164.3V1281M846.8 1164.3V1281M848.6 1164.3V1281M850.4 1164.3V1281M852.2 1164.3V1281M854 1164.3V1281M855.7 1156.5V1281M857.5 1156.5V1281M859.3 1156.5V1273.2M861.1 1156.5V1273.2M862.8 1156.5V1273.2M864.6 1156.5V1273.2M866.4 1156.5V1273.2M868.2 1156.5V1273.2M870 1156.5V1273.2M871.7 1148.7V1273.2M873.5 1148.7V1273.2M875.3 1148.7V1273.2M877.1 1148.7V1273.2M878.8 1148.7V1265.4M880.6 1148.7V1265.4M882.4 1148.7V1265.4M884.2 1140.9V1265.4M886 1140.9V1265.4M887.7 1140.9V1265.4M889.5 1140.9V1265.4M891.3 1140.9V1265.4M893.1 1140.9V1265.4M894.8 1140.9V1265.4M896.6 1140.9V1257.6M898.4 1140.9V1257.6M900.2 1133.1V1257.6M902 1133.1V1257.6M903.7 1133.1V1257.6M905.5 1133.1V1257.6M907.3 1133.1V1257.6M909.1 1133.1V1257.6M910.8 1133.1V1257.6M912.6 1133.1V1249.9M914.4 1133.1V1249.9M916.2 1125.4V1249.9M917.9 1125.4V1249.9M919.7 1125.4V1249.9M921.5 1125.4V1249.9M923.3 1125.4V1249.9M925.1 1125.4V1249.9M926.8 1125.4V1249.9M928.6 1125.4V1249.9M930.4 1125.4V1249.9M932.2 1125.4V1249.9M933.9 1125.4V1242.1M935.7 1125.4V1242.1M937.5 1117.6V1242.1M939.3 1117.6V1242.1M941.1 1117.6V1242.1M942.8 1117.6V1242.1M944.6 1117.6V1242.1M946.4 1117.6V1242.1M948.2 1117.6V1242.1M949.9 1109.8V1242.1M951.7 1109.8V1242.1M953.5 1109.8V1242.1M955.3 1109.8V1234.3M957.1 1109.8V1234.3M958.8 1109.8V1234.3M960.6 1109.8V1234.3M962.4 1109.8V1234.3M964.2 1109.8V1234.3M965.9 1109.8V1234.3M967.7 1109.8V1234.3M969.5 1102V1234.3M971.3 1102V1234.3M973.1 1102V1234.3M974.8 1102V1234.3M976.6 1102V1234.3M978.4 1102V1234.3M980.2 1102V1234.3M981.9 1102V1234.3M983.7 1102V1234.3M985.5 1102V1234.3M987.3 1102V1234.3M989 1102V1234.3M990.8 1094.2V1234.3M992.6 1094.2V1234.3M994.4 1094.2V1226.5M996.2 1094.2V1226.5M997.9 1094.2V1226.5M999.7 1094.2V1226.5M1001.5 1094.2V1226.5M1003.3 1094.2V1226.5M1005 1086.5V1226.5M1006.8 1086.5V1226.5M1008.6 1086.5V1226.5M1010.4 1086.5V1226.5M1012.2 1086.5V1226.5M1013.9 1086.5V1218.7M1015.7 1086.5V1218.7M1017.5 1086.5V1218.7M1019.3 1078.7V1218.7M1021 1078.7V1218.7M1022.8 1078.7V1218.7M1024.6 1078.7V1218.7M1026.4 1078.7V1218.7M1028.2 1078.7V1218.7M1029.9 1078.7V1218.7M1031.7 1078.7V1218.7M1033.5 1078.7V1211M1035.3 1070.9V1211M1037 1070.9V1211M1038.8 1070.9V1211M1040.6 1070.9V1211M1042.4 1070.9V1211M1044.2 1070.9V1211M1045.9 1070.9V1211M1047.7 1070.9V1211M1049.5 1070.9V1211M1051.3 1063.1V1211M1053 1063.1V1211M1054.8 1063.1V1211M1056.6 1063.1V1203.2M1058.4 1063.1V1203.2M1060.1 1063.1V1203.2M1061.9 1063.1V1203.2M1063.7 1063.1V1203.2M1065.5 1063.1V1203.2M1067.3 1063.1V1203.2M1069 1055.3V1203.2M1070.8 1055.3V1203.2M1072.6 1055.3V1203.2M1074.4 1055.3V1203.2M1076.1 1055.3V1195.4M1077.9 1055.3V1195.4M1079.7 1055.3V1195.4M1081.5 1055.3V1195.4M1083.3 1055.3V1195.4M1085 1055.3V1195.4M1086.8 1055.3V1195.4M1088.6 1055.3V1195.4M1090.4 1055.3V1195.4M1092.1 1047.5V1195.4M1093.9 1047.5V1195.4M1095.7 1047.5V1187.6M1097.5 1047.5V1187.6M1099.3 1047.5V1187.6M1101 1047.5V1187.6M1102.8 1047.5V1187.6M1104.6 1047.5V1187.6M1106.4 1047.5V1187.6M1108.1 1039.8V1187.6M1109.9 1039.8V1187.6M1111.7 1039.8V1187.6M1113.5 1039.8V1187.6M1115.2 1039.8V1187.6M1117 1032V1179.8M1118.8 1032V1179.8M1120.6 1032V1179.8M1122.4 1032V1179.8M1124.1 1032V1179.8M1125.9 1032V1179.8M1127.7 1032V1179.8M1129.5 1032V1179.8M1131.2 1032V1179.8M1133 1032V1179.8M1134.8 1032V1179.8M1136.6 1032V1179.8M1138.4 1032V1172M1140.1 1024.2V1172M1141.9 1024.2V1172M1143.7 1024.2V1172M1145.5 1024.2V1172M1147.2 1024.2V1172M1149 1024.2V1172M1150.8 1024.2V1172M1152.6 1016.4V1172M1154.4 1016.4V1172M1156.1 1016.4V1172M1157.9 1016.4V1164.3M1159.7 1016.4V1164.3M1161.5 1016.4V1164.3M1163.2 1016.4V1164.3M1165 1016.4V1164.3M1166.8 1016.4V1164.3M1168.6 1008.6V1164.3M1170.4 1008.6V1164.3M1172.1 1008.6V1164.3M1173.9 1008.6V1164.3M1175.7 1008.6V1164.3M1177.5 1008.6V1156.5M1179.2 1008.6V1156.5M1181 1008.6V1156.5M1182.8 1008.6V1156.5M1184.6 1008.6V1156.5M1186.3 1008.6V1156.5M1188.1 1008.6V1156.5M1189.9 1000.9V1156.5M1191.7 1000.9V1156.5M1193.5 1000.9V1156.5M1195.2 1000.9V1156.5M1197 1000.9V1156.5M1198.8 1000.9V1148.7M1200.6 1000.9V1148.7M1202.3 1000.9V1148.7M1204.1 993.1V1148.7M1205.9 993.1V1148.7M1207.7 993.1V1148.7M1209.5 993.1V1148.7M1211.2 993.1V1148.7M1213 993.1V1148.7M1214.8 993.1V1148.7M1216.6 993.1V1148.7M1218.3 993.1V1148.7M1220.1 993.1V1140.9M1221.9 993.1V1140.9M1223.7 985.3V1140.9M1225.5 985.3V1140.9M1227.2 985.3V1140.9M1229 985.3V1140.9M1230.8 985.3V1140.9M1232.6 985.3V1140.9M1234.3 985.3V1140.9M1236.1 985.3V1140.9M1237.9 985.3V1140.9M1239.7 985.3V1140.9M1241.5 985.3V1133.1M1243.2 977.5V1133.1M1245 977.5V1133.1M1246.8 977.5V1133.1M1248.6 977.5V1133.1M1250.3 977.5V1133.1M1252.1 977.5V1133.1M1253.9 977.5V1133.1M1255.7 977.5V1133.1M1257.5 977.5V1133.1M1259.2 969.7V1133.1M1261 969.7V1133.1M1262.8 969.7V1125.4M1264.6 969.7V1125.4M1266.3 969.7V1125.4M1268.1 969.7V1125.4M1269.9 969.7V1125.4M1271.7 969.7V1125.4M1273.4 962V1125.4M1275.2 962V1125.4M1277 962V1125.4M1278.8 962V1125.4M1280.6 962V1125.4M1282.3 962V1117.6M1284.1 962V1117.6M1285.9 962V1117.6M1287.7 962V1117.6M1289.4 962V1117.6M1291.2 954.2V1117.6M1293 954.2V1117.6M1294.8 954.2V1117.6M1296.6 954.2V1117.6M1298.3 954.2V1117.6M1300.1 954.2V1117.6M1301.9 954.2V1117.6M1303.7 954.2V1109.8M1305.4 954.2V1109.8M1307.2 954.2V1109.8M1309 954.2V1109.8M1310.8 954.2V1109.8M1312.6 954.2V1109.8M1314.3 946.4V1109.8M1316.1 946.4V1109.8M1317.9 946.4V1109.8M1319.7 946.4V1109.8M1321.4 946.4V1109.8M1323.2 946.4V1109.8M1325 946.4V1102M1326.8 946.4V1102M1328.5 946.4V1102M1330.3 946.4V1102M1332.1 946.4V1102M1333.9 946.4V1102M1335.7 938.6V1102M1337.4 938.6V1102M1339.2 938.6V1102M1341 938.6V1102M1342.8 938.6V1102M1344.5 938.6V1102M1346.3 938.6V1102M1348.1 930.8V1102M1349.9 930.8V1094.2M1351.7 930.8V1094.2M1353.4 930.8V1094.2M1355.2 930.8V1094.2M1357 930.8V1094.2M1358.8 930.8V1094.2M1360.5 930.8V1094.2M1362.3 930.8V1094.2M1364.1 923.1V1094.2M1365.9 923.1V1094.2M1367.7 923.1V1094.2M1369.4 923.1V1086.5M1371.2 923.1V1086.5M1373 923.1V1086.5M1374.8 923.1V1086.5M1376.5 923.1V1086.5M1378.3 923.1V1086.5M1380.1 915.3V1086.5M1381.9 915.3V1086.5M1383.7 915.3V1086.5M1385.4 915.3V1086.5M1387.2 915.3V1086.5M1389 915.3V1086.5M1390.8 907.5V1086.5M1392.5 907.5V1078.7M1394.3 907.5V1078.7M1396.1 907.5V1078.7M1397.9 907.5V1078.7M1399.7 907.5V1078.7M1401.4 907.5V1078.7M1403.2 907.5V1078.7M1405 907.5V1078.7M1406.8 899.7V1078.7M1408.5 899.7V1078.7M1410.3 899.7V1070.9M1412.1 899.7V1070.9M1413.9 899.7V1070.9M1415.6 899.7V1070.9M1417.4 899.7V1070.9M1419.2 899.7V1070.9M1421 899.7V1070.9M1422.8 899.7V1070.9M1424.5 899.7V1070.9M1426.3 899.7V1070.9M1428.1 891.9V1070.9M1429.9 891.9V1070.9M1431.6 891.9V1070.9M1433.4 891.9V1070.9M1435.2 891.9V1063.1M1437 891.9V1063.1M1438.8 891.9V1063.1M1440.5 891.9V1063.1M1442.3 891.9V1063.1M1444.1 891.9V1063.1M1445.9 891.9V1063.1M1447.6 891.9V1063.1M1449.4 891.9V1063.1M1451.2 891.9V1063.1M1453 891.9V1063.1M1454.8 891.9V1063.1M1456.5 891.9V1055.3M1458.3 884.1V1055.3M1460.1 884.1V1055.3M1461.9 884.1V1055.3M1463.6 884.1V1055.3M1465.4 884.1V1055.3M1467.2 884.1V1055.3M1469 884.1V1055.3M1470.8 884.1V1055.3M1472.5 884.1V1055.3M1474.3 884.1V1055.3M1476.1 884.1V1047.5M1477.9 884.1V1047.5M1479.6 884.1V1047.5M1481.4 876.4V1047.5M1483.2 876.4V1047.5M1485 876.4V1047.5M1486.7 876.4V1047.5M1488.5 876.4V1047.5M1490.3 876.4V1047.5M1492.1 876.4V1047.5M1493.9 876.4V1047.5M1495.6 876.4V1047.5M1497.4 876.4V1039.8M1499.2 876.4V1039.8M1501 868.6V1039.8M1502.7 868.6V1039.8M1504.5 868.6V1039.8M1506.3 868.6V1039.8M1508.1 868.6V1039.8M1509.9 868.6V1039.8M1511.6 868.6V1039.8M1513.4 868.6V1039.8M1515.2 868.6V1039.8M1517 868.6V1039.8M1518.7 868.6V1039.8M1520.5 868.6V1039.8M1522.3 868.6V1032M1524.1 860.8V1032M1525.9 860.8V1032M1527.6 860.8V1032M1529.4 860.8V1032M1531.2 860.8V1032M1533 860.8V1032M1534.7 853V1032M1536.5 853V1032M1538.3 853V1032M1540.1 853V1032M1541.9 853V1024.2M1543.6 853V1024.2M1545.4 853V1024.2M1547.2 853V1024.2M1549 853V1024.2M1550.7 853V1024.2M1552.5 853V1024.2M1554.3 845.2V1024.2M1556.1 845.2V1024.2M1557.8 845.2V1024.2M1559.6 845.2V1024.2M1561.4 845.2V1016.4M1563.2 845.2V1016.4M1565 845.2V1016.4M1566.7 845.2V1016.4M1568.5 845.2V1016.4M1570.3 845.2V1016.4M1572.1 845.2V1016.4M1573.8 845.2V1016.4M1575.6 837.5V1016.4M1577.4 837.5V1016.4M1579.2 837.5V1016.4M1581 837.5V1016.4M1582.7 837.5V1016.4M1584.5 837.5V1008.6M1586.3 837.5V1008.6M1588.1 837.5V1008.6M1589.8 837.5V1008.6M1591.6 837.5V1008.6M1593.4 837.5V1008.6M1595.2 837.5V1008.6M1597 837.5V1008.6M1598.7 837.5V1008.6M1600.5 829.7V1008.6M1602.3 829.7V1008.6M1604.1 829.7V1008.6M1605.8 829.7V1008.6M1607.6 829.7V1000.9M1609.4 829.7V1000.9M1611.2 829.7V1000.9M1613 829.7V1000.9M1614.7 829.7V1000.9M1616.5 829.7V1000.9M1618.3 821.9V1000.9M1620.1 821.9V1000.9M1621.8 821.9V1000.9M1623.6 821.9V1000.9M1625.4 821.9V1000.9M1627.2 821.9V1000.9M1628.9 821.9V993.1M1630.7 821.9V993.1M1632.5 821.9V993.1M1634.3 821.9V993.1M1636.1 821.9V993.1M1637.8 821.9V993.1M1639.6 814.1V993.1M1641.4 814.1V993.1M1643.2 814.1V993.1M1644.9 814.1V993.1M1646.7 814.1V993.1M1648.5 814.1V993.1M1650.3 814.1V985.3M1652.1 814.1V985.3M1653.8 814.1V985.3M1655.6 814.1V985.3M1657.4 814.1V985.3M1659.2 814.1V985.3M1660.9 814.1V985.3M1662.7 814.1V985.3M1664.5 814.1V985.3M1666.3 806.3V985.3M1668.1 806.3V985.3M1669.8 806.3V985.3M1671.6 806.3V985.3M1673.4 806.3V977.5M1675.2 806.3V977.5M1676.9 806.3V977.5M1678.7 806.3V977.5M1680.5 806.3V977.5M1682.3 806.3V977.5M1684 798.6V977.5M1685.8 798.6V977.5M1687.6 798.6V977.5M1689.4 798.6V977.5M1691.2 798.6V977.5M1692.9 798.6V977.5M1694.7 798.6V977.5M1696.5 798.6V969.7M1698.3 798.6V969.7M1700 798.6V969.7M1701.8 798.6V969.7M1703.6 798.6V969.7M1705.4 790.8V969.7M1707.2 790.8V969.7M1708.9 790.8V969.7M1710.7 790.8V969.7M1712.5 790.8V969.7M1714.3 790.8V969.7M1716 790.8V969.7M1717.8 790.8V969.7M1719.6 790.8V969.7M1721.4 783V962M1723.2 783V962M1724.9 783V962M1726.7 783V962M1728.5 783V962M1730.3 783V962M1732 783V962M1733.8 783V962M1735.6 783V962M1737.4 783V962M1739.2 783V962M1740.9 783V962M1742.7 783V954.2M1744.5 783V954.2M1746.3 783V954.2M1748 775.2V954.2M1749.8 775.2V954.2M1751.6 775.2V954.2M1753.4 775.2V954.2M1755.2 775.2V954.2M1756.9 775.2V954.2M1758.7 775.2V954.2M1760.5 775.2V954.2M1762.3 767.4V954.2M1764 767.4V954.2M1765.8 767.4V946.4M1767.6 767.4V946.4M1769.4 767.4V946.4M1771.1 767.4V946.4M1772.9 767.4V946.4M1774.7 767.4V946.4M1776.5 767.4V946.4M1778.3 767.4V946.4M1780 767.4V946.4M1781.8 759.7V946.4M1783.6 759.7V946.4M1785.4 759.7V946.4M1787.1 759.7V946.4M1788.9 759.7V946.4M1790.7 759.7V938.6M1792.5 759.7V938.6M1794.3 759.7V938.6M1796 759.7V938.6M1797.8 759.7V938.6M1799.6 759.7V938.6M1801.4 759.7V938.6M1803.1 759.7V938.6M1804.9 751.9V938.6M1806.7 751.9V938.6M1808.5 751.9V938.6M1810.3 751.9V938.6M1812 751.9V938.6M1813.8 751.9V938.6M1815.6 751.9V938.6M1817.4 751.9V938.6M1819.1 751.9V930.8M1820.9 751.9V930.8M1822.7 751.9V930.8M1824.5 744.1V930.8M1826.2 744.1V930.8M1828 744.1V930.8M1829.8 744.1V930.8M1831.6 744.1V930.8M1833.4 744.1V930.8M1835.1 744.1V930.8M1836.9 744.1V930.8M1838.7 744.1V930.8M1840.5 744.1V930.8M1842.2 744.1V930.8M1844 744.1V930.8M1845.8 744.1V923.1M1847.6 744.1V923.1M1849.4 736.3V923.1M1851.1 736.3V923.1M1852.9 736.3V923.1M1854.7 736.3V923.1M1856.5 736.3V923.1M1858.2 736.3V923.1M1860 736.3V923.1M1861.8 736.3V923.1M1863.6 736.3V923.1M1865.4 736.3V923.1M1867.1 736.3V923.1M1868.9 736.3V923.1M1870.7 736.3V923.1M1872.5 736.3V915.3M1874.2 736.3V915.3M1876 736.3V915.3M1877.8 728.5V915.3M1879.6 728.5V915.3M1881.4 728.5V915.3M1883.1 728.5V915.3M1884.9 728.5V915.3M1886.7 728.5V915.3M1888.5 728.5V915.3M1890.2 728.5V915.3M1892 728.5V915.3M1893.8 728.5V915.3M1895.6 728.5V907.5M1897.4 728.5V907.5M1899.1 720.7V907.5M1900.9 720.7V907.5M1902.7 720.7V907.5M1904.5 720.7V907.5M1906.2 720.7V907.5M1908 720.7V907.5M1909.8 720.7V907.5M1911.6 713V907.5M1913.3 713V907.5M1915.1 713V907.5M1916.9 713V907.5M1918.7 713V907.5M1920.5 713V899.7M1922.2 713V899.7M1924 713V899.7M1925.8 713V899.7M1927.6 713V899.7M1929.3 713V899.7M1931.1 713V899.7M1932.9 713V899.7M1934.7 713V899.7M1936.5 713V899.7M1938.2 713V899.7M1940 713V899.7M1941.8 713V899.7M1943.6 713V891.9M1945.3 705.2V891.9M1947.1 705.2V891.9M1948.9 705.2V891.9M1950.7 705.2V891.9M1952.5 705.2V891.9M1954.2 705.2V891.9M1956 705.2V891.9M1957.8 705.2V891.9M1959.6 705.2V891.9M1961.3 705.2V891.9M1963.1 705.2V891.9M1964.9 697.4V891.9M1966.7 697.4V891.9M1968.5 697.4V891.9M1970.2 697.4V891.9M1972 697.4V884.1M1973.8 697.4V884.1M1975.6 697.4V884.1M1977.3 697.4V884.1M1979.1 697.4V884.1M1980.9 697.4V884.1M1982.7 697.4V884.1M1984.4 697.4V884.1M1986.2 689.6V884.1M1988 689.6V884.1M1989.8 689.6V884.1M1991.6 689.6V884.1M1993.3 689.6V884.1M1995.1 689.6V884.1M1996.9 689.6V876.4M1998.7 689.6V876.4M2000.4 689.6V876.4M2002.2 689.6V876.4M2004 689.6V876.4" stroke="#77AC30" stroke-width="1" fill="none" shape-rendering="crispEdges"/><path d="M211.8 1592.2H244.8M213.6 1584.4H248.3M217.1 1576.7H253.7M222.4 1568.9H260.8M229.6 1561.1H269.7M238.4 1553.3H280.3M249.1 1545.5H292.8M261.5 1537.8H307M275.8 1530H321.2M290 1522.2H331.9M300.7 1514.4H346.1M314.9 1506.6H362.1M330.9 1498.8H374.5M343.3 1491.1H390.5M359.3 1483.3H404.8M373.5 1475.5H420.8M389.5 1467.7H436.7M405.5 1459.9H452.7M421.5 1452.2H468.7M437.5 1444.4H486.5M455.3 1436.6H502.5M471.3 1428.8H520.3M489.1 1421H536.3M505.1 1413.3H554.1M522.8 1405.5H570.1M538.8 1397.7H587.8M556.6 1389.9H605.6M574.4 1382.1H625.2M593.9 1374.4H642.9M611.7 1366.6H662.5M631.3 1358.8H682M650.8 1351H699.8M668.6 1343.2H717.6M686.4 1335.4H735.4M704.1 1327.7H754.9M723.7 1319.9H774.5M743.2 1312.1H792.2M761 1304.3H811.8M780.6 1296.5H831.4M800.1 1288.8H852.7M821.5 1281H874M842.8 1273.2H893.6M862.3 1265.4H911.3M880.1 1257.6H927.3M896.1 1249.9H948.7M917.4 1242.1H970M938.8 1234.3H1009.1M977.9 1226.5H1028.7M997.4 1218.7H1048.2M1017 1211H1071.3M1040.1 1203.2H1090.9M1059.6 1195.4H1110.4M1079.2 1187.6H1131.8M1100.5 1179.8H1153.1M1121.9 1172H1172.6M1141.4 1164.3H1192.2M1161 1156.5H1213.5M1182.3 1148.7H1234.8M1203.6 1140.9H1256.2M1225 1133.1H1277.5M1246.3 1125.4H1297.1M1265.8 1117.6H1318.4M1287.2 1109.8H1339.7M1308.5 1102H1364.6M1333.4 1094.2H1384.2M1352.9 1086.5H1407.3M1376 1078.7H1425M1393.8 1070.9H1449.9M1418.7 1063.1H1471.3M1440 1055.3H1490.8M1459.6 1047.5H1512.1M1480.9 1039.8H1537M1505.8 1032H1556.6M1525.4 1024.2H1576.1M1544.9 1016.4H1599.2M1568 1008.6H1622.3M1591.1 1000.9H1643.7M1612.4 993.1H1665M1633.8 985.3H1688.1M1656.9 977.5H1711.2M1680 969.7H1736.1M1704.9 962H1757.4M1726.2 954.2H1780.5M1749.3 946.4H1805.4M1774.2 938.6H1833.9M1802.6 930.8H1860.5M1829.3 923.1H1887.2M1856 915.3H1910.3M1879.1 907.5H1935.2M1904 899.7H1958.3M1927.1 891.9H1986.7M1955.5 884.1H2011.6M1980.4 876.4H2020.5M211.8 1592.2H244.8M213.6 1584.4H246.6M215.3 1576.7H250.1M218.9 1568.9H253.7M222.4 1561.1H257.2M226 1553.3H262.6M231.3 1545.5H266.1M234.9 1537.8H271.4M240.2 1530H278.6M247.3 1522.2H283.9M252.7 1514.4H291M259.8 1506.6H298.1M266.9 1498.8H305.2M274 1491.1H312.3M281.1 1483.3H321.2M290 1475.5H330.1M298.9 1467.7H340.8M309.5 1459.9H349.6M318.4 1452.2H360.3M329.1 1444.4H369.2M338 1436.6H379.9M348.6 1428.8H390.5M359.3 1421H399.4M368.2 1413.3H410.1M378.9 1405.5H422.5M391.3 1397.7H433.2M402 1389.9H445.6M414.4 1382.1H459.9M428.6 1374.4H468.7M437.5 1366.6H483M451.7 1358.8H495.4M464.2 1351H506.1M474.8 1343.2H518.5M487.3 1335.4H529.2M498 1327.7H543.4M512.2 1319.9H561.2M530 1312.1H570.1M538.8 1304.3H584.3M553.1 1296.5H594.9M563.7 1288.8H607.4M576.2 1281H623.4M592.2 1273.2H637.6M606.4 1265.4H650M618.8 1257.6H666M634.8 1249.9H680.3M649 1242.1H696.3M665 1234.3H724.7M693.5 1226.5H738.9M707.7 1218.7H756.7M725.5 1211H772.7M741.5 1203.2H785.1M753.9 1195.4H802.9M771.7 1187.6H820.7M789.5 1179.8H833.1M801.9 1172H856.2M825 1164.3H870.5M839.2 1156.5H886.5M855.2 1148.7H898.9M867.7 1140.9H914.9M883.7 1133.1H930.9M899.7 1125.4H952.2M921 1117.6H964.7M933.4 1109.8H984.2M953 1102H1005.5M974.3 1094.2H1019.8M988.5 1086.5H1034M1002.8 1078.7H1050M1018.8 1070.9H1066M1034.8 1063.1H1083.8M1052.5 1055.3H1106.9M1075.6 1047.5H1122.9M1091.6 1039.8H1131.8M1100.5 1032H1154.9M1123.6 1024.2H1167.3M1136.1 1016.4H1183.3M1152.1 1008.6H1204.6M1173.4 1000.9H1218.8M1187.6 993.1H1238.4M1207.2 985.3H1258M1226.7 977.5H1274M1242.7 969.7H1288.2M1256.9 962H1305.9M1274.7 954.2H1329.1M1297.8 946.4H1350.4M1319.2 938.6H1362.8M1331.6 930.8H1378.8M1347.6 923.1H1394.8M1363.6 915.3H1405.5M1374.3 907.5H1421.5M1390.3 899.7H1442.8M1411.6 891.9H1473M1441.8 884.1H1496.1M1464.9 876.4H1515.7M1484.5 868.6H1538.8M1507.6 860.8H1549.5M1518.2 853H1569M1537.8 845.2H1590.3M1559.1 837.5H1615.2M1584 829.7H1633M1601.8 821.9H1654.3M1623.1 814.1H1681M1649.8 806.3H1698.8M1667.5 798.6H1720.1M1688.9 790.8H1736.1M1704.9 783H1762.8M1731.5 775.2H1777M1745.8 767.4H1796.5M1765.3 759.7H1819.6M1788.4 751.9H1839.2M1808 744.1H1864.1M1832.9 736.3H1892.5M1861.3 728.5H1913.9M1882.6 720.7H1926.3M1895.1 713H1960.1M1928.8 705.2H1979.6M1948.4 697.4H2000.9M1969.7 689.6H2020.5" stroke="#77AC30" stroke-width="2" fill="none" shape-rendering="crispEdges"/><polyline points="228.3,1592.3 230.1,1584.6 231.8,1583.2 233.6,1576.9 235.4,1574.9 237.2,1573.9 238.9,1568.4 240.7,1566.6 242.5,1565.1 244.3,1563.2 246.1,1559.9 247.8,1557.6 249.6,1556.1 251.4,1554.2 253.2,1553.1 254.9,1550.1 256.7,1548.2 258.5,1546.9 260.3,1544.8 262.1,1543.5 263.8,1541.9 265.6,1539.8 267.4,1538.3 269.2,1536.8 270.9,1534.9 272.7,1533.6 274.5,1532.1 276.3,1530.6 278,1529.1 279.8,1527.5 281.6,1526.1 283.4,1524.5 285.2,1523.3 286.9,1521.7 288.7,1520.3 290.5,1519.1 292.3,1517.6 294,1516.2 295.8,1514.8 297.6,1513.5 299.4,1512.2 301.2,1510.9 302.9,1509.5 304.7,1508.3 306.5,1507 308.3,1505.6 310,1504.3 311.8,1503.1 313.6,1501.7 315.4,1500.6 317.2,1499.3 318.9,1498 320.7,1496.9 322.5,1495.7 324.3,1494.5 326,1493.2 327.8,1492 329.6,1490.8 331.4,1489.6 333.1,1488.4 334.9,1487.2 336.7,1486.1 338.5,1484.9 340.3,1483.7 342,1482.5 343.8,1481.3 345.6,1480.2 347.4,1479.1 349.1,1478 350.9,1476.8 352.7,1475.8 354.5,1474.6 356.3,1473.4 358,1472.3 359.8,1471.2 361.6,1470 363.4,1469 365.1,1467.9 366.9,1466.7 368.7,1465.6 370.5,1464.5 372.3,1463.4 374,1462.4 375.8,1461.4 377.6,1460.2 379.4,1459.1 381.1,1458 382.9,1456.9 384.7,1455.9 386.5,1454.8 388.3,1453.7 390,1452.7 391.8,1451.7 393.6,1450.7 395.4,1449.7 397.1,1448.6 398.9,1447.5 400.7,1446.5 402.5,1445.5 404.2,1444.5 406,1443.4 407.8,1442.4 409.6,1441.4 411.4,1440.3 413.1,1439.4 414.9,1438.3 416.7,1437.3 418.5,1436.3 420.2,1435.3 422,1434.3 423.8,1433.2 425.6,1432.2 427.4,1431.2 429.1,1430.2 430.9,1429.2 432.7,1428.2 434.5,1427.2 436.2,1426.2 438,1425.3 439.8,1424.3 441.6,1423.3 443.4,1422.4 445.1,1421.3 446.9,1420.4 448.7,1419.4 450.5,1418.4 452.2,1417.4 454,1416.5 455.8,1415.5 457.6,1414.6 459.4,1413.6 461.1,1412.7 462.9,1411.7 464.7,1410.7 466.5,1409.8 468.2,1408.8 470,1407.9 471.8,1406.9 473.6,1406 475.4,1405.1 477.1,1404.2 478.9,1403.2 480.7,1402.2 482.5,1401.3 484.2,1400.4 486,1399.4 487.8,1398.5 489.6,1397.6 491.3,1396.6 493.1,1395.7 494.9,1394.8 496.7,1393.8 498.5,1392.9 500.2,1391.9 502,1391 503.8,1390.1 505.6,1389.2 507.3,1388.2 509.1,1387.3 510.9,1386.4 512.7,1385.5 514.5,1384.6 516.2,1383.7 518,1382.8 519.8,1381.9 521.6,1381 523.3,1380 525.1,1379.1 526.9,1378.2 528.7,1377.3 530.5,1376.4 532.2,1375.5 534,1374.6 535.8,1373.7 537.6,1372.8 539.3,1371.9 541.1,1371.1 542.9,1370.2 544.7,1369.3 546.5,1368.4 548.2,1367.6 550,1366.7 551.8,1365.8 553.6,1364.9 555.3,1364 557.1,1363.1 558.9,1362.2 560.7,1361.3 562.4,1360.4 564.2,1359.6 566,1358.7 567.8,1357.8 569.6,1356.9 571.3,1356 573.1,1355.1 574.9,1354.3 576.7,1353.4 578.4,1352.5 580.2,1351.6 582,1350.7 583.8,1349.9 585.6,1349 587.3,1348.1 589.1,1347.3 590.9,1346.4 592.7,1345.5 594.4,1344.7 596.2,1343.8 598,1343 599.8,1342.1 601.6,1341.2 603.3,1340.4 605.1,1339.5 606.9,1338.7 608.7,1337.8 610.4,1337 612.2,1336.1 614,1335.2 615.8,1334.4 617.5,1333.5 619.3,1332.7 621.1,1331.9 622.9,1331 624.7,1330.2 626.4,1329.3 628.2,1328.4 630,1327.5 631.8,1326.7 633.5,1325.9 635.3,1325.1 637.1,1324.3 638.9,1323.4 640.7,1322.6 642.4,1321.7 644.2,1320.9 646,1320.1 647.8,1319.2 649.5,1318.4 651.3,1317.5 653.1,1316.7 654.9,1315.9 656.7,1315 658.4,1314.2 660.2,1313.4 662,1312.6 663.8,1311.7 665.5,1310.9 667.3,1310.1 669.1,1309.2 670.9,1308.4 672.7,1307.6 674.4,1306.8 676.2,1305.9 678,1305.1 679.8,1304.3 681.5,1303.5 683.3,1302.7 685.1,1301.8 686.9,1301 688.7,1300.2 690.4,1299.3 692.2,1298.5 694,1297.7 695.8,1296.9 697.5,1296 699.3,1295.3 701.1,1294.5 702.9,1293.7 704.6,1292.8 706.4,1292 708.2,1291.2 710,1290.4 711.8,1289.6 713.5,1288.8 715.3,1288 717.1,1287.1 718.9,1286.3 720.6,1285.5 722.4,1284.7 724.2,1283.9 726,1283.1 727.8,1282.3 729.5,1281.5 731.3,1280.7 733.1,1279.9 734.9,1279.1 736.6,1278.3 738.4,1277.5 740.2,1276.7 742,1275.8 743.8,1275.1 745.5,1274.3 747.3,1273.5 749.1,1272.7 750.9,1271.9 752.6,1271.1 754.4,1270.3 756.2,1269.5 758,1268.7 759.8,1267.9 761.5,1267.1 763.3,1266.3 765.1,1265.5 766.9,1264.8 768.6,1264 770.4,1263.2 772.2,1262.4 774,1261.6 775.7,1260.8 777.5,1260 779.3,1259.2 781.1,1258.4 782.9,1257.6 784.6,1256.8 786.4,1256 788.2,1255.2 790,1254.4 791.7,1253.6 793.5,1252.8 795.3,1252.1 797.1,1251.3 798.9,1250.5 800.6,1249.7 802.4,1249 804.2,1248.2 806,1247.4 807.7,1246.6 809.5,1245.8 811.3,1245 813.1,1244.2 814.9,1243.5 816.6,1242.7 818.4,1241.9 820.2,1241.2 822,1240.4 823.7,1239.7 825.5,1238.9 827.3,1238.1 829.1,1237.3 830.9,1236.6 832.6,1235.8 834.4,1235 836.2,1234.2 838,1233.4 839.7,1232.7 841.5,1231.9 843.3,1231.2 845.1,1230.4 846.8,1229.7 848.6,1228.9 850.4,1228.1 852.2,1227.4 854,1226.6 855.7,1225.8 857.5,1225.1 859.3,1224.3 861.1,1223.5 862.8,1222.7 864.6,1222 866.4,1221.2 868.2,1220.4 870,1219.7 871.7,1218.9 873.5,1218.2 875.3,1217.4 877.1,1216.6 878.8,1215.9 880.6,1215.1 882.4,1214.3 884.2,1213.5 886,1212.8 887.7,1212.1 889.5,1211.4 891.3,1210.6 893.1,1209.8 894.8,1209.1 896.6,1208.3 898.4,1207.5 900.2,1206.7 902,1205.9 903.7,1205.2 905.5,1204.4 907.3,1203.7 909.1,1202.9 910.8,1202.1 912.6,1201.4 914.4,1200.7 916.2,1199.9 917.9,1199.2 919.7,1198.4 921.5,1197.7 923.3,1196.9 925.1,1196.2 926.8,1195.4 928.6,1194.7 930.4,1194 932.2,1193.2 933.9,1192.5 935.7,1191.7 937.5,1190.9 939.3,1190.3 941.1,1189.5 942.8,1188.8 944.6,1188 946.4,1187.2 948.2,1186.5 949.9,1185.8 951.7,1185 953.5,1184.3 955.3,1183.5 957.1,1182.8 958.8,1182.1 960.6,1181.3 962.4,1180.6 964.2,1179.8 965.9,1179.1 967.7,1178.4 969.5,1177.6 971.3,1176.9 973.1,1176.1 974.8,1175.4 976.6,1174.6 978.4,1173.9 980.2,1173.2 981.9,1172.4 983.7,1171.7 985.5,1170.9 987.3,1170.2 989,1169.5 990.8,1168.8 992.6,1168 994.4,1167.2 996.2,1166.5 997.9,1165.8 999.7,1165 1001.5,1164.3 1003.3,1163.6 1005,1162.8 1006.8,1162 1008.6,1161.3 1010.4,1160.6 1012.2,1159.9 1013.9,1159.2 1015.7,1158.4 1017.5,1157.7 1019.3,1157 1021,1156.3 1022.8,1155.5 1024.6,1154.8 1026.4,1154 1028.2,1153.3 1029.9,1152.6 1031.7,1151.8 1033.5,1151.1 1035.3,1150.4 1037,1149.7 1038.8,1149 1040.6,1148.2 1042.4,1147.5 1044.2,1146.7 1045.9,1146 1047.7,1145.3 1049.5,1144.6 1051.3,1143.8 1053,1143.1 1054.8,1142.4 1056.6,1141.6 1058.4,1140.9 1060.1,1140.1 1061.9,1139.4 1063.7,1138.8 1065.5,1138.1 1067.3,1137.3 1069,1136.6 1070.8,1135.9 1072.6,1135.2 1074.4,1134.4 1076.1,1133.7 1077.9,1133 1079.7,1132.3 1081.5,1131.6 1083.3,1130.9 1085,1130.1 1086.8,1129.4 1088.6,1128.7 1090.4,1127.9 1092.1,1127.2 1093.9,1126.5 1095.7,1125.8 1097.5,1125.1 1099.3,1124.4 1101,1123.7 1102.8,1122.9 1104.6,1122.2 1106.4,1121.5 1108.1,1120.8 1109.9,1120 1111.7,1119.3 1113.5,1118.6 1115.2,1117.9 1117,1117.2 1118.8,1116.4 1120.6,1115.7 1122.4,1115 1124.1,1114.3 1125.9,1113.6 1127.7,1112.9 1129.5,1112.2 1131.2,1111.5 1133,1110.8 1134.8,1110 1136.6,1109.3 1138.4,1108.6 1140.1,1107.9 1141.9,1107.2 1143.7,1106.5 1145.5,1105.7 1147.2,1105 1149,1104.2 1150.8,1103.5 1152.6,1102.9 1154.4,1102.2 1156.1,1101.5 1157.9,1100.8 1159.7,1100.1 1161.5,1099.4 1163.2,1098.7 1165,1098 1166.8,1097.3 1168.6,1096.6 1170.4,1095.9 1172.1,1095.2 1173.9,1094.5 1175.7,1093.8 1177.5,1093.1 1179.2,1092.4 1181,1091.7 1182.8,1091 1184.6,1090.3 1186.3,1089.6 1188.1,1088.8 1189.9,1088.1 1191.7,1087.4 1193.5,1086.7 1195.2,1086 1197,1085.3 1198.8,1084.6 1200.6,1083.9 1202.3,1083.2 1204.1,1082.5 1205.9,1081.8 1207.7,1081 1209.5,1080.3 1211.2,1079.7 1213,1079 1214.8,1078.3 1216.6,1077.6 1218.3,1076.9 1220.1,1076.2 1221.9,1075.5 1223.7,1074.8 1225.5,1074.1 1227.2,1073.4 1229,1072.8 1230.8,1072 1232.6,1071.4 1234.3,1070.7 1236.1,1070 1237.9,1069.3 1239.7,1068.6 1241.5,1067.8 1243.2,1067.1 1245,1066.4 1246.8,1065.7 1248.6,1065.1 1250.3,1064.4 1252.1,1063.7 1253.9,1063 1255.7,1062.3 1257.5,1061.6 1259.2,1060.9 1261,1060.2 1262.8,1059.5 1264.6,1058.9 1266.3,1058.1 1268.1,1057.4 1269.9,1056.7 1271.7,1056 1273.4,1055.3 1275.2,1054.7 1277,1054 1278.8,1053.3 1280.6,1052.6 1282.3,1051.9 1284.1,1051.2 1285.9,1050.5 1287.7,1049.9 1289.4,1049.2 1291.2,1048.5 1293,1047.8 1294.8,1047.1 1296.6,1046.4 1298.3,1045.8 1300.1,1045.1 1301.9,1044.4 1303.7,1043.7 1305.4,1043 1307.2,1042.3 1309,1041.6 1310.8,1041 1312.6,1040.3 1314.3,1039.6 1316.1,1038.9 1317.9,1038.2 1319.7,1037.6 1321.4,1036.9 1323.2,1036.2 1325,1035.5 1326.8,1034.8 1328.5,1034.1 1330.3,1033.4 1332.1,1032.8 1333.9,1032.1 1335.7,1031.4 1337.4,1030.7 1339.2,1030 1341,1029.3 1342.8,1028.6 1344.5,1027.9 1346.3,1027.3 1348.1,1026.6 1349.9,1025.9 1351.7,1025.2 1353.4,1024.6 1355.2,1023.9 1357,1023.2 1358.8,1022.5 1360.5,1021.8 1362.3,1021.2 1364.1,1020.5 1365.9,1019.8 1367.7,1019.1 1369.4,1018.4 1371.2,1017.7 1373,1017 1374.8,1016.4 1376.5,1015.7 1378.3,1015 1380.1,1014.3 1381.9,1013.6 1383.7,1012.9 1385.4,1012.3 1387.2,1011.6 1389,1011 1390.8,1010.3 1392.5,1009.6 1394.3,1008.9 1396.1,1008.3 1397.9,1007.6 1399.7,1006.9 1401.4,1006.2 1403.2,1005.5 1405,1004.9 1406.8,1004.2 1408.5,1003.5 1410.3,1002.8 1412.1,1002.1 1413.9,1001.4 1415.6,1000.8 1417.4,1000.1 1419.2,999.4 1421,998.8 1422.8,998.1 1424.5,997.5 1426.3,996.8 1428.1,996.1 1429.9,995.5 1431.6,994.8 1433.4,994.1 1435.2,993.4 1437,992.7 1438.8,992 1440.5,991.4 1442.3,990.7 1444.1,990.1 1445.9,989.4 1447.6,988.7 1449.4,988.1 1451.2,987.4 1453,986.7 1454.8,986 1456.5,985.4 1458.3,984.7 1460.1,984 1461.9,983.3 1463.6,982.7 1465.4,982 1467.2,981.3 1469,980.7 1470.8,980 1472.5,979.3 1474.3,978.7 1476.1,978 1477.9,977.3 1479.6,976.7 1481.4,976 1483.2,975.4 1485,974.7 1486.7,974 1488.5,973.3 1490.3,972.7 1492.1,972 1493.9,971.3 1495.6,970.7 1497.4,970 1499.2,969.3 1501,968.7 1502.7,968 1504.5,967.4 1506.3,966.7 1508.1,966 1509.9,965.3 1511.6,964.7 1513.4,964 1515.2,963.4 1517,962.7 1518.7,962 1520.5,961.4 1522.3,960.7 1524.1,960.1 1525.9,959.4 1527.6,958.7 1529.4,958 1531.2,957.4 1533,956.7 1534.7,956.1 1536.5,955.4 1538.3,954.7 1540.1,954 1541.9,953.4 1543.6,952.7 1545.4,952.1 1547.2,951.4 1549,950.7 1550.7,950.1 1552.5,949.4 1554.3,948.8 1556.1,948.1 1557.8,947.4 1559.6,946.8 1561.4,946.1 1563.2,945.5 1565,944.8 1566.7,944.2 1568.5,943.5 1570.3,942.8 1572.1,942.2 1573.8,941.5 1575.6,940.9 1577.4,940.2 1579.2,939.5 1581,938.9 1582.7,938.2 1584.5,937.5 1586.3,936.9 1588.1,936.3 1589.8,935.6 1591.6,934.9 1593.4,934.3 1595.2,933.6 1597,932.9 1598.7,932.3 1600.5,931.6 1602.3,931 1604.1,930.4 1605.8,929.7 1607.6,929.1 1609.4,928.4 1611.2,927.7 1613,927.1 1614.7,926.4 1616.5,925.7 1618.3,925.1 1620.1,924.5 1621.8,923.8 1623.6,923.2 1625.4,922.5 1627.2,921.9 1628.9,921.2 1630.7,920.5 1632.5,919.9 1634.3,919.2 1636.1,918.6 1637.8,917.9 1639.6,917.3 1641.4,916.6 1643.2,916 1644.9,915.3 1646.7,914.6 1648.5,913.9 1650.3,913.3 1652.1,912.7 1653.8,912 1655.6,911.4 1657.4,910.7 1659.2,910 1660.9,909.4 1662.7,908.7 1664.5,908.1 1666.3,907.5 1668.1,906.8 1669.8,906.1 1671.6,905.5 1673.4,904.8 1675.2,904.1 1676.9,903.5 1678.7,902.9 1680.5,902.2 1682.3,901.6 1684,901 1685.8,900.3 1687.6,899.6 1689.4,899 1691.2,898.3 1692.9,897.7 1694.7,897.1 1696.5,896.4 1698.3,895.7 1700,895.1 1701.8,894.4 1703.6,893.8 1705.4,893.1 1707.2,892.5 1708.9,891.9 1710.7,891.2 1712.5,890.5 1714.3,889.9 1716,889.3 1717.8,888.6 1719.6,887.9 1721.4,887.3 1723.2,886.7 1724.9,886 1726.7,885.4 1728.5,884.7 1730.3,884.1 1732,883.4 1733.8,882.8 1735.6,882.1 1737.4,881.5 1739.2,880.8 1740.9,880.2 1742.7,879.6 1744.5,878.9 1746.3,878.3 1748,877.7 1749.8,877 1751.6,876.3 1753.4,875.7 1755.2,875 1756.9,874.4 1758.7,873.8 1760.5,873.2 1762.3,872.6 1764,871.9 1765.8,871.2 1767.6,870.5 1769.4,869.8 1771.1,869.1 1772.9,868.5 1774.7,867.9 1776.5,867.2 1778.3,866.6 1780,866 1781.8,865.3 1783.6,864.7 1785.4,864.1 1787.1,863.4 1788.9,862.8 1790.7,862.1 1792.5,861.5 1794.3,860.8 1796,860.2 1797.8,859.6 1799.6,859 1801.4,858.3 1803.1,857.7 1804.9,857 1806.7,856.4 1808.5,855.7 1810.3,855 1812,854.4 1813.8,853.7 1815.6,853.1 1817.4,852.5 1819.1,851.8 1820.9,851.2 1822.7,850.6 1824.5,850 1826.2,849.3 1828,848.6 1829.8,848 1831.6,847.4 1833.4,846.7 1835.1,846.1 1836.9,845.4 1838.7,844.8 1840.5,844.2 1842.2,843.6 1844,842.9 1845.8,842.3 1847.6,841.7 1849.4,841 1851.1,840.4 1852.9,839.7 1854.7,839.1 1856.5,838.5 1858.2,837.9 1860,837.3 1861.8,836.7 1863.6,836 1865.4,835.3 1867.1,834.7 1868.9,834.1 1870.7,833.5 1872.5,832.8 1874.2,832.2 1876,831.6 1877.8,831 1879.6,830.3 1881.4,829.7 1883.1,829.1 1884.9,828.4 1886.7,827.8 1888.5,827.1 1890.2,826.5 1892,825.9 1893.8,825.2 1895.6,824.6 1897.4,824 1899.1,823.3 1900.9,822.7 1902.7,822.1 1904.5,821.5 1906.2,820.8 1908,820.2 1909.8,819.6 1911.6,819 1913.3,818.3 1915.1,817.7 1916.9,817 1918.7,816.4 1920.5,815.7 1922.2,815.1 1924,814.5 1925.8,813.9 1927.6,813.2 1929.3,812.6 1931.1,812 1932.9,811.3 1934.7,810.7 1936.5,810.1 1938.2,809.4 1940,808.8 1941.8,808.2 1943.6,807.6 1945.3,806.9 1947.1,806.3 1948.9,805.7 1950.7,805 1952.5,804.4 1954.2,803.8 1956,803.1 1957.8,802.5 1959.6,801.9 1961.3,801.3 1963.1,800.7 1964.9,800.1 1966.7,799.4 1968.5,798.8 1970.2,798.2 1972,797.6 1973.8,797 1975.6,796.4 1977.3,795.7 1979.1,795.1 1980.9,794.5 1982.7,793.9 1984.4,793.3 1986.2,792.7 1988,792 1989.8,791.4 1991.6,790.8 1993.3,790.2 1995.1,789.5 1996.9,788.9 1998.7,788.3 2000.4,787.7 2002.2,787 2004,786.4" fill="none" stroke="#77AC30" stroke-width="11.5" stroke-linecap="round" stroke-linejoin="round"/>
<rect x="262.8" y="99.6" width="600.2" height="318.3" fill="#fff" stroke="#262626" stroke-width="3.6"/>
<path d="M278.9,137H439.1" stroke="#0072BD" stroke-width="12" stroke-dasharray="39 37.1"/>
<path d="M278.9,198H439.1" stroke="#D95319" stroke-width="12" stroke-dasharray="39 8.1 20 9"/>
<path d="M358.5,236.9V280.9" stroke="#EDB120" stroke-width="1.2"/><path d="M342,236.9H375M342,280.9H375" stroke="#EDB120" stroke-width="1.8"/><circle cx="358.5" cy="258.4" r="5.5" fill="#EDB120"/>
<path d="M358.5,297.5V341.5" stroke="#7E2F8E" stroke-width="1.2"/><path d="M342,297.5H375M342,341.5H375" stroke="#7E2F8E" stroke-width="1.8"/><circle cx="358.5" cy="319" r="5.5" fill="#7E2F8E"/>
<path d="M358.5,358.1V402.1" stroke="#77AC30" stroke-width="1.2"/><path d="M342,358.1H375M342,402.1H375" stroke="#77AC30" stroke-width="1.8"/><circle cx="358.5" cy="379.6" r="5.5" fill="#77AC30"/>
<text transform="translate(449.3,149.4) scale(0.97,1)" font-family="Liberation Serif, Times New Roman, serif" font-size="53.8" fill="#000" stroke="#000" stroke-width="0.6">Lower Bound</text>
<text transform="translate(449.67,210.4) scale(1,1)" font-family="Liberation Serif, Times New Roman, serif" font-size="53.8" fill="#000" stroke="#000" stroke-width="0.6">Upper Bound</text>
<text transform="translate(473.23,270.9) scale(1.14,1)" font-family="Liberation Serif, Times New Roman, serif" font-size="53.5" fill="#000" font-style="italic" stroke="#000" stroke-width="0.6">P</text>
<text transform="translate(514.03,271.06) scale(0.92,1.03)" font-family="Liberation Serif, Times New Roman, serif" font-size="53.5" fill="#000" stroke="#000" stroke-width="0.6">(</text>
<text transform="translate(533.91,270.9) scale(1.13,1)" font-family="Liberation Serif, Times New Roman, serif" font-size="53.5" fill="#000" font-style="italic" stroke="#000" stroke-width="0.6">X</text>
<text transform="translate(570.82,278.7) scale(1.12,1.01)" font-family="Liberation Serif, Times New Roman, serif" font-size="37" fill="#000" font-style="italic" stroke="#000" stroke-width="0.5">i</text>
<text transform="translate(598.26,274.32) scale(1.37,0.9)" font-family="Liberation Serif, Times New Roman, serif" font-size="53.5" fill="#000" stroke="#000" stroke-width="0.6">=</text>
<text transform="translate(650.06,270.9) scale(0.99,1)" font-family="Liberation Serif, Times New Roman, serif" font-size="53.5" fill="#000" stroke="#000" stroke-width="0.6">1</text>
<text transform="translate(676.18,271.06) scale(0.94,1.03)" font-family="Liberation Serif, Times New Roman, serif" font-size="53.5" fill="#000" stroke="#000" stroke-width="0.6">)</text>
<text transform="translate(707.38,274.32) scale(1.36,0.9)" font-family="Liberation Serif, Times New Roman, serif" font-size="53.5" fill="#000" stroke="#000" stroke-width="0.6">=</text>
<text transform="translate(760.19,270.9) scale(0.94,1)" font-family="Liberation Serif, Times New Roman, serif" font-size="53.5" fill="#000" stroke="#000" stroke-width="0.6">0.5</text>
<text transform="translate(473.23,331.9) scale(1.14,1)" font-family="Liberation Serif, Times New Roman, serif" font-size="53.5" fill="#000" font-style="italic" stroke="#000" stroke-width="0.6">P</text>
<text transform="translate(514.03,332.06) scale(0.92,1.03)" font-family="Liberation Serif, Times New Roman, serif" font-size="53.5" fill="#000" stroke="#000" stroke-width="0.6">(</text>
<text transform="translate(533.91,331.9) scale(1.13,1)" font-family="Liberation Serif, Times New Roman, serif" font-size="53.5" fill="#000" font-style="italic" stroke="#000" stroke-width="0.6">X</text>
<text transform="translate(570.82,339.7) scale(1.12,1.01)" font-family="Liberation Serif, Times New Roman, serif" font-size="37" fill="#000" font-style="italic" stroke="#000" stroke-width="0.5">i</text>
<text transform="translate(598.26,335.32) scale(1.37,0.9)" font-family="Liberation Serif, Times New Roman, serif" font-size="53.5" fill="#000" stroke="#000" stroke-width="0.6">=</text>
<text transform="translate(650.06,331.9) scale(0.99,1)" font-family="Liberation Serif, Times New Roman, serif" font-size="53.5" fill="#000" stroke="#000" stroke-width="0.6">1</text>
<text transform="translate(676.18,332.06) scale(0.94,1.03)" font-family="Liberation Serif, Times New Roman, serif" font-size="53.5" fill="#000" stroke="#000" stroke-width="0.6">)</text>
<text transform="translate(707.38,335.32) scale(1.36,0.9)" font-family="Liberation Serif, Times New Roman, serif" font-size="53.5" fill="#000" stroke="#000" stroke-width="0.6">=</text>
<text transform="translate(760.19,331.9) scale(0.94,1)" font-family="Liberation Serif, Times New Roman, serif" font-size="53.5" fill="#000" stroke="#000" stroke-width="0.6">0.99</text>
<text transform="translate(473.23,392.9) scale(1.14,1)" font-family="Liberation Serif, Times New Roman, serif" font-size="53.5" fill="#000" font-style="italic" stroke="#000" stroke-width="0.6">P</text>
<text transform="translate(514.03,393.06) scale(0.92,1.03)" font-family="Liberation Serif, Times New Roman, serif" font-size="53.5" fill="#000" stroke="#000" stroke-width="0.6">(</text>
<text transform="translate(533.91,392.9) scale(1.13,1)" font-family="Liberation Serif, Times New Roman, serif" font-size="53.5" fill="#000" font-style="italic" stroke="#000" stroke-width="0.6">X</text>
<text transform="translate(570.82,400.7) scale(1.12,1.01)" font-family="Liberation Serif, Times New Roman, serif" font-size="37" fill="#000" font-style="italic" stroke="#000" stroke-width="0.5">i</text>
<text transform="translate(598.26,396.32) scale(1.37,0.9)" font-family="Liberation Serif, Times New Roman, serif" font-size="53.5" fill="#000" stroke="#000" stroke-width="0.6">=</text>
<text transform="translate(650.06,392.9) scale(0.99,1)" font-family="Liberation Serif, Times New Roman, serif" font-size="53.5" fill="#000" stroke="#000" stroke-width="0.6">1</text>
<text transform="translate(676.18,393.06) scale(0.94,1.03)" font-family="Liberation Serif, Times New Roman, serif" font-size="53.5" fill="#000" stroke="#000" stroke-width="0.6">)</text>
<text transform="translate(707.38,396.32) scale(1.36,0.9)" font-family="Liberation Serif, Times New Roman, serif" font-size="53.5" fill="#000" stroke="#000" stroke-width="0.6">=</text>
<text transform="translate(760.15,392.9) scale(0.96,1)" font-family="Liberation Serif, Times New Roman, serif" font-size="53.5" fill="#000" stroke="#000" stroke-width="0.6">0.9</text>
</svg></body></html>
